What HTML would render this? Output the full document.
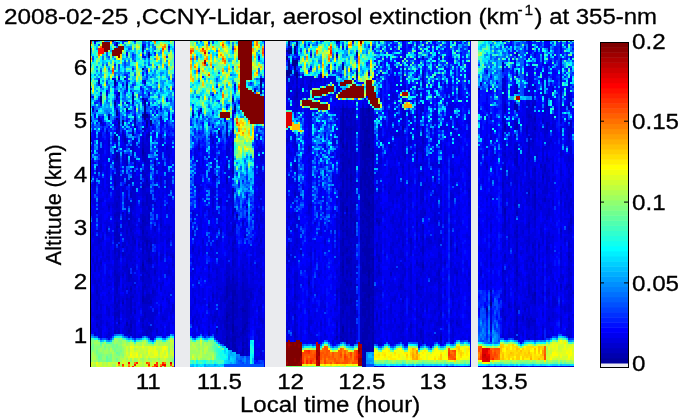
<!DOCTYPE html>
<html><head><meta charset="utf-8"><title>2008-02-25 CCNY-Lidar aerosol extinction</title>
<style>
html,body{margin:0;padding:0;background:#fff;}
body{width:700px;height:420px;overflow:hidden;position:relative;}
svg.page{position:absolute;left:0;top:0;}
svg.page text{font-family:"Liberation Sans",Arial,Helvetica,sans-serif;fill:#000;stroke:#000;stroke-width:0.3px;}
.plot{position:absolute;left:90px;top:40px;}
.cb{position:absolute;left:600px;top:42px;}
</style></head><body>
<svg class="plot" width="484" height="327" viewBox="0 0 484 327"><rect width="484" height="327" fill="#0000e0"/><g stroke-width="2" fill="none" shape-rendering="crispEdges"><path stroke="#00008f" d="M5 0v2M9 42v2M11 56v6M19 76v2M23 0v2M25 40v4M25 62v2M27 4v2M27 70v6M27 78v2M29 52v2M29 82v2M33 80v2M37 68v2M43 56v2M53 6v4M53 28v2M53 58v2M53 74v2M55 60v4M55 66v14M57 74v2M57 82v2M59 14v2M61 80v4M103 74v2M129 92v2M143 90v2M145 66v6M165 50v2M171 38v8M171 48v6M197 16v4M197 32v4M199 0v6M199 10v4M199 20v14M201 8v6M201 30v4M203 20v6M205 6v8M205 20v10M207 2v4M207 20v4M207 32v6M231 34v2M247 0v2M247 14v2M249 0v2M253 24v4M263 0v2M267 12v4M279 32v2M357 326v2M401 262v4"/><path stroke="#00009f" d="M9 40v2M25 44v2M25 64v2M25 96v4M27 2v2M27 116v2M33 82v2M37 44v2M43 58v2M45 78v2M45 86v2M53 110v4M53 224v2M55 64v2M57 76v2M57 80v2M57 84v2M59 16v2M61 84v2M111 70v2M129 90v2M137 94v2M137 276v2M143 92v2M143 102v2M143 262v2M143 284v8M147 174v2M197 10v2M197 30v2M199 8v2M199 34v2M253 104v4M253 182v2M253 226v2M253 286v6M257 168v4M267 32v4M275 102v4M275 132v2M275 308v2M277 90v2M279 68v4M279 104v4M279 162v4M279 230v8M279 240v6M279 254v4M283 114v4M283 218v2M389 48v2M397 268v2M415 86v2"/><path stroke="#0000af" d="M3 68v2M9 78v2M19 78v2M25 94v2M25 142v4M27 56v2M27 114v2M27 118v2M27 186v2M29 38v2M29 54v2M29 80v2M29 84v4M29 204v2M29 282v2M33 262v2M35 98v2M37 282v4M39 290v2M41 248v2M41 284v4M43 54v2M43 92v4M45 80v2M53 88v2M53 108v2M53 114v2M53 146v2M53 180v2M53 190v4M53 222v2M53 226v4M53 256v6M55 42v2M57 86v2M57 140v2M57 200v6M59 94v2M59 218v4M61 206v2M65 122v2M127 288v4M137 92v2M137 96v2M137 138v4M137 246v12M137 272v4M137 278v4M137 284v6M137 296v8M139 274v2M139 304v6M143 60v2M143 104v2M143 130v4M143 148v6M143 172v2M143 238v2M143 250v12M143 264v20M143 292v2M143 296v12M145 250v6M145 296v6M145 304v6M147 176v2M153 268v4M153 288v6M153 302v4M153 308v6M155 270v2M155 284v6M157 166v2M157 282v2M199 50v2M205 32v4M207 52v6M219 242v2M231 36v2M247 296v2M251 98v4M251 152v4M251 296v2M253 28v2M253 68v32M253 102v2M253 114v2M253 122v10M253 140v8M253 162v16M253 180v2M253 184v2M253 190v2M253 198v8M253 212v4M253 220v6M253 228v8M253 252v2M253 258v6M253 270v4M253 292v2M253 298v2M255 240v2M255 252v4M257 76v2M257 88v4M257 102v8M257 134v6M257 152v6M257 166v2M257 172v4M257 180v2M257 186v2M257 190v6M257 208v4M257 218v6M257 230v4M257 242v4M257 258v6M257 300v4M259 120v4M259 220v4M261 88v2M261 134v8M261 174v4M261 218v2M261 234v2M261 242v4M261 258v6M261 292v2M265 182v4M265 190v4M265 270v4M267 30v2M271 100v2M271 136v14M271 176v2M271 194v6M273 68v22M273 104v16M273 128v12M273 160v2M273 172v4M273 180v4M273 190v2M273 202v2M273 208v4M273 222v12M273 242v10M273 258v8M273 268v8M273 288v2M273 292v18M273 318v10M275 76v10M275 88v14M275 106v26M275 134v12M275 150v18M275 174v4M275 194v4M275 206v10M275 226v8M275 244v8M275 254v12M275 268v10M275 282v18M275 304v4M275 310v18M277 68v6M277 76v2M277 86v4M277 92v26M277 120v6M277 132v8M277 144v4M277 158v12M277 176v6M277 186v2M277 196v36M277 234v2M277 244v14M277 262v8M277 278v22M277 306v6M279 72v22M279 98v6M279 108v10M279 120v2M279 126v6M279 136v20M279 160v2M279 166v8M279 176v28M279 208v14M279 224v6M279 238v2M279 246v8M279 258v28M279 290v4M279 302v10M281 76v8M281 112v8M281 132v4M281 140v4M281 148v6M281 164v6M281 174v2M281 182v6M281 196v2M281 208v6M281 216v4M281 228v6M281 248v8M281 262v2M281 274v2M281 286v2M283 68v2M283 82v18M283 108v6M283 118v22M283 144v10M283 156v22M283 180v14M283 208v6M283 216v2M283 220v12M283 234v14M283 250v6M283 258v32M283 292v20M287 180v2M289 182v2M313 86v4M323 326v2M333 224v4M351 296v4M397 270v2M401 250v2M401 260v2M413 22v2M415 84v2M415 88v2M415 168v6M425 64v6M427 64v8M427 84v4M427 172v2M427 230v2M427 270v2M427 280v2M439 152v2M445 78v2M445 88v2M445 154v2M445 252v4M453 136v2M479 216v2"/><path stroke="#0000bf" d="M7 130v2M7 250v4M7 262v2M7 276v2M7 284v2M11 80v4M11 126v2M11 222v2M17 188v2M19 74v2M19 166v2M25 100v2M25 108v4M25 118v4M25 126v2M25 136v6M25 146v2M25 174v4M25 192v4M25 198v4M25 208v6M25 230v6M25 242v4M25 256v8M25 268v2M25 272v8M25 290v4M27 58v2M27 90v4M27 96v2M27 112v2M27 120v2M27 126v4M27 162v6M27 172v4M27 182v4M27 188v14M27 218v2M27 234v20M27 264v4M27 272v4M29 88v2M29 114v12M29 132v4M29 156v2M29 172v6M29 186v2M29 194v8M29 210v8M29 236v6M29 260v4M29 270v8M29 280v2M29 290v4M33 92v4M33 112v4M33 172v2M33 206v2M33 212v4M33 234v2M33 260v2M35 38v2M35 96v2M35 100v2M37 46v2M37 62v2M37 70v2M37 114v12M37 142v4M37 156v4M37 164v2M37 172v8M37 190v4M37 224v4M37 248v2M37 258v2M39 142v2M39 180v6M39 230v12M39 288v2M39 292v2M41 138v2M41 152v6M41 164v4M41 172v8M41 188v4M41 234v4M41 246v2M41 250v2M41 256v18M41 280v4M41 288v4M41 294v2M43 62v2M43 108v6M43 128v2M43 148v2M43 196v4M43 256v2M45 82v4M45 122v4M45 200v4M45 244v2M45 270v4M49 204v2M51 186v2M53 76v2M53 98v2M53 102v6M53 116v4M53 130v4M53 144v2M53 148v2M53 162v4M53 174v6M53 182v8M53 194v6M53 202v12M53 220v2M53 230v2M53 234v8M53 246v10M53 262v2M53 278v4M53 284v4M55 88v2M55 112v10M55 134v2M55 146v2M55 176v10M55 196v6M55 228v4M55 244v4M55 258v6M55 272v6M57 94v6M57 138v2M57 142v4M57 154v12M57 182v2M57 192v2M57 198v2M57 206v6M57 220v2M57 232v2M57 254v10M57 290v6M59 12v2M59 64v2M59 76v2M59 92v2M59 96v2M59 144v2M59 166v4M59 174v6M59 200v2M59 210v8M59 222v2M59 234v4M59 254v6M59 262v2M59 286v4M61 202v4M61 208v2M61 218v6M61 260v4M61 288v4M63 250v4M65 120v2M65 124v2M65 230v4M67 112v2M67 290v2M71 78v2M71 184v2M83 216v2M103 72v2M103 180v2M103 208v2M103 280v2M109 108v2M119 226v2M119 264v4M119 292v4M121 94v4M123 102v2M123 254v4M125 276v2M127 292v2M131 190v2M135 256v6M135 280v8M135 302v4M137 84v2M137 124v4M137 136v2M137 142v2M137 232v2M137 238v8M137 258v2M137 264v8M137 282v2M137 290v6M137 304v4M139 236v20M139 260v14M139 276v6M139 284v20M141 244v8M141 260v6M141 268v8M141 278v12M141 298v4M141 308v2M143 58v2M143 106v6M143 118v4M143 126v4M143 154v2M143 170v2M143 174v2M143 186v6M143 202v4M143 208v4M143 220v6M143 234v4M143 240v10M143 294v2M143 308v4M145 44v2M145 184v4M145 200v4M145 244v6M145 256v4M145 262v12M145 276v4M145 286v10M145 302v2M145 310v2M147 242v4M147 254v24M147 286v4M147 292v6M147 308v6M149 296v2M151 268v2M151 292v4M151 312v4M153 182v2M153 232v4M153 242v18M153 266v2M153 272v16M153 294v8M153 306v2M153 314v2M155 196v2M155 250v20M155 272v12M155 290v6M155 302v2M155 308v2M157 250v2M157 258v24M157 284v4M157 290v2M157 298v18M159 260v2M161 252v6M169 96v2M169 186v2M171 46v2M171 128v2M171 200v2M171 248v2M173 116v2M197 36v4M197 100v2M199 36v2M199 48v2M199 52v4M199 138v2M199 176v2M199 202v8M199 214v4M205 30v2M205 56v4M205 124v6M205 152v4M205 244v2M205 254v4M205 274v4M205 292v6M207 38v6M207 46v6M207 58v2M211 210v4M213 36v2M219 46v2M219 106v4M219 240v2M219 244v2M221 40v2M221 164v2M247 48v2M247 250v4M247 258v2M247 282v4M247 288v4M247 298v2M251 76v14M251 94v4M251 102v2M251 114v4M251 122v2M251 130v8M251 150v2M251 156v2M251 160v12M251 176v2M251 184v6M251 200v16M251 222v10M251 234v2M251 244v22M251 268v28M251 298v4M253 66v2M253 100v2M253 108v2M253 112v2M253 116v6M253 132v8M253 148v14M253 178v2M253 186v4M253 192v6M253 206v6M253 216v4M253 236v16M253 254v4M253 264v6M253 274v4M253 284v2M253 294v4M253 300v2M255 68v4M255 80v10M255 106v6M255 116v18M255 158v6M255 166v4M255 176v4M255 188v4M255 198v2M255 206v8M255 238v2M255 242v2M255 246v6M255 256v14M255 292v6M257 68v8M257 78v2M257 86v2M257 92v10M257 110v24M257 140v12M257 158v4M257 176v4M257 182v4M257 188v2M257 196v4M257 206v2M257 212v2M257 216v2M257 224v2M257 228v2M257 234v4M257 240v2M257 246v2M257 254v4M257 264v2M257 272v28M259 70v4M259 78v4M259 86v14M259 118v2M259 124v4M259 138v2M259 150v6M259 188v16M259 206v4M259 216v4M259 224v8M259 240v14M259 260v6M259 276v4M261 72v16M261 90v44M261 142v16M261 160v14M261 178v20M261 202v6M261 210v8M261 220v14M261 236v2M261 240v2M261 246v2M261 250v8M261 264v28M261 294v4M263 68v6M263 86v4M263 106v6M263 136v4M263 144v2M263 150v2M263 164v8M263 178v4M263 194v4M263 212v2M263 250v12M263 266v22M265 80v16M265 112v24M265 142v2M265 148v2M265 162v6M265 176v6M265 186v4M265 194v2M265 204v4M265 224v6M265 238v2M265 244v12M265 258v12M265 274v2M265 278v16M265 296v8M271 68v32M271 102v34M271 150v26M271 178v16M271 200v26M271 230v32M271 264v40M273 66v2M273 90v14M273 120v8M273 140v20M273 162v10M273 176v4M273 184v6M273 192v10M273 204v4M273 212v10M273 234v8M273 252v6M273 266v2M273 276v12M273 290v2M273 310v8M275 68v8M275 86v2M275 146v4M275 168v6M275 178v16M275 198v8M275 216v10M275 234v10M275 252v2M275 266v2M275 278v4M275 300v4M277 74v2M277 78v8M277 118v2M277 126v6M277 140v4M277 148v10M277 170v6M277 182v4M277 188v8M277 232v2M277 236v8M277 258v4M277 270v8M277 300v6M279 66v2M279 94v4M279 118v2M279 122v4M279 132v4M279 156v4M279 174v2M279 204v4M279 222v2M279 286v4M279 294v8M281 68v8M281 84v28M281 120v4M281 126v6M281 136v4M281 144v4M281 154v10M281 170v4M281 176v6M281 188v8M281 198v10M281 214v2M281 220v8M281 234v14M281 256v6M281 264v10M281 276v10M281 288v24M283 70v12M283 100v8M283 140v4M283 154v2M283 178v2M283 194v14M283 214v2M283 232v2M283 248v2M283 256v2M283 290v2M285 326v2M287 178v2M287 204v2M287 214v2M287 274v6M287 326v2M289 180v2M289 184v2M289 216v6M289 230v4M299 152v2M301 106v2M301 232v4M301 326v2M311 244v4M313 36v4M313 60v2M313 76v4M313 106v2M313 126v2M313 204v2M313 260v2M315 72v2M315 116v2M321 110v2M321 198v6M321 284v4M327 74v4M327 86v2M327 110v2M327 114v6M327 182v4M327 198v2M327 222v2M327 244v6M327 326v2M331 124v2M331 290v8M333 32v4M333 38v4M333 58v2M333 70v2M333 88v6M333 98v6M333 110v2M333 114v4M333 158v2M333 184v6M333 196v4M333 206v8M333 222v2M333 228v2M333 282v4M333 300v4M335 172v2M341 326v2M345 138v4M349 230v6M349 242v2M349 264v2M351 200v2M351 272v4M351 294v2M351 300v2M355 222v2M361 200v6M363 326v2M367 208v4M367 232v2M367 282v2M379 150v2M379 326v2M397 126v2M401 214v2M401 256v4M401 266v2M401 282v2M405 326v2M413 0v2M413 24v8M413 48v2M413 80v2M413 92v4M413 142v6M413 166v2M413 230v2M413 270v2M415 64v8M415 82v2M415 90v2M415 114v2M415 126v4M415 174v14M415 214v4M415 242v4M415 250v6M415 276v4M419 264v4M423 326v2M425 52v2M425 62v2M425 80v4M425 86v4M425 94v2M425 108v2M425 118v6M425 164v2M425 192v2M425 214v4M425 262v4M427 12v4M427 34v2M427 46v8M427 82v2M427 88v2M427 112v14M427 160v2M427 170v2M427 174v2M427 186v2M427 190v2M427 194v4M427 202v10M427 226v4M427 232v4M427 242v4M427 268v2M427 272v2M427 276v4M427 282v12M427 296v2M427 326v2M431 326v2M433 276v4M435 268v2M437 86v8M437 278v2M439 44v4M439 64v2M439 74v4M439 96v18M439 118v2M439 150v2M439 154v2M439 182v6M439 244v10M439 280v8M439 298v2M441 76v2M441 278v2M443 64v4M443 100v2M443 146v2M443 204v4M443 218v4M443 254v6M443 280v2M445 76v2M445 80v2M445 86v2M445 128v4M445 142v2M445 150v4M445 156v14M445 176v4M445 244v4M445 256v8M445 280v2M445 294v2M449 204v4M451 124v4M453 52v4M453 80v2M453 134v2M453 138v2M453 252v2M455 70v2M455 124v8M455 158v4M455 326v2M457 58v10M457 82v8M457 118v2M457 206v4M459 252v2M459 278v2M471 90v2M471 152v2M471 190v2M471 244v4M477 246v2M479 64v4M479 94v4M479 186v4M479 202v6M479 212v4M479 218v2M479 228v2M479 244v2M479 278v2M479 296v2M479 326v2M481 80v8M481 178v6"/><path stroke="#0000cf" d="M1 100v2M1 254v6M1 268v8M3 122v2M3 192v4M3 218v4M5 142v4M5 224v8M5 240v4M5 292v4M7 126v4M7 132v4M7 172v2M7 190v2M7 216v8M7 244v6M7 254v2M7 260v2M7 264v6M7 274v2M7 278v2M7 282v2M7 286v2M9 76v2M9 98v4M9 112v2M9 160v4M9 178v2M9 190v2M9 198v6M9 226v4M9 240v2M9 254v6M9 274v6M9 286v6M11 62v2M11 94v2M11 124v2M11 128v4M11 160v2M11 184v6M11 200v2M11 206v4M11 220v2M11 224v2M11 264v6M11 274v4M11 280v6M11 288v10M13 84v2M13 196v4M13 212v4M17 52v2M17 90v4M17 186v2M17 190v4M17 216v2M17 266v4M17 282v4M17 296v2M19 100v6M19 148v4M19 164v2M19 168v2M19 210v4M19 216v4M19 236v2M19 244v2M19 252v2M19 268v8M19 288v2M19 292v4M23 164v4M25 60v2M25 84v2M25 112v2M25 122v4M25 134v2M25 148v2M25 156v14M25 172v2M25 178v2M25 182v2M25 188v4M25 196v2M25 202v6M25 214v16M25 236v6M25 246v10M25 264v4M25 270v2M25 280v10M27 88v2M27 98v8M27 108v2M27 122v4M27 130v4M27 136v10M27 150v8M27 160v2M27 168v4M27 176v6M27 202v2M27 208v4M27 216v2M27 220v14M27 254v4M27 262v2M27 268v4M27 276v2M27 286v4M27 292v2M29 78v2M29 90v2M29 112v2M29 126v6M29 136v8M29 148v8M29 158v14M29 178v2M29 182v4M29 192v2M29 206v4M29 218v2M29 226v2M29 232v4M29 242v4M29 254v6M29 264v6M29 278v2M29 284v2M29 288v2M31 190v2M33 84v2M33 90v2M33 96v4M33 116v4M33 134v6M33 148v4M33 174v18M33 202v4M33 216v2M33 226v4M33 232v2M33 236v2M33 244v6M33 258v2M33 264v2M33 270v4M35 94v2M35 102v2M35 120v4M35 130v4M35 144v2M35 160v4M35 180v4M35 202v4M35 212v4M35 226v6M35 286v4M35 294v2M37 48v2M37 102v2M37 136v6M37 150v6M37 160v4M37 166v6M37 180v2M37 186v4M37 194v6M37 206v6M37 216v8M37 228v14M37 246v2M37 254v4M37 260v18M37 280v2M37 286v10M39 106v2M39 140v2M39 160v6M39 174v4M39 186v2M39 196v8M39 214v6M39 228v2M39 252v2M39 258v10M39 270v10M39 284v4M41 106v4M41 116v6M41 140v4M41 150v2M41 162v2M41 168v4M41 180v8M41 192v4M41 204v2M41 210v12M41 238v4M41 252v4M41 274v2M41 278v2M41 292v2M43 90v2M43 100v8M43 114v2M43 120v2M43 130v12M43 146v2M43 150v20M43 176v4M43 184v6M43 192v4M43 200v12M43 216v2M43 224v2M43 228v4M43 238v8M43 254v2M43 276v8M45 76v2M45 98v8M45 118v4M45 126v2M45 132v2M45 146v20M45 178v4M45 186v2M45 198v2M45 204v2M45 220v2M45 226v4M45 240v2M45 246v2M45 250v4M45 262v4M45 268v2M45 280v18M49 124v4M49 196v2M49 202v2M49 206v2M49 216v2M51 140v2M51 174v6M51 184v2M51 188v2M51 196v4M51 226v6M51 236v4M51 278v4M53 62v2M53 92v2M53 96v2M53 100v2M53 120v2M53 134v4M53 142v2M53 150v8M53 160v2M53 166v8M53 200v2M53 214v6M53 232v2M53 242v4M53 264v10M53 276v2M53 282v2M53 288v2M53 292v4M55 40v2M55 90v2M55 104v8M55 122v2M55 132v2M55 136v2M55 142v4M55 148v8M55 162v14M55 186v10M55 202v2M55 206v4M55 214v6M55 226v2M55 232v2M55 236v8M55 248v2M55 256v2M55 264v8M55 278v2M55 286v8M57 100v2M57 106v8M57 116v10M57 130v4M57 136v2M57 146v2M57 152v2M57 170v12M57 184v2M57 190v2M57 194v4M57 212v8M57 222v2M57 230v2M57 234v10M57 246v8M57 264v14M57 282v8M59 54v2M59 78v2M59 102v12M59 120v4M59 126v6M59 142v2M59 146v2M59 152v14M59 170v4M59 180v6M59 196v4M59 202v2M59 208v2M59 224v10M59 238v10M59 252v2M59 260v2M59 264v2M59 270v12M59 290v6M61 154v10M61 168v4M61 198v4M61 210v2M61 216v2M61 224v2M61 228v2M61 238v6M61 254v6M61 264v2M61 270v14M61 286v2M61 292v8M63 162v2M63 248v2M63 254v4M63 272v18M63 298v2M65 126v2M65 146v4M65 162v4M65 186v6M65 198v6M65 216v4M65 228v2M65 234v2M65 240v2M65 250v6M65 270v6M67 128v2M67 136v4M67 212v12M67 244v4M67 270v4M67 288v2M67 292v2M71 68v2M71 76v2M71 94v6M71 136v10M71 166v2M71 178v6M71 186v2M71 194v2M71 214v6M71 244v6M71 266v6M73 98v2M73 126v2M73 214v2M73 242v2M73 258v2M73 276v4M75 186v2M75 278v2M77 106v4M77 140v8M77 166v4M77 200v4M77 212v4M77 258v2M79 114v4M79 186v4M79 198v4M79 230v4M79 260v4M81 144v4M81 214v2M81 272v2M83 194v4M83 214v2M83 218v2M83 224v2M83 248v2M83 264v8M103 172v4M103 190v6M103 206v2M103 210v2M103 220v2M103 230v2M103 278v2M103 282v4M105 144v2M105 258v6M105 276v2M107 280v4M109 72v2M109 104v4M109 148v4M109 158v4M109 210v4M109 238v2M109 286v4M113 200v4M119 118v2M119 170v2M119 186v2M119 224v2M119 228v2M119 234v4M119 262v2M119 286v2M119 290v2M121 196v2M121 208v2M121 274v2M123 98v4M123 122v4M123 136v4M123 150v4M123 158v10M123 172v2M123 228v2M123 252v2M123 258v4M123 276v8M125 136v4M125 154v2M125 272v4M125 278v4M127 100v2M127 136v2M127 190v2M127 200v6M127 228v6M127 236v4M127 246v2M127 252v8M127 270v8M127 284v2M127 294v2M127 298v2M129 94v2M129 116v4M129 158v6M129 186v2M129 248v2M129 266v2M129 278v4M131 94v2M131 158v6M131 178v2M131 188v2M131 192v2M131 248v2M131 256v14M131 280v10M131 300v4M133 254v8M133 276v8M133 290v14M135 130v2M135 234v2M135 246v10M135 262v2M135 268v12M135 288v8M135 298v4M137 82v2M137 86v2M137 106v10M137 120v4M137 128v2M137 162v4M137 176v2M137 184v6M137 218v2M137 224v8M137 234v4M137 260v4M139 108v4M139 134v2M139 182v2M139 192v4M139 200v4M139 224v12M139 256v4M139 282v2M141 96v2M141 130v2M141 160v2M141 192v4M141 228v2M141 240v4M141 252v4M141 258v2M141 266v2M141 276v2M141 290v2M141 294v4M141 302v6M143 72v2M143 76v2M143 100v2M143 112v6M143 122v4M143 134v4M143 156v14M143 176v2M143 182v4M143 192v4M143 200v2M143 206v2M143 212v8M143 226v8M145 168v4M145 182v2M145 196v4M145 208v2M145 218v10M145 236v8M145 260v2M145 274v2M145 280v6M147 210v4M147 230v12M147 246v8M147 278v8M147 290v2M147 298v10M149 250v16M149 268v28M149 298v8M149 312v2M151 246v18M151 266v2M151 270v8M151 280v8M151 290v2M151 296v6M151 310v2M153 180v2M153 184v2M153 224v8M153 236v6M153 260v6M155 194v2M155 214v2M155 230v20M155 296v6M155 304v4M155 310v6M157 174v2M157 222v2M157 238v12M157 252v6M157 288v2M157 292v6M159 248v8M159 258v2M159 262v16M159 282v2M159 290v2M159 308v4M161 222v4M161 232v2M161 248v4M161 258v2M163 232v4M163 238v2M163 248v2M163 254v6M167 114v2M167 168v4M167 178v4M167 198v2M167 224v4M167 290v4M167 318v2M169 94v2M169 132v2M169 156v4M169 184v2M169 188v2M169 204v2M169 250v2M169 266v6M169 276v4M169 290v10M171 106v2M171 116v6M171 126v2M171 144v2M171 152v2M171 160v6M171 174v8M171 198v2M171 202v2M171 210v4M171 228v12M171 246v2M171 250v4M171 264v6M171 278v4M171 312v4M173 38v2M173 114v2M173 118v2M173 138v4M173 178v2M173 212v2M173 280v4M197 40v2M197 52v6M197 90v2M197 98v2M197 102v2M197 122v6M197 134v4M197 154v4M197 182v2M197 188v6M197 208v2M197 212v4M197 220v4M197 282v4M197 288v4M199 42v6M199 56v2M199 96v6M199 108v6M199 136v2M199 140v4M199 172v4M199 178v2M199 194v4M199 218v2M199 228v4M199 238v10M199 270v12M199 286v4M201 46v4M201 186v4M203 18v2M203 40v4M203 56v4M203 160v2M203 184v2M203 208v2M203 216v4M203 268v2M203 292v2M205 50v6M205 60v2M205 94v12M205 122v2M205 150v2M205 156v2M205 162v2M205 172v6M205 184v8M205 204v2M205 232v12M205 246v8M205 258v2M205 262v8M205 278v14M205 298v4M207 18v2M207 24v2M207 44v2M207 60v8M207 70v2M207 124v10M207 178v4M207 190v2M207 198v6M207 206v2M207 232v10M207 256v4M207 284v2M207 296v2M209 50v4M209 152v4M209 180v4M211 44v6M213 38v8M213 54v2M219 44v2M219 48v4M219 94v2M219 110v2M219 120v2M219 164v10M219 236v4M219 246v2M219 258v4M219 270v4M219 280v14M221 14v2M221 38v2M221 42v8M221 74v4M221 162v2M221 166v2M221 212v4M221 222v8M221 252v2M221 280v4M221 294v2M223 38v2M225 182v2M225 210v2M225 246v2M227 38v2M227 300v2M229 234v2M231 38v4M231 58v2M231 192v2M231 282v4M235 40v4M235 130v2M235 172v2M235 200v4M235 266v2M235 294v2M239 30v2M243 136v2M243 190v4M243 300v4M245 40v6M245 52v8M245 68v2M245 102v2M245 268v2M245 298v2M247 2v2M247 42v6M247 50v4M247 94v2M247 116v2M247 148v2M247 160v4M247 172v4M247 178v22M247 206v4M247 230v4M247 248v2M247 254v4M247 260v6M247 280v2M247 286v2M247 292v4M249 136v4M249 150v6M249 180v4M249 236v6M249 248v4M249 302v2M251 68v2M251 72v4M251 90v4M251 104v10M251 118v4M251 124v2M251 128v2M251 138v4M251 146v4M251 158v2M251 172v4M251 178v6M251 190v10M251 216v6M251 232v2M251 236v8M251 266v2M253 64v2M253 110v2M253 278v6M255 72v2M255 76v4M255 90v8M255 104v2M255 112v4M255 134v24M255 164v2M255 170v2M255 174v2M255 180v8M255 192v6M255 200v6M255 214v24M255 244v2M255 270v22M255 298v4M257 60v2M257 66v2M257 80v6M257 162v4M257 200v6M257 214v2M257 226v2M257 238v2M257 248v6M257 266v6M259 68v2M259 74v4M259 82v4M259 100v10M259 112v6M259 128v10M259 140v10M259 156v16M259 174v14M259 204v2M259 210v6M259 232v8M259 254v6M259 266v10M259 280v8M259 292v10M261 68v4M261 158v2M261 198v4M261 208v2M261 238v2M261 248v2M261 298v8M263 74v12M263 90v16M263 112v24M263 140v4M263 146v4M263 152v12M263 172v6M263 182v12M263 198v6M263 206v6M263 214v36M263 262v4M263 288v2M263 292v14M265 60v4M265 68v12M265 96v16M265 136v6M265 144v4M265 150v12M265 168v8M265 196v8M265 208v6M265 216v8M265 230v8M265 240v4M265 256v2M265 276v2M265 294v2M267 36v2M267 84v8M267 112v10M267 142v2M267 154v2M267 162v2M267 180v2M267 198v4M267 220v4M267 244v2M267 254v6M267 274v4M267 290v2M271 226v4M271 262v2M273 64v2M279 64v2M281 124v2M285 112v2M285 148v4M285 164v6M285 248v8M285 260v4M285 266v2M285 290v4M285 300v4M287 74v4M287 126v2M287 144v2M287 160v4M287 172v4M287 182v2M287 202v2M287 206v8M287 216v2M287 226v2M287 232v6M287 248v4M287 272v2M287 280v2M289 84v8M289 110v6M289 122v2M289 150v4M289 156v4M289 172v2M289 178v2M289 192v8M289 214v2M289 224v6M289 234v2M289 250v2M289 264v4M289 284v6M289 302v4M291 32v4M291 48v2M291 58v4M291 88v2M291 100v2M291 118v6M291 150v2M291 168v6M291 178v4M291 192v2M291 204v8M291 220v2M291 232v4M291 246v2M291 250v4M291 256v2M291 264v2M291 272v6M291 280v6M291 302v4M293 100v2M293 172v2M293 326v2M295 146v2M295 186v2M295 214v2M295 242v2M295 270v4M299 70v4M299 150v2M301 82v2M301 92v2M301 104v2M301 108v4M301 128v8M301 146v4M301 180v2M301 206v8M301 264v10M303 54v4M303 80v2M303 88v2M303 144v2M303 160v4M303 176v8M303 202v4M303 210v4M303 228v2M303 258v2M303 326v2M305 36v4M305 70v2M305 94v4M305 118v2M305 134v10M305 188v2M305 216v6M305 256v6M305 278v4M307 94v2M307 130v4M307 152v4M307 160v2M307 192v2M307 202v2M307 228v2M309 92v4M309 116v4M309 152v4M309 184v4M309 198v4M309 216v2M309 246v4M309 286v2M309 300v2M311 64v4M311 124v2M311 148v6M311 176v10M311 190v6M311 210v8M311 222v4M311 240v4M311 248v2M311 254v4M311 272v2M311 276v4M311 290v4M311 296v2M311 326v2M313 0v2M313 18v2M313 26v2M313 34v2M313 40v2M313 58v2M313 62v2M313 68v8M313 80v2M313 84v2M313 90v6M313 102v4M313 108v8M313 124v2M313 128v6M313 140v20M313 162v4M313 168v10M313 192v12M313 206v2M313 212v6M313 224v6M313 234v8M313 244v6M313 258v2M313 262v2M313 270v6M313 282v10M313 296v4M313 326v2M315 16v2M315 46v4M315 70v2M315 74v2M315 100v2M315 104v2M315 112v4M315 118v2M315 148v4M315 164v6M315 182v4M315 196v2M315 218v4M315 228v8M315 250v2M315 256v2M319 70v4M319 78v2M319 100v4M319 112v2M319 124v6M319 142v4M319 154v4M319 178v2M319 188v6M319 198v4M319 228v2M319 266v4M319 288v4M319 300v2M319 326v2M321 74v8M321 84v2M321 94v4M321 100v4M321 112v2M321 140v2M321 152v6M321 164v2M321 204v12M321 224v20M321 250v14M321 268v2M321 282v2M321 288v10M327 46v8M327 58v8M327 70v4M327 78v2M327 84v2M327 88v2M327 98v2M327 104v6M327 112v2M327 120v2M327 124v4M327 150v8M327 166v4M327 176v2M327 180v2M327 186v6M327 196v2M327 200v2M327 220v2M327 224v2M327 238v2M327 242v2M327 250v4M327 268v10M327 284v8M327 296v6M329 52v4M329 92v4M329 108v2M329 134v8M329 204v2M329 224v2M329 244v4M329 252v4M329 276v2M329 292v2M329 302v6M329 326v2M331 68v8M331 106v6M331 132v2M331 150v14M331 170v8M331 196v2M331 208v4M331 222v6M331 232v4M331 246v4M331 254v4M331 264v4M331 274v6M331 288v2M331 298v2M333 16v4M333 30v2M333 36v2M333 42v2M333 46v2M333 56v2M333 64v6M333 86v2M333 94v4M333 104v6M333 112v2M333 118v2M333 132v4M333 146v12M333 160v2M333 168v10M333 190v6M333 200v6M333 214v2M333 220v2M333 230v2M333 246v2M333 262v4M333 268v4M333 278v4M333 290v10M333 326v2M335 102v2M335 144v2M335 170v2M335 174v2M337 138v4M337 160v2M337 198v2M337 264v8M339 146v2M339 198v6M339 234v2M339 294v2M341 88v2M341 166v2M341 200v4M341 226v2M341 240v2M341 254v4M341 280v2M343 82v4M343 124v2M345 36v2M345 88v2M345 98v2M345 136v2M345 150v6M345 172v10M345 194v6M345 222v4M345 238v4M345 270v4M345 288v2M345 294v2M345 326v2M347 122v2M347 154v2M347 160v2M347 180v4M347 232v4M347 238v2M347 282v4M347 296v4M347 326v2M349 124v4M349 144v2M349 176v4M349 198v8M349 212v6M349 228v2M349 236v6M349 244v20M349 266v4M349 276v10M351 16v4M351 86v4M351 104v6M351 124v4M351 146v4M351 156v6M351 166v4M351 180v6M351 194v6M351 202v2M351 214v16M351 238v4M351 244v4M351 254v12M351 270v2M351 276v2M351 280v6M351 292v2M351 302v2M355 106v4M355 180v4M355 192v2M355 220v2M355 224v2M355 250v6M357 286v2M361 70v2M361 86v4M361 128v2M361 152v8M361 176v2M361 184v6M361 196v4M361 206v6M361 222v6M361 250v6M361 270v4M361 280v6M363 112v2M363 128v6M363 144v2M363 154v6M363 254v6M363 262v4M363 280v2M363 288v10M363 300v2M365 228v6M367 82v4M367 196v2M367 206v2M367 212v2M367 230v2M367 234v2M367 240v6M367 280v2M367 284v2M367 326v2M369 48v8M369 152v2M369 252v2M369 264v4M369 284v2M369 326v2M377 326v2M379 82v2M379 116v2M379 132v4M379 140v2M379 148v2M379 152v6M379 162v4M379 232v4M379 242v4M389 174v2M389 182v4M391 42v4M391 230v6M395 122v2M397 108v6M397 124v2M397 128v2M397 158v2M397 244v4M397 266v2M397 272v2M397 326v2M399 48v2M399 326v2M401 78v2M401 90v4M401 96v4M401 156v4M401 184v8M401 200v2M401 208v6M401 216v2M401 222v4M401 242v2M401 252v2M401 280v2M401 286v4M405 114v2M411 326v2M413 38v4M413 44v4M413 54v4M413 78v2M413 82v2M413 88v4M413 96v2M413 102v2M413 112v4M413 126v16M413 148v18M413 168v8M413 184v8M413 202v6M413 226v4M413 232v10M413 268v2M413 272v6M413 290v8M415 40v6M415 48v8M415 62v2M415 72v2M415 80v2M415 102v8M415 112v2M415 116v2M415 122v4M415 130v10M415 154v8M415 166v2M415 188v6M415 200v6M415 218v4M415 230v4M415 246v4M415 256v6M415 280v2M415 326v2M417 142v2M417 326v2M419 86v4M419 130v10M419 142v4M419 152v6M419 178v6M419 194v6M419 202v8M419 226v2M419 262v2M419 288v10M421 112v2M421 266v2M425 50v2M425 84v2M425 96v2M425 104v4M425 110v6M425 124v2M425 132v12M425 150v6M425 162v2M425 166v2M425 176v4M425 190v2M425 194v4M425 218v6M425 232v2M425 238v4M425 252v4M425 260v2M425 266v4M425 280v6M425 288v12M427 30v4M427 44v2M427 102v10M427 126v2M427 132v2M427 140v10M427 158v2M427 162v8M427 184v2M427 188v2M427 192v2M427 198v4M427 212v14M427 236v6M427 246v6M427 258v2M427 266v2M427 274v2M427 298v2M429 126v4M429 234v2M429 266v4M431 142v4M431 212v2M433 108v2M433 118v4M433 190v4M433 262v2M433 274v2M433 280v2M433 292v4M435 262v2M435 266v2M435 270v2M437 48v2M437 60v6M437 68v10M437 84v2M437 94v2M437 112v6M437 122v10M437 150v2M437 158v6M437 184v4M437 200v2M437 206v6M437 220v2M437 224v6M437 236v2M437 256v2M437 264v4M437 276v2M437 280v8M437 294v4M439 26v2M439 40v4M439 48v2M439 52v4M439 60v4M439 66v2M439 70v4M439 78v10M439 114v4M439 120v2M439 132v8M439 142v2M439 148v2M439 156v6M439 164v2M439 174v8M439 188v6M439 196v10M439 216v4M439 234v10M439 254v4M439 266v10M439 278v2M439 288v2M441 68v4M441 74v2M441 78v4M441 96v2M441 102v4M441 116v2M441 140v6M441 170v6M441 216v2M441 224v2M441 228v2M441 238v2M441 246v10M441 260v4M441 276v2M441 280v6M443 46v2M443 54v4M443 62v2M443 68v2M443 78v12M443 92v8M443 102v8M443 128v8M443 140v6M443 148v2M443 154v14M443 178v2M443 202v2M443 208v2M443 216v2M443 230v6M443 242v2M443 252v2M443 260v4M443 278v2M443 282v4M443 326v2M445 44v2M445 48v2M445 60v6M445 72v4M445 82v2M445 90v2M445 94v4M445 126v2M445 132v10M445 144v6M445 170v6M445 180v8M445 200v6M445 208v8M445 222v22M445 248v4M445 264v2M445 278v2M445 282v12M445 296v4M447 114v4M447 326v2M449 144v4M449 164v2M449 202v2M449 208v2M449 214v6M449 326v2M451 166v4M451 188v8M453 40v2M453 46v6M453 78v2M453 82v2M453 88v2M453 108v14M453 126v8M453 140v4M453 150v4M453 158v4M453 192v12M453 222v4M453 228v4M453 236v4M453 250v2M453 254v2M453 258v6M453 272v4M453 286v4M453 294v6M453 326v2M455 54v2M455 68v2M455 72v2M455 88v10M455 106v2M455 132v2M455 146v8M455 156v2M457 24v2M457 56v2M457 68v2M457 90v4M457 114v4M457 120v2M457 132v22M457 174v6M457 196v10M457 210v4M457 228v4M457 250v8M457 296v2M459 8v2M459 66v4M459 82v4M459 102v4M459 120v2M459 130v2M459 136v6M459 160v2M459 168v8M459 192v6M459 202v2M459 206v4M459 224v4M459 248v4M459 254v2M459 260v8M459 276v2M459 280v2M459 296v2M461 100v2M461 230v4M461 288v2M463 48v4M463 74v6M463 84v4M463 124v8M463 138v2M463 160v6M463 196v2M463 238v2M463 256v12M463 272v6M465 68v2M465 258v8M465 326v2M467 246v4M467 262v2M471 18v2M471 36v6M471 50v6M471 66v2M471 80v2M471 88v2M471 92v2M471 110v6M471 130v6M471 150v2M471 154v2M471 160v4M471 188v2M471 192v6M471 206v4M471 212v8M471 226v2M471 234v4M471 248v2M471 260v8M471 276v12M471 326v2M473 144v4M473 236v4M473 326v2M475 150v2M475 162v6M475 198v4M475 248v2M475 266v6M477 124v2M477 154v6M477 244v2M477 248v2M477 288v2M477 294v2M477 326v2M479 42v4M479 54v6M479 62v2M479 68v2M479 86v8M479 98v4M479 108v2M479 116v6M479 128v6M479 138v12M479 162v12M479 182v4M479 190v4M479 200v2M479 208v4M479 220v8M479 230v14M479 246v2M479 250v10M479 264v8M479 276v2M479 280v2M479 284v6M479 294v2M481 88v4M481 106v8M481 144v2M481 160v6M481 174v4M481 184v2M481 188v4M481 220v2M481 232v4M481 244v6M481 254v2M481 326v2M483 252v2M483 326v2"/><path stroke="#0000df" d="M1 80v2M1 98v2M1 134v6M1 156v4M1 168v2M1 172v4M1 182v4M1 194v6M1 206v14M1 226v6M1 252v2M1 260v2M1 264v4M1 276v4M1 284v8M3 70v2M3 120v2M3 130v2M3 144v8M3 158v6M3 170v12M3 188v4M3 196v2M3 204v8M3 216v2M3 222v2M3 234v10M3 254v6M3 272v4M3 288v2M5 94v4M5 140v2M5 146v8M5 160v6M5 178v4M5 190v2M5 196v10M5 212v2M5 222v2M5 238v2M5 244v36M7 70v2M7 136v2M7 170v2M7 196v10M7 210v6M7 224v2M7 240v4M7 256v4M7 270v4M7 280v2M9 80v2M9 94v4M9 102v10M9 120v6M9 138v2M9 158v2M9 164v8M9 176v2M9 180v2M9 188v2M9 192v6M9 204v6M9 214v2M9 222v4M9 230v2M9 238v2M9 242v2M9 246v8M9 260v6M9 270v4M9 280v6M9 292v6M11 92v2M11 96v2M11 100v2M11 108v16M11 132v2M11 138v2M11 146v2M11 152v2M11 158v2M11 162v8M11 174v10M11 190v2M11 198v2M11 202v4M11 210v2M11 218v2M11 226v4M11 232v14M11 250v2M11 260v4M11 270v4M11 278v2M11 286v2M13 82v2M13 102v4M13 108v6M13 120v2M13 126v4M13 138v12M13 158v4M13 168v2M13 192v4M13 200v2M13 210v2M13 216v4M13 246v4M13 256v4M13 264v2M13 280v4M15 150v2M15 182v2M15 218v4M17 116v4M17 126v12M17 140v4M17 146v2M17 154v4M17 162v4M17 180v6M17 194v2M17 202v14M17 218v2M17 224v2M17 230v18M17 254v2M17 264v2M17 270v6M17 280v2M17 286v2M17 294v2M19 98v2M19 106v12M19 122v6M19 138v10M19 152v2M19 162v2M19 170v2M19 176v4M19 182v4M19 192v4M19 202v8M19 214v2M19 220v2M19 224v6M19 234v2M19 238v2M19 242v2M19 250v2M19 254v8M19 266v2M19 276v2M19 282v6M19 290v2M19 296v4M21 120v2M21 162v4M21 184v4M21 194v12M21 224v4M21 238v2M21 242v4M21 248v2M21 254v6M21 264v2M21 286v10M23 38v2M23 114v2M23 118v2M23 132v6M23 162v2M23 168v8M23 210v10M23 226v4M23 232v6M23 264v4M23 272v4M25 66v2M25 82v2M25 114v4M25 150v6M25 170v2M25 180v2M25 184v4M27 68v2M27 80v2M27 84v2M27 106v2M27 134v2M27 146v4M27 158v2M27 212v4M27 258v4M27 278v4M27 284v2M27 290v2M29 92v2M29 144v4M29 180v2M29 188v4M29 220v6M29 228v4M29 246v2M29 250v4M29 286v2M31 140v2M31 146v2M31 160v2M31 168v2M31 188v2M31 206v2M31 212v2M31 230v6M31 256v6M31 268v4M31 282v2M33 100v2M33 106v4M33 120v6M33 140v2M33 146v2M33 192v6M33 218v8M33 230v2M33 238v6M33 250v2M33 256v2M33 266v4M33 274v8M33 288v6M35 104v2M35 108v2M35 118v2M35 124v6M35 134v2M35 146v6M35 158v2M35 164v4M35 176v4M35 184v18M35 206v2M35 210v2M35 216v2M35 222v4M35 232v2M35 240v4M35 248v12M35 264v14M35 284v2M35 290v4M37 42v2M37 98v4M37 134v2M37 182v4M37 200v2M37 212v4M37 242v4M37 278v2M39 188v8M39 204v10M39 220v8M39 242v10M39 254v4M39 268v2M39 280v4M39 294v4M41 144v6M41 196v8M41 206v4M41 222v6M41 242v4M41 276v2M43 60v2M43 116v4M43 170v2M43 174v2M43 180v4M43 190v2M43 212v4M43 218v6M43 226v2M43 232v6M43 246v8M43 258v2M43 262v4M43 268v4M43 274v2M43 284v14M45 106v6M45 134v2M45 138v8M45 166v12M45 182v4M45 188v4M45 194v4M45 206v14M45 222v4M45 230v2M45 234v6M45 248v2M45 254v8M45 266v2M45 274v2M45 278v2M47 106v2M47 122v2M47 136v6M47 144v4M47 154v6M47 178v2M47 194v4M47 212v2M47 236v8M47 254v8M49 104v2M49 122v2M49 128v2M49 136v12M49 154v2M49 182v6M49 198v4M49 208v2M49 214v2M49 246v6M49 266v4M49 294v4M51 102v16M51 124v2M51 148v8M51 162v6M51 180v4M51 190v6M51 200v2M51 204v4M51 212v14M51 232v2M51 240v2M51 250v18M51 276v2M51 282v6M51 294v4M53 4v2M53 10v2M53 94v2M53 158v2M53 274v2M53 290v2M55 86v2M55 98v6M55 124v8M55 138v4M55 156v6M55 204v2M55 210v4M55 220v6M55 234v2M55 250v2M55 254v2M55 280v6M55 294v2M57 30v2M57 58v2M57 88v2M57 92v2M57 102v4M57 114v2M57 126v4M57 134v2M57 148v4M57 166v4M57 186v4M57 224v6M57 244v2M57 278v4M59 74v2M59 80v2M59 88v4M59 98v4M59 118v2M59 124v2M59 132v2M59 136v6M59 148v4M59 186v10M59 204v4M59 248v4M59 266v4M59 284v2M61 164v4M61 194v4M61 212v4M61 226v2M61 230v8M61 244v6M61 268v2M63 160v2M63 184v12M63 198v6M63 212v2M63 220v4M63 228v8M63 246v2M63 258v10M63 290v2M63 296v2M65 92v2M65 128v4M65 138v6M65 150v8M65 166v4M65 174v4M65 192v2M65 196v2M65 214v2M65 220v2M65 226v2M65 236v4M65 242v2M65 248v2M65 256v6M65 268v2M65 276v4M65 284v6M67 126v2M67 134v2M67 140v2M67 146v4M67 160v2M67 166v2M67 180v8M67 192v12M67 210v2M67 224v8M67 234v10M67 248v2M67 252v4M67 268v2M67 274v2M67 280v4M67 294v2M69 106v2M69 150v4M69 156v4M69 242v2M69 294v2M71 80v2M71 100v8M71 112v10M71 130v2M71 146v2M71 158v8M71 168v10M71 188v6M71 196v6M71 210v4M71 220v2M71 230v8M71 242v2M71 250v2M71 264v2M71 272v8M71 284v4M71 292v4M73 82v2M73 100v4M73 106v6M73 120v6M73 128v4M73 146v4M73 152v6M73 162v2M73 180v12M73 196v6M73 206v8M73 216v4M73 240v2M73 244v2M73 256v2M73 274v2M73 280v2M73 286v6M75 126v4M75 138v2M75 188v2M75 196v2M75 230v4M75 250v4M75 270v8M75 280v2M77 96v2M77 104v2M77 110v6M77 120v2M77 130v10M77 148v6M77 164v2M77 170v4M77 184v16M77 204v4M77 210v2M77 216v2M77 222v2M77 230v6M77 238v2M77 256v2M77 260v2M77 268v12M77 286v4M77 292v4M79 6v2M79 98v2M79 104v10M79 118v8M79 132v4M79 138v8M79 150v4M79 156v10M79 170v2M79 184v2M79 190v8M79 202v6M79 210v6M79 224v6M79 234v2M79 252v4M79 258v2M79 264v8M79 282v12M81 110v4M81 134v10M81 148v2M81 156v6M81 166v4M81 174v6M81 186v2M81 198v2M81 208v6M81 216v2M81 230v6M81 242v6M81 252v2M81 256v2M81 270v2M81 274v6M83 76v2M83 122v2M83 148v4M83 168v6M83 192v2M83 198v12M83 212v2M83 220v4M83 226v2M83 236v6M83 244v4M83 272v2M83 282v2M101 182v4M101 232v4M101 266v10M103 170v2M103 176v4M103 196v2M103 204v2M103 212v2M103 218v2M103 222v4M103 232v8M103 248v10M103 264v6M103 276v2M103 286v2M103 292v2M105 110v12M105 136v4M105 142v2M105 172v4M105 188v2M105 202v6M105 212v4M105 224v10M105 250v2M105 256v2M105 264v2M105 274v2M105 278v2M105 290v8M107 114v2M107 122v2M107 144v4M107 196v2M107 214v10M107 240v6M107 270v6M107 278v2M107 284v2M109 74v2M109 102v2M109 110v2M109 118v10M109 132v4M109 144v4M109 152v2M109 156v2M109 162v6M109 172v4M109 184v6M109 206v4M109 214v2M109 222v4M109 236v2M109 244v12M109 260v4M109 274v6M109 284v2M109 290v2M111 128v2M111 138v6M111 146v4M111 178v12M111 232v2M111 262v4M111 280v4M113 118v8M113 132v2M113 170v8M113 198v2M113 204v12M113 226v4M113 248v10M113 260v4M113 274v4M113 290v6M115 168v4M115 206v8M115 260v4M119 120v2M119 132v2M119 146v2M119 168v2M119 172v8M119 188v4M119 202v4M119 212v4M119 230v4M119 238v4M119 256v6M119 268v2M119 276v10M119 288v2M121 98v2M121 128v6M121 146v12M121 176v2M121 186v4M121 198v2M121 206v2M121 210v2M121 214v4M121 234v10M121 250v2M121 262v12M121 276v4M123 96v2M123 110v4M123 126v10M123 140v2M123 148v2M123 154v4M123 168v4M123 174v2M123 188v6M123 208v10M123 222v6M123 230v2M123 238v2M123 246v6M123 262v8M123 274v2M123 284v2M125 104v4M125 114v4M125 120v2M125 126v2M125 134v2M125 140v2M125 148v6M125 158v2M125 172v6M125 190v4M125 202v2M125 216v2M125 224v6M125 238v4M125 254v4M125 262v2M125 270v2M125 292v6M127 170v8M127 184v2M127 188v2M127 206v6M127 214v4M127 226v2M127 234v2M127 240v6M127 248v4M127 260v4M127 278v2M127 282v2M127 296v2M129 108v2M129 120v4M129 144v6M129 164v2M129 174v12M129 196v12M129 212v2M129 220v4M129 226v22M129 250v8M129 260v6M129 268v2M129 276v2M129 282v20M131 132v2M131 136v2M131 164v8M131 176v2M131 180v2M131 186v2M131 194v8M131 218v10M131 232v16M131 250v2M131 254v2M131 270v10M131 290v10M133 144v4M133 180v2M133 220v8M133 242v12M133 262v14M133 284v6M135 78v2M135 126v4M135 206v2M135 230v4M135 236v10M135 264v4M135 296v2M137 88v4M137 98v2M137 104v2M137 130v2M137 134v2M137 144v12M137 158v2M137 166v6M137 174v2M137 178v6M137 190v6M137 204v6M137 216v2M137 220v4M139 98v10M139 112v8M139 130v4M139 144v10M139 158v18M139 180v2M139 184v8M139 196v4M139 204v2M139 210v10M139 222v2M141 94v2M141 104v2M141 128v2M141 132v4M141 150v10M141 162v4M141 176v6M141 190v2M141 196v2M141 206v6M141 226v2M141 230v10M141 256v2M141 292v2M143 78v2M143 88v2M143 94v4M143 178v4M143 196v4M145 64v2M145 180v2M145 188v8M145 204v4M145 210v8M145 228v8M147 178v4M147 208v2M147 214v16M149 228v4M149 238v2M149 242v8M149 266v2M149 306v6M151 220v26M151 264v2M151 278v2M151 288v2M151 302v8M153 186v4M153 212v12M155 188v2M155 212v2M155 216v10M155 228v2M157 154v4M157 172v2M157 182v4M157 210v2M157 218v4M157 224v14M159 230v4M159 244v4M159 256v2M159 278v4M159 284v6M159 292v2M159 298v4M159 306v2M159 312v4M161 198v2M161 206v2M161 212v2M161 216v6M161 226v6M161 234v14M161 260v18M163 208v16M163 226v6M163 236v2M163 240v8M163 250v4M163 268v8M165 120v4M165 152v4M165 162v2M165 182v8M165 200v2M165 218v2M165 236v4M165 244v8M165 266v4M165 278v8M165 296v24M167 110v4M167 116v2M167 134v2M167 142v2M167 156v2M167 166v2M167 172v6M167 182v2M167 196v2M167 200v2M167 206v12M167 222v2M167 228v4M167 234v6M167 244v4M167 256v8M167 288v2M167 294v2M167 308v2M167 316v2M169 98v2M169 106v6M169 128v4M169 134v2M169 140v16M169 160v2M169 170v4M169 180v4M169 190v8M169 202v2M169 206v12M169 222v12M169 238v4M169 248v2M169 252v8M169 272v4M169 280v6M169 288v2M169 300v2M169 308v4M169 316v4M171 104v2M171 108v8M171 122v4M171 130v8M171 140v4M171 150v2M171 154v4M171 166v8M171 182v2M171 190v8M171 204v2M171 208v2M171 214v12M171 240v2M171 244v2M171 254v10M171 270v8M171 282v2M171 288v4M171 294v18M171 316v4M173 40v2M173 108v2M173 120v4M173 132v6M173 142v2M173 172v2M173 176v2M173 180v4M173 188v4M173 194v4M173 208v4M173 214v2M173 230v2M173 238v2M173 246v2M173 252v4M173 260v4M173 278v2M173 284v4M173 290v8M173 302v8M173 316v4M197 12v2M197 42v2M197 50v2M197 58v2M197 66v4M197 92v2M197 104v2M197 110v4M197 118v4M197 128v6M197 138v2M197 144v10M197 158v4M197 172v6M197 180v2M197 184v4M197 194v2M197 206v2M197 210v2M197 216v4M197 230v10M197 244v4M197 256v6M197 264v6M197 272v2M197 280v2M197 286v2M197 292v2M197 296v6M199 62v8M199 88v8M199 102v2M199 106v2M199 114v6M199 124v8M199 144v6M199 156v4M199 164v8M199 180v6M199 190v4M199 210v4M199 222v6M199 232v6M199 248v8M199 264v6M199 282v4M199 294v6M201 6v2M201 36v10M201 52v2M201 56v4M201 112v4M201 140v4M201 156v8M201 174v6M201 194v4M201 202v2M201 212v2M201 218v8M201 230v4M201 244v6M201 262v10M201 276v8M201 296v2M203 0v2M203 36v4M203 44v2M203 48v4M203 54v2M203 70v2M203 102v6M203 124v6M203 138v6M203 150v4M203 158v2M203 172v6M203 182v2M203 186v2M203 206v2M203 210v6M203 220v2M203 236v2M203 258v2M203 266v2M203 270v4M203 286v6M203 294v2M205 38v2M205 48v2M205 62v12M205 106v10M205 130v2M205 142v4M205 148v2M205 164v4M205 178v6M205 192v12M205 206v10M205 218v8M205 230v2M205 260v2M205 270v4M207 30v2M207 68v2M207 104v8M207 116v8M207 134v22M207 172v2M207 176v2M207 182v2M207 188v2M207 192v6M207 204v2M207 208v2M207 230v2M207 242v14M207 260v2M207 266v4M207 276v4M207 282v2M207 286v10M207 298v2M209 34v2M209 48v2M209 54v12M209 156v2M209 198v6M209 210v2M209 242v8M209 254v6M211 40v4M211 50v2M211 56v4M211 70v2M211 156v2M211 192v2M211 204v4M211 214v2M211 268v4M211 280v2M211 286v14M213 34v2M213 46v2M213 52v2M213 56v2M213 144v6M213 244v2M215 36v2M215 70v4M215 128v2M217 36v8M217 52v6M217 76v2M217 112v2M217 172v2M217 228v4M217 268v2M217 288v2M217 302v2M219 36v8M219 52v6M219 68v26M219 96v2M219 104v2M219 112v2M219 118v2M219 122v2M219 126v18M219 148v8M219 160v4M219 174v2M219 180v6M219 192v4M219 200v2M219 212v4M219 226v10M219 248v6M219 256v2M219 262v4M219 268v2M219 274v6M219 294v6M221 36v2M221 72v2M221 78v10M221 104v6M221 116v4M221 122v30M221 156v6M221 168v14M221 186v6M221 198v4M221 206v6M221 216v6M221 230v10M221 246v6M221 254v2M221 276v4M221 284v2M221 292v2M221 296v6M223 36v2M223 40v2M223 264v4M223 280v4M223 294v6M223 302v2M225 40v6M225 58v2M225 70v2M225 184v2M225 200v4M225 208v2M225 212v12M225 238v2M225 244v2M225 248v4M225 264v4M225 272v6M225 288v4M225 296v8M227 40v2M227 58v2M227 74v2M227 144v2M227 168v2M227 252v4M227 282v6M227 298v2M229 38v4M229 172v4M229 192v4M229 216v4M229 226v2M229 232v2M229 236v2M231 42v4M231 142v2M231 150v2M231 182v10M231 194v2M231 230v4M231 256v4M231 262v8M231 280v2M231 286v6M231 296v4M233 56v4M233 182v2M233 210v2M233 260v8M235 36v4M235 44v2M235 104v4M235 132v2M235 156v10M235 170v2M235 174v2M235 186v4M235 198v2M235 204v2M235 216v2M235 226v4M235 236v2M235 254v6M235 264v2M235 268v4M235 278v10M235 292v2M235 296v4M237 42v2M237 296v2M239 36v2M239 182v2M239 190v2M241 36v6M241 54v2M241 270v2M243 36v4M243 56v4M243 98v8M243 112v2M243 134v2M243 138v6M243 146v2M243 170v4M243 194v4M243 202v12M243 238v2M243 278v2M243 304v2M245 36v4M245 60v2M245 66v2M245 70v4M245 78v2M245 98v4M245 104v2M245 178v2M245 218v6M245 266v2M245 270v2M245 278v4M245 290v4M245 296v2M247 16v2M247 68v4M247 74v4M247 80v6M247 90v4M247 112v4M247 118v2M247 134v14M247 158v2M247 164v2M247 176v2M247 200v6M247 210v14M247 228v2M247 234v6M247 242v6M247 266v6M247 276v4M247 300v4M249 46v6M249 66v8M249 88v6M249 96v10M249 110v8M249 124v6M249 134v2M249 140v4M249 148v2M249 156v6M249 166v4M249 174v6M249 184v6M249 198v4M249 216v4M249 226v10M249 242v6M249 252v6M249 274v8M249 294v4M249 300v2M251 48v2M251 70v2M251 126v2M251 142v4M253 6v2M253 60v4M255 74v2M255 98v6M257 62v4M259 110v2M259 172v2M259 288v4M259 302v2M263 66v2M263 204v2M263 290v2M265 64v2M265 214v2M267 80v4M267 122v4M267 144v4M267 156v6M267 174v6M267 196v2M267 202v2M267 224v2M267 228v4M267 234v4M267 270v4M267 284v6M267 292v8M269 74v2M269 80v6M269 88v32M269 126v4M269 132v8M269 142v6M273 62v2M275 58v4M277 64v4M279 34v2M285 76v2M285 94v2M285 108v4M285 114v6M285 134v4M285 146v2M285 152v4M285 160v4M285 170v2M285 178v2M285 182v4M285 190v8M285 204v4M285 216v4M285 230v12M285 246v2M285 256v4M285 264v2M285 268v4M285 278v4M285 286v4M285 294v6M287 110v4M287 124v2M287 132v8M287 152v4M287 158v2M287 164v8M287 176v2M287 184v2M287 218v2M287 222v4M287 228v4M287 238v2M287 246v2M287 252v4M287 260v6M287 270v2M287 282v16M287 302v2M289 92v2M289 96v4M289 108v2M289 116v6M289 124v26M289 154v2M289 160v12M289 174v4M289 186v6M289 200v14M289 222v2M289 236v14M289 252v12M289 268v2M289 282v2M289 290v8M289 300v2M291 22v2M291 50v2M291 54v4M291 90v10M291 106v6M291 116v2M291 124v6M291 134v4M291 142v8M291 152v2M291 158v4M291 166v2M291 174v4M291 182v4M291 190v2M291 194v10M291 212v8M291 222v2M291 228v4M291 236v4M291 242v4M291 248v2M291 254v2M291 258v2M291 262v2M291 266v6M291 278v2M291 290v4M291 298v4M291 326v2M293 82v2M293 98v2M293 174v2M293 248v2M295 60v2M295 66v4M295 80v8M295 96v4M295 118v4M295 126v2M295 144v2M295 148v2M295 168v10M295 188v2M295 198v10M295 212v2M295 238v4M295 244v2M295 274v8M295 284v6M297 90v8M297 114v2M297 136v2M297 168v2M297 250v2M297 288v2M297 296v4M299 74v4M299 80v12M299 104v4M299 124v6M299 134v4M299 142v8M299 154v8M299 166v10M299 190v6M299 228v2M299 240v4M299 246v4M299 252v4M299 268v12M299 284v6M299 302v2M301 42v12M301 56v6M301 72v2M301 78v4M301 84v2M301 90v2M301 94v2M301 100v4M301 112v2M301 116v4M301 136v10M301 150v12M301 166v2M301 176v4M301 182v2M301 196v2M301 202v4M301 218v14M301 236v2M301 242v10M301 256v8M301 274v18M301 302v4M303 46v2M303 52v2M303 58v4M303 64v10M303 78v2M303 90v6M303 102v6M303 112v8M303 126v18M303 146v14M303 164v4M303 174v2M303 184v4M303 192v10M303 206v4M303 214v4M303 222v6M303 230v2M303 240v12M303 256v2M303 260v2M303 274v4M303 284v4M303 292v8M305 30v2M305 40v2M305 52v8M305 78v2M305 84v4M305 92v2M305 102v2M305 106v4M305 116v2M305 120v4M305 126v8M305 144v14M305 170v10M305 182v6M305 190v18M305 214v2M305 222v14M305 244v6M305 254v2M305 262v2M305 270v2M305 282v2M305 290v14M307 42v2M307 54v6M307 70v2M307 74v4M307 86v4M307 92v2M307 96v2M307 110v8M307 128v2M307 150v2M307 156v4M307 162v2M307 168v4M307 178v10M307 190v2M307 200v2M307 204v4M307 214v2M307 224v2M307 230v2M307 246v2M307 252v6M307 284v8M307 298v6M309 44v4M309 76v2M309 86v2M309 96v2M309 100v16M309 120v2M309 136v8M309 150v2M309 156v2M309 172v6M309 182v2M309 188v10M309 202v2M309 206v10M309 218v2M309 224v4M309 230v4M309 238v8M309 250v2M309 260v4M309 272v6M309 284v2M309 288v12M311 46v6M311 68v2M311 84v2M311 90v26M311 118v6M311 126v2M311 142v6M311 158v10M311 172v4M311 186v4M311 196v4M311 208v2M311 218v2M311 226v14M311 250v4M311 262v10M311 274v2M311 280v10M311 294v2M311 298v4M313 2v2M313 6v2M313 28v6M313 42v4M313 48v2M313 82v2M313 96v6M313 116v8M313 134v6M313 160v2M313 166v2M313 178v2M313 186v6M313 208v4M313 218v6M313 230v4M313 242v2M313 250v8M313 264v6M313 276v6M313 292v4M313 300v4M315 12v4M315 44v2M315 60v2M315 76v12M315 94v2M315 98v2M315 102v2M315 106v2M315 110v2M315 120v2M315 132v4M315 140v2M315 146v2M315 152v2M315 160v4M315 170v4M315 180v2M315 186v2M315 194v2M315 198v8M315 216v2M315 226v2M315 236v2M315 248v2M315 252v4M315 258v2M315 268v4M315 276v4M315 282v6M315 296v4M315 304v2M315 326v2M317 250v2M317 302v2M319 48v4M319 74v4M319 92v8M319 104v8M319 114v6M319 122v2M319 130v12M319 146v8M319 158v6M319 166v12M319 180v8M319 194v4M319 202v2M319 214v4M319 220v2M319 226v2M319 230v12M319 246v12M319 264v2M319 270v8M319 286v2M319 292v8M321 4v4M321 60v2M321 86v4M321 98v2M321 104v2M321 114v4M321 136v4M321 142v6M321 158v6M321 166v6M321 178v2M321 184v6M321 196v2M321 222v2M321 244v6M321 264v4M321 270v8M321 280v2M321 298v4M321 326v2M323 82v2M323 112v2M323 126v2M323 140v4M323 182v2M323 202v8M323 254v6M323 270v2M323 284v4M323 294v8M325 94v6M325 122v4M325 166v2M325 214v2M325 226v2M327 6v2M327 18v2M327 36v2M327 56v2M327 66v4M327 80v4M327 90v8M327 100v4M327 122v2M327 140v10M327 158v2M327 162v4M327 170v6M327 178v2M327 192v4M327 202v4M327 208v4M327 214v2M327 218v2M327 232v6M327 240v2M327 254v2M327 258v10M327 278v6M327 292v4M329 46v2M329 50v2M329 56v2M329 64v2M329 84v8M329 96v4M329 102v6M329 110v2M329 124v6M329 132v2M329 142v4M329 174v8M329 188v4M329 202v2M329 206v2M329 212v4M329 222v2M329 226v2M329 230v4M329 236v8M329 248v4M329 256v6M329 272v4M329 278v6M329 288v4M329 294v8M331 64v4M331 76v2M331 96v6M331 104v2M331 112v2M331 122v2M331 134v2M331 146v4M331 164v2M331 178v18M331 198v4M331 206v2M331 216v6M331 228v4M331 236v2M331 250v4M331 262v2M331 268v6M331 280v2M331 300v2M331 326v2M333 44v2M333 54v2M333 120v12M333 136v2M333 142v4M333 162v6M333 216v4M333 232v14M333 248v8M333 258v4M333 266v2M333 272v2M333 286v4M335 44v2M335 96v6M335 104v2M335 112v4M335 122v4M335 142v2M335 146v4M335 168v2M335 206v6M335 226v6M335 234v4M335 256v8M335 278v6M335 326v2M337 120v4M337 136v2M337 142v12M337 158v2M337 162v2M337 196v2M337 200v8M337 222v6M337 232v2M337 246v18M337 272v2M337 292v6M337 302v4M337 326v2M339 142v4M339 148v2M339 164v2M339 182v4M339 196v2M339 204v6M339 214v2M339 220v2M339 230v4M339 236v2M339 242v4M339 252v12M339 280v10M339 292v2M339 296v6M341 48v6M341 90v2M341 114v2M341 122v4M341 130v4M341 140v6M341 148v2M341 156v10M341 168v4M341 178v6M341 192v2M341 196v4M341 204v6M341 218v2M341 222v4M341 228v12M341 242v4M341 248v6M341 258v4M341 270v4M341 278v2M341 282v2M341 292v6M341 304v4M343 72v2M343 80v2M343 122v2M343 126v2M343 132v2M343 154v2M343 158v4M343 170v4M343 176v8M343 202v4M343 218v2M343 224v6M343 236v10M343 252v12M343 270v12M343 288v2M343 296v4M343 326v2M345 54v2M345 70v12M345 90v2M345 94v4M345 100v2M345 108v4M345 118v10M345 142v2M345 148v2M345 162v10M345 182v12M345 200v4M345 218v4M345 226v6M345 236v2M345 242v2M345 254v4M345 262v4M345 268v2M345 274v2M345 280v8M345 290v2M345 296v6M347 70v4M347 76v2M347 80v4M347 102v2M347 124v4M347 144v4M347 152v2M347 156v4M347 162v18M347 184v2M347 188v20M347 218v6M347 230v2M347 236v2M347 240v2M347 252v10M347 266v6M347 286v10M347 300v2M349 146v10M349 168v4M349 174v2M349 186v12M349 206v6M349 218v6M349 226v2M349 270v2M349 274v2M349 286v2M349 290v10M349 326v2M351 40v6M351 100v4M351 120v4M351 128v2M351 132v4M351 142v4M351 150v6M351 162v4M351 170v4M351 176v4M351 186v4M351 208v6M351 230v2M351 236v2M351 242v2M351 248v6M351 266v4M351 278v2M351 286v2M351 290v2M351 304v2M353 204v4M353 222v2M353 244v2M355 42v6M355 62v4M355 84v6M355 104v2M355 110v14M355 134v6M355 144v2M355 154v4M355 160v8M355 172v8M355 184v8M355 194v16M355 218v2M355 226v2M355 236v2M355 242v4M355 248v2M355 260v4M355 270v4M355 280v10M355 296v2M355 302v2M355 326v2M357 52v4M357 78v4M357 86v6M357 98v4M357 114v2M357 122v6M357 148v2M357 172v12M357 188v6M357 234v4M357 258v2M357 272v6M357 284v2M357 288v2M357 298v4M359 62v6M359 76v4M361 44v2M361 52v4M361 64v6M361 72v4M361 80v6M361 120v8M361 130v2M361 138v4M361 150v2M361 160v16M361 178v2M361 182v2M361 190v6M361 212v10M361 228v14M361 248v2M361 256v2M361 268v2M361 274v2M361 278v2M361 286v2M361 294v6M361 326v2M363 56v4M363 62v2M363 66v6M363 88v4M363 96v2M363 110v2M363 118v2M363 124v4M363 134v2M363 138v6M363 150v4M363 160v8M363 176v2M363 184v4M363 196v8M363 208v4M363 216v4M363 222v4M363 228v18M363 252v2M363 260v2M363 266v4M363 278v2M363 282v2M363 286v2M363 298v2M363 302v2M365 64v2M365 90v4M365 110v4M365 138v6M365 148v4M365 226v2M365 246v4M365 256v2M365 262v2M365 292v4M367 78v4M367 86v2M367 94v6M367 114v2M367 138v4M367 146v8M367 160v2M367 170v6M367 180v6M367 190v6M367 198v2M367 202v4M367 214v2M367 222v2M367 228v2M367 236v4M367 246v2M367 250v8M367 268v8M367 278v2M367 286v2M369 46v2M369 56v2M369 84v4M369 96v6M369 106v8M369 126v6M369 136v4M369 146v6M369 154v2M369 160v2M369 164v6M369 176v8M369 188v4M369 198v4M369 214v2M369 222v8M369 244v8M369 254v2M369 260v4M369 268v2M369 276v8M369 286v2M369 290v4M371 88v2M371 102v2M371 120v8M371 134v2M371 182v4M371 204v4M371 212v6M371 228v8M371 280v8M371 298v2M373 120v2M373 124v2M373 144v2M373 148v4M373 296v2M375 112v4M375 126v2M375 222v4M375 234v4M375 298v2M375 326v2M377 80v2M377 94v4M377 128v4M377 140v10M377 194v4M377 220v8M377 238v4M377 260v2M377 270v4M377 290v2M379 34v6M379 74v8M379 84v2M379 88v10M379 110v6M379 118v14M379 136v4M379 142v6M379 158v4M379 166v8M379 178v12M379 196v4M379 204v2M379 228v4M379 236v2M379 240v2M379 246v6M379 256v10M379 272v8M379 296v6M389 114v6M389 144v2M389 170v4M389 176v2M389 180v2M389 186v4M389 206v4M389 326v2M391 190v6M391 208v4M391 228v2M391 326v2M393 138v6M393 240v4M395 98v6M395 112v4M395 120v2M395 124v2M395 148v2M395 208v4M395 222v4M395 234v2M397 30v2M397 58v2M397 68v2M397 76v2M397 82v2M397 94v2M397 104v2M397 114v2M397 122v2M397 156v2M397 160v2M397 166v2M397 174v14M397 198v4M397 214v14M397 236v2M397 240v4M397 248v2M397 274v2M399 154v2M399 178v2M401 50v2M401 74v4M401 88v2M401 94v2M401 106v2M401 120v2M401 138v6M401 148v4M401 154v2M401 162v6M401 174v6M401 182v2M401 192v2M401 198v2M401 202v2M401 206v2M401 218v4M401 226v2M401 230v4M401 240v2M401 244v2M401 248v2M401 254v2M401 270v10M401 284v2M401 326v2M403 102v2M403 110v4M403 116v4M403 156v2M403 168v4M403 176v2M403 204v4M403 224v4M405 96v2M405 130v4M405 200v6M407 140v4M407 168v2M407 214v4M411 212v2M411 254v4M411 270v6M413 42v2M413 50v2M413 58v20M413 84v4M413 98v4M413 104v8M413 116v6M413 124v2M413 176v2M413 182v2M413 192v2M413 196v6M413 208v4M413 216v10M413 242v4M413 250v12M413 266v2M413 278v12M415 36v4M415 46v2M415 56v6M415 78v2M415 100v2M415 110v2M415 118v4M415 140v14M415 162v4M415 194v6M415 206v4M415 212v2M415 222v2M415 234v8M415 262v2M415 268v8M415 282v6M415 296v2M417 88v4M417 116v6M417 140v2M417 152v6M417 166v4M417 182v8M417 218v4M417 228v6M417 274v4M417 294v4M419 74v2M419 90v2M419 96v4M419 102v6M419 110v8M419 126v4M419 140v2M419 146v2M419 158v10M419 174v4M419 184v10M419 200v2M419 210v2M419 214v4M419 224v2M419 228v2M419 234v10M419 246v16M419 268v8M419 284v4M421 60v4M421 82v4M421 94v12M421 110v2M421 114v2M421 118v2M421 130v8M421 148v22M421 194v4M421 216v2M421 222v2M421 228v2M421 244v2M421 262v4M421 268v4M421 278v8M421 292v6M421 326v2M423 114v6M423 134v14M423 174v2M423 184v4M423 196v8M423 208v4M423 220v6M423 248v2M423 288v2M423 294v2M425 20v8M425 40v2M425 46v4M425 102v2M425 116v2M425 130v2M425 144v2M425 148v2M425 156v6M425 168v8M425 180v10M425 198v12M425 212v2M425 224v8M425 234v4M425 242v6M425 256v4M425 270v10M425 286v2M425 326v2M427 16v2M427 80v2M427 128v4M427 134v6M427 150v8M427 180v4M427 252v6M427 260v6M429 86v8M429 130v6M429 162v2M429 168v8M429 184v2M429 194v4M429 200v2M429 224v4M429 232v2M429 236v2M429 244v2M429 250v4M429 264v2M429 276v4M429 288v4M429 294v6M431 60v2M431 102v4M431 114v4M431 122v2M431 132v2M431 136v6M431 146v6M431 156v8M431 172v8M431 182v14M431 202v4M431 210v2M431 214v2M431 232v8M431 254v2M431 276v6M431 284v10M431 302v2M433 64v4M433 76v20M433 106v2M433 110v8M433 122v16M433 146v2M433 152v4M433 164v10M433 176v4M433 182v8M433 194v4M433 202v6M433 210v4M433 238v16M433 260v2M433 264v6M433 272v2M433 282v4M433 290v2M433 296v2M433 300v2M435 36v2M435 52v4M435 88v4M435 98v6M435 142v16M435 186v4M435 196v8M435 220v10M435 248v10M435 260v2M435 264v2M435 272v4M435 280v6M437 50v6M437 78v6M437 96v2M437 102v4M437 108v4M437 118v4M437 132v14M437 148v2M437 154v4M437 164v2M437 170v14M437 188v2M437 196v4M437 202v4M437 212v2M437 216v4M437 222v2M437 230v2M437 234v2M437 238v4M437 244v6M437 258v6M437 272v4M437 288v6M437 298v2M437 326v2M439 2v16M439 28v2M439 32v8M439 68v2M439 88v2M439 92v2M439 122v10M439 140v2M439 144v4M439 162v2M439 166v8M439 194v2M439 206v10M439 220v2M439 228v6M439 258v8M439 276v2M439 290v8M441 38v6M441 60v2M441 66v2M441 72v2M441 82v14M441 100v2M441 106v2M441 114v2M441 118v2M441 122v4M441 138v2M441 146v2M441 158v8M441 176v8M441 194v10M441 214v2M441 218v6M441 226v2M441 230v8M441 240v6M441 256v4M441 264v2M441 274v2M441 286v8M441 296v2M441 326v2M443 26v2M443 48v2M443 52v2M443 58v4M443 70v8M443 90v2M443 110v2M443 116v12M443 136v4M443 150v4M443 168v10M443 180v8M443 192v10M443 210v6M443 222v2M443 228v2M443 236v6M443 244v4M443 250v2M443 264v14M443 286v4M443 294v4M445 14v2M445 46v2M445 84v2M445 92v2M445 98v18M445 188v8M445 198v2M445 206v2M445 216v6M445 266v12M447 84v8M447 106v8M447 118v2M447 122v2M447 158v6M447 170v8M447 198v2M447 224v2M447 234v2M447 272v6M447 286v4M447 292v4M447 298v2M449 50v2M449 78v2M449 92v8M449 106v6M449 120v2M449 132v8M449 142v2M449 152v8M449 162v2M449 166v10M449 200v2M449 210v4M449 220v4M449 228v4M449 240v10M449 256v10M451 86v6M451 122v2M451 128v2M451 142v8M451 154v6M451 164v2M451 184v4M451 196v2M451 204v2M451 236v10M451 250v4M451 258v6M451 326v2M453 14v12M453 38v2M453 42v4M453 72v6M453 90v4M453 100v8M453 122v4M453 144v6M453 154v4M453 162v16M453 182v10M453 204v2M453 212v6M453 220v2M453 226v2M453 232v4M453 240v10M453 256v2M453 264v2M453 268v4M453 276v2M453 284v2M453 290v4M455 30v2M455 34v4M455 56v2M455 66v2M455 74v14M455 98v4M455 108v2M455 122v2M455 134v4M455 144v2M455 154v2M455 162v2M455 168v8M455 180v4M457 26v22M457 54v2M457 70v2M457 76v6M457 94v20M457 122v10M457 154v2M457 158v16M457 182v4M457 192v4M457 214v14M457 232v6M457 244v6M457 258v2M457 264v4M457 270v26M457 326v2M459 6v2M459 10v2M459 70v12M459 86v6M459 98v4M459 106v4M459 118v2M459 122v2M459 128v2M459 132v4M459 148v4M459 158v2M459 162v6M459 176v4M459 190v2M459 198v4M459 204v2M459 210v14M459 228v8M459 242v6M459 256v4M459 268v8M459 282v8M459 294v2M461 54v4M461 86v4M461 98v2M461 102v2M461 118v2M461 142v8M461 152v2M461 158v2M461 168v8M461 184v4M461 196v8M461 210v4M461 222v8M461 234v8M461 266v16M461 286v2M461 290v2M463 38v2M463 46v2M463 58v8M463 80v4M463 88v6M463 96v2M463 102v8M463 116v8M463 132v2M463 136v2M463 140v10M463 152v8M463 166v2M463 170v12M463 186v4M463 194v2M463 198v18M463 226v2M463 234v4M463 240v10M463 252v4M463 268v4M463 278v4M463 286v10M463 326v2M465 66v2M465 70v2M465 80v16M465 136v4M465 148v2M465 182v2M465 188v2M465 240v4M465 256v2M465 266v2M465 272v8M467 96v4M467 244v2M467 250v6M467 260v2M467 264v2M467 274v4M467 326v2M469 238v4M471 6v4M471 20v8M471 32v4M471 42v2M471 46v4M471 56v10M471 68v8M471 78v2M471 82v2M471 86v2M471 94v2M471 98v6M471 116v2M471 124v6M471 136v6M471 148v2M471 156v4M471 164v18M471 186v2M471 198v2M471 210v2M471 220v6M471 228v6M471 238v6M471 250v2M471 256v4M471 268v8M471 288v2M473 112v4M473 134v2M473 142v2M473 148v4M473 226v2M473 234v2M473 240v2M473 266v4M475 66v2M475 104v4M475 116v6M475 148v2M475 152v4M475 158v4M475 168v8M475 178v2M475 190v4M475 196v2M475 202v4M475 246v2M475 250v8M475 264v2M475 272v2M475 326v2M477 52v2M477 64v2M477 74v2M477 78v18M477 100v6M477 114v10M477 126v2M477 138v10M477 152v2M477 160v10M477 178v2M477 186v8M477 196v4M477 212v4M477 226v6M477 234v4M477 242v2M477 254v6M477 262v10M477 290v4M479 40v2M479 46v8M479 60v2M479 80v2M479 102v6M479 110v2M479 114v2M479 122v2M479 126v2M479 134v4M479 150v12M479 178v4M479 194v6M479 248v2M479 260v4M479 272v4M479 282v2M479 290v4M481 56v6M481 92v2M481 114v14M481 134v4M481 142v2M481 146v4M481 158v2M481 166v2M481 170v4M481 186v2M481 192v8M481 204v4M481 212v8M481 222v10M481 236v8M481 250v4M481 256v16M481 280v18M483 118v4M483 160v2M483 164v6M483 176v8M483 250v2M483 274v2"/><path stroke="#0000ef" d="M1 96v2M1 106v4M1 112v6M1 120v14M1 144v2M1 154v2M1 160v2M1 166v2M1 170v2M1 186v8M1 200v6M1 224v2M1 232v4M1 240v12M1 262v2M1 280v4M1 292v2M3 90v4M3 98v10M3 110v4M3 118v2M3 126v4M3 132v4M3 142v2M3 152v6M3 164v2M3 168v2M3 182v6M3 198v2M3 202v2M3 212v4M3 224v10M3 244v2M3 252v2M3 260v12M3 276v2M3 282v6M3 290v2M5 2v2M5 74v2M5 92v2M5 98v2M5 122v2M5 134v6M5 158v2M5 166v12M5 182v8M5 192v4M5 206v6M5 214v8M5 232v6M5 280v12M7 206v4M7 226v14M7 288v8M9 92v2M9 126v6M9 144v14M9 172v4M9 182v6M9 210v4M9 216v2M9 220v2M9 232v2M9 236v2M9 244v2M9 266v4M11 52v2M11 78v2M11 84v2M11 90v2M11 98v2M11 134v4M11 140v6M11 148v4M11 154v4M11 170v4M11 192v2M11 212v4M11 230v2M11 246v4M11 252v2M11 256v4M13 88v2M13 98v4M13 106v2M13 114v6M13 122v4M13 130v2M13 150v2M13 156v2M13 166v2M13 170v14M13 202v8M13 220v2M13 226v12M13 242v4M13 250v2M13 254v2M13 260v4M13 266v14M13 284v6M15 100v4M15 116v6M15 130v4M15 148v2M15 152v6M15 166v8M15 180v2M15 184v8M15 206v12M15 236v8M15 246v6M15 256v10M15 274v12M15 292v6M17 54v2M17 94v22M17 120v6M17 138v2M17 144v2M17 148v6M17 158v4M17 166v6M17 178v2M17 196v2M17 200v2M17 220v4M17 226v4M17 248v6M17 256v8M17 276v4M17 288v6M19 94v4M19 128v10M19 154v4M19 160v2M19 174v2M19 180v2M19 196v2M19 200v2M19 222v2M19 230v4M19 240v2M19 246v4M19 262v4M19 278v4M21 122v2M21 148v2M21 158v4M21 166v2M21 174v2M21 182v2M21 188v6M21 206v18M21 228v2M21 236v2M21 240v2M21 246v2M21 250v4M21 260v4M21 266v20M21 296v2M23 98v4M23 116v2M23 138v2M23 150v12M23 176v14M23 192v4M23 224v2M23 230v2M23 238v4M23 252v4M23 262v2M23 268v4M23 280v2M23 284v4M23 290v4M25 80v2M27 54v2M27 86v2M29 60v2M29 72v2M29 94v2M29 248v2M31 96v4M31 106v2M31 128v2M31 136v4M31 148v12M31 162v6M31 170v4M31 180v2M31 196v2M31 202v4M31 208v4M31 214v2M31 224v6M31 236v2M31 248v4M31 254v2M31 262v2M31 266v2M31 272v2M31 280v2M31 284v6M33 102v4M33 254v2M33 282v6M35 106v2M35 114v4M35 136v2M35 152v2M35 170v6M35 208v2M35 218v4M35 234v6M35 244v4M35 260v4M35 278v6M37 12v2M37 202v4M41 82v2M43 172v2M43 260v2M43 266v2M43 272v2M45 68v2M45 136v2M45 192v2M45 276v2M47 88v2M47 100v2M47 108v8M47 120v2M47 124v2M47 130v2M47 142v2M47 152v2M47 160v14M47 176v2M47 180v4M47 186v4M47 192v2M47 198v2M47 214v2M47 218v6M47 230v6M47 244v2M47 248v6M47 262v20M47 286v12M49 92v2M49 108v10M49 130v6M49 148v2M49 152v2M49 156v4M49 166v12M49 188v2M49 194v2M49 210v4M49 218v2M49 222v8M49 240v6M49 252v10M49 264v2M49 270v8M49 284v6M49 292v2M51 96v6M51 118v6M51 126v2M51 132v2M51 156v2M51 160v2M51 172v2M51 202v2M51 210v2M51 242v8M51 288v2M51 292v2M53 16v2M53 40v2M53 60v2M53 82v2M55 16v2M55 58v2M55 80v2M55 96v2M55 252v2M57 78v2M59 62v2M59 82v2M59 86v2M59 134v2M59 282v2M59 296v2M61 190v4M61 250v4M63 84v2M63 88v2M63 96v6M63 196v2M63 214v6M63 236v10M63 292v4M65 94v2M65 132v6M65 170v4M65 178v4M65 194v2M65 212v2M65 222v4M65 244v4M65 262v6M65 280v4M65 290v8M67 70v2M67 150v10M67 162v4M67 168v6M67 188v4M67 204v6M67 232v2M67 250v2M67 256v6M67 264v4M67 276v4M67 284v4M69 104v2M69 108v4M69 114v8M69 124v18M69 148v2M69 154v2M69 160v14M69 178v4M69 194v10M69 226v10M69 244v2M69 254v6M69 276v18M71 82v2M71 88v2M71 108v4M71 122v8M71 132v4M71 148v10M71 202v8M71 222v8M71 238v4M71 256v8M71 280v4M71 288v4M73 84v2M73 92v2M73 132v14M73 150v2M73 158v4M73 164v16M73 192v4M73 202v4M73 220v14M73 236v4M73 246v10M73 260v2M73 266v2M73 272v2M73 282v4M73 292v6M75 104v2M75 110v8M75 130v2M75 136v2M75 148v6M75 170v8M75 184v2M75 190v2M75 194v2M75 198v2M75 222v8M75 246v4M75 254v4M75 268v2M75 282v2M75 296v2M77 84v2M77 94v2M77 98v2M77 102v2M77 116v4M77 122v2M77 128v2M77 154v4M77 178v6M77 208v2M77 218v4M77 224v2M77 228v2M77 236v2M77 240v2M77 246v10M77 262v6M77 280v6M77 290v2M79 74v4M79 90v2M79 96v2M79 100v4M79 136v2M79 146v4M79 166v4M79 172v12M79 208v2M79 220v4M79 236v2M79 244v8M79 256v2M79 272v4M79 280v2M79 294v2M81 100v10M81 114v4M81 132v2M81 162v4M81 170v4M81 180v6M81 188v4M81 194v4M81 206v2M81 222v8M81 236v6M81 248v4M81 262v4M81 268v2M81 280v4M83 98v2M83 116v6M83 132v2M83 146v2M83 152v4M83 160v8M83 174v18M83 210v2M83 228v2M83 232v4M83 242v2M83 250v6M83 262v2M83 274v2M83 278v4M83 284v2M101 110v4M101 170v2M101 186v4M101 192v4M101 206v8M101 218v2M101 226v2M101 236v2M101 242v24M101 276v2M101 280v4M103 214v4M103 226v2M103 240v4M103 258v6M103 270v6M103 288v4M103 294v4M105 108v2M105 134v2M105 140v2M105 170v2M105 176v2M105 184v4M105 196v6M105 208v4M105 216v8M105 234v2M105 240v4M105 248v2M105 252v4M105 266v8M105 280v10M107 106v8M107 116v2M107 124v20M107 148v12M107 170v4M107 176v2M107 182v2M107 190v6M107 198v4M107 206v8M107 224v2M107 234v4M107 246v8M107 258v6M107 268v2M107 276v2M107 294v2M109 92v2M109 100v2M109 116v2M109 128v4M109 136v8M109 154v2M109 168v4M109 176v8M109 190v10M109 204v2M109 216v2M109 220v2M109 226v2M109 232v4M109 256v4M109 264v4M109 272v2M109 280v4M109 292v4M111 68v2M111 126v2M111 130v4M111 136v2M111 150v2M111 154v8M111 176v2M111 190v16M111 208v4M111 216v10M111 228v4M111 234v2M111 248v14M111 266v4M111 278v2M111 284v8M113 108v10M113 126v6M113 146v4M113 154v4M113 166v4M113 178v6M113 188v2M113 216v10M113 230v10M113 258v2M113 264v2M113 272v2M113 282v2M113 288v2M115 110v6M115 128v6M115 166v2M115 182v8M115 194v4M115 204v2M115 220v6M115 232v4M115 244v14M115 264v10M115 282v4M117 114v4M117 144v2M117 160v4M117 166v4M117 176v2M117 196v6M117 224v2M117 232v6M117 242v4M117 274v4M117 280v12M119 84v2M119 134v4M119 144v2M119 206v2M119 210v2M119 222v2M119 242v4M119 248v8M119 270v2M119 274v2M121 92v2M121 100v20M121 134v4M121 158v18M121 178v8M121 190v2M121 194v2M121 200v2M121 212v2M121 222v6M121 232v2M121 244v2M121 248v2M121 252v4M121 260v2M121 280v4M121 288v8M123 54v2M123 86v2M123 104v2M123 108v2M123 114v2M123 120v2M123 142v6M123 176v2M123 184v4M123 194v6M123 202v6M123 218v4M123 232v6M123 240v6M123 270v4M123 286v8M125 96v4M125 108v6M125 122v4M125 142v2M125 146v2M125 160v12M125 178v6M125 188v2M125 194v4M125 200v2M125 204v12M125 218v6M125 230v8M125 242v12M125 258v4M125 264v6M125 282v2M125 290v2M127 98v2M127 186v2M127 224v2M127 280v2M129 96v2M129 104v4M129 124v2M129 150v4M129 156v2M129 208v4M129 214v6M129 224v2M129 258v2M129 270v6M131 92v2M131 96v2M131 104v2M131 108v12M131 126v6M131 134v2M131 138v16M131 156v2M131 172v4M131 182v4M131 202v16M131 228v4M131 252v2M133 112v6M133 120v6M133 142v2M133 152v6M133 172v2M133 176v4M133 186v4M133 214v6M133 228v14M135 124v2M135 134v6M135 142v6M135 154v2M135 162v4M135 182v2M135 198v8M135 208v2M135 216v14M137 132v2M137 156v2M137 172v2M137 196v8M137 210v6M139 142v2M139 176v4M139 206v4M141 102v2M141 112v4M141 122v6M141 136v8M141 148v2M141 166v2M141 174v2M141 184v6M141 198v8M141 212v6M141 220v6M143 74v2M143 98v2M147 172v2M147 202v6M149 62v2M149 182v2M149 212v4M149 226v2M149 232v6M149 240v2M151 188v4M151 206v4M151 214v6M153 192v4M153 200v2M153 206v6M155 178v4M155 186v2M155 190v4M155 204v4M155 210v2M155 226v2M157 158v2M157 164v2M157 200v2M157 208v2M157 212v2M157 216v2M159 204v6M159 224v6M159 234v10M159 294v4M159 302v4M161 174v2M161 208v4M161 278v10M163 170v2M163 192v2M163 202v6M163 224v2M163 260v4M163 266v2M163 276v4M163 284v2M165 48v2M165 98v2M165 110v10M165 124v12M165 138v8M165 148v4M165 156v6M165 164v2M165 170v2M165 174v8M165 198v2M165 202v2M165 206v6M165 216v2M165 224v8M165 234v2M165 240v4M165 252v6M165 262v4M165 270v8M165 286v10M167 100v6M167 118v6M167 136v2M167 140v2M167 144v2M167 152v4M167 158v8M167 184v2M167 188v8M167 202v4M167 218v4M167 232v2M167 240v4M167 248v8M167 264v4M167 274v2M167 278v4M167 284v4M167 296v12M167 310v6M169 116v2M169 120v8M169 136v4M169 162v2M169 168v2M169 174v6M169 198v4M169 218v4M169 234v4M169 242v6M169 260v6M169 286v2M169 302v2M169 306v2M169 312v4M171 102v2M171 138v2M171 146v4M171 184v2M171 188v2M171 206v2M171 226v2M171 242v2M171 284v4M171 292v2M173 144v22M173 174v2M173 184v4M173 192v2M173 198v10M173 216v6M173 226v4M173 232v2M173 236v2M173 240v6M173 248v4M173 256v4M173 272v6M173 288v2M173 298v4M173 312v4M197 44v2M197 60v6M197 94v4M197 106v4M197 114v4M197 140v4M197 162v10M197 178v2M197 196v10M197 224v6M197 240v4M197 248v8M197 262v2M197 270v2M197 274v6M197 294v2M199 6v2M199 104v2M199 120v4M199 160v4M199 256v8M201 54v2M201 66v4M201 92v2M201 102v2M201 110v2M201 116v2M201 120v2M201 132v8M201 144v2M201 148v8M201 172v2M201 180v2M201 184v2M201 204v8M201 216v2M201 226v4M201 234v10M201 250v12M201 272v4M201 284v4M201 298v4M203 46v2M203 52v2M203 60v10M203 92v2M203 96v6M203 112v12M203 130v6M203 144v6M203 154v4M203 170v2M203 178v4M203 188v4M203 196v10M203 222v6M203 234v2M203 238v2M203 244v4M203 256v2M203 260v6M203 274v2M203 284v2M203 296v4M205 36v2M205 40v8M205 74v4M205 146v2M205 226v4M207 0v2M207 12v2M207 174v2M207 210v20M207 262v4M207 270v6M207 280v2M209 18v2M209 38v8M209 66v4M209 142v2M209 160v4M209 172v2M209 184v4M209 192v6M209 204v6M209 212v2M209 230v12M209 250v4M209 260v2M209 270v6M209 294v6M211 38v2M211 52v4M211 158v2M211 184v2M211 200v4M211 216v6M211 226v4M211 236v2M211 240v4M211 248v14M211 264v4M211 272v2M211 278v2M211 282v4M211 300v2M213 114v8M213 176v2M213 184v4M213 224v6M213 238v6M213 274v16M213 292v4M213 300v2M215 38v2M215 44v6M215 52v6M215 68v2M215 74v2M215 80v8M215 96v4M215 106v4M215 114v4M215 124v4M215 130v2M215 154v6M215 172v2M215 226v4M215 250v10M215 300v2M217 44v6M217 68v8M217 78v6M217 98v14M217 114v2M217 120v4M217 136v6M217 150v16M217 170v2M217 174v2M217 178v2M217 190v8M217 204v10M217 216v2M217 220v8M217 232v2M217 240v4M217 258v10M217 270v2M217 280v2M217 286v2M217 290v2M217 294v8M219 30v2M219 98v6M219 114v4M219 124v2M219 144v4M219 156v4M219 176v4M219 186v6M219 196v4M219 202v10M219 216v2M219 222v4M219 254v2M219 266v2M219 300v2M221 28v2M221 88v6M221 98v6M221 110v2M221 114v2M221 120v2M221 152v4M221 182v4M221 192v6M221 202v4M221 240v2M221 244v2M221 256v14M221 272v4M221 290v2M221 302v2M223 42v2M223 70v2M223 164v2M223 186v8M223 200v8M223 226v2M223 232v2M223 252v4M223 268v12M223 284v10M223 300v2M225 38v2M225 46v2M225 186v4M225 194v2M225 204v4M225 224v2M225 240v4M225 252v2M225 258v6M225 268v4M225 278v4M225 284v4M225 292v4M227 42v6M227 134v10M227 166v2M227 180v4M227 202v8M227 230v4M227 240v12M227 256v2M227 264v4M227 272v10M227 288v6M227 296v2M229 42v6M229 58v2M229 86v4M229 110v4M229 130v6M229 152v8M229 164v6M229 190v2M229 202v8M229 212v4M229 220v6M229 228v4M229 244v4M229 250v4M229 268v14M229 286v4M229 300v2M231 60v2M231 124v4M231 136v2M231 144v6M231 152v4M231 158v2M231 180v2M231 202v2M231 222v8M231 234v10M231 246v10M231 260v2M231 270v4M231 278v2M231 292v4M231 300v2M233 40v6M233 60v2M233 148v2M233 166v2M233 170v2M233 180v2M233 184v2M233 192v4M233 200v4M233 208v2M233 212v10M233 234v2M233 240v4M233 254v6M233 268v2M233 272v6M233 284v2M233 290v10M235 56v6M235 92v6M235 108v2M235 122v4M235 134v2M235 150v6M235 166v4M235 192v6M235 206v6M235 218v2M235 222v4M235 230v6M235 238v2M235 246v8M235 260v4M235 274v4M235 288v4M237 38v4M237 56v4M237 190v8M237 204v8M237 218v4M237 234v2M237 282v4M237 294v2M237 298v2M239 38v6M239 184v2M239 188v2M239 192v4M239 204v2M239 232v2M239 246v2M239 262v2M239 288v4M241 66v6M241 114v2M241 118v2M241 128v2M241 162v2M241 172v6M241 184v4M241 196v8M241 212v2M241 230v2M241 250v4M241 258v2M241 266v4M241 272v4M241 282v2M241 294v4M243 40v4M243 54v2M243 66v6M243 114v2M243 132v2M243 148v12M243 168v2M243 186v4M243 198v4M243 214v4M243 222v4M243 232v6M243 240v16M243 264v4M243 276v2M243 280v2M243 288v2M243 296v4M245 30v2M245 88v4M245 110v2M245 118v4M245 134v14M245 170v4M245 180v10M245 208v8M245 224v8M245 240v6M245 250v4M245 264v2M245 272v6M245 282v2M245 288v2M245 294v2M245 300v2M247 58v2M247 62v6M247 72v2M247 108v4M247 224v4M247 240v2M247 272v4M249 60v6M249 74v6M249 84v4M249 94v2M249 106v4M249 118v2M249 130v4M249 144v4M249 162v4M249 170v4M249 190v2M249 196v2M249 202v6M249 212v4M249 220v2M249 224v2M249 258v8M249 270v4M249 282v6M249 292v2M249 298v2M251 60v8M253 22v2M255 62v6M259 62v6M261 60v8M263 64v2M265 40v2M267 16v2M269 42v2M269 62v12M269 76v4M269 86v2M269 120v6M269 130v2M269 140v2M269 148v6M271 42v2M273 60v2M275 62v6M277 60v4M281 66v2M283 6v2M285 38v2M285 74v2M285 78v2M285 96v4M285 102v6M285 120v8M285 138v4M285 144v2M285 156v4M285 172v6M285 180v2M285 186v4M285 198v6M285 208v2M285 220v10M285 272v6M285 282v4M287 108v2M287 156v2M287 186v16M287 220v2M287 240v2M287 244v2M287 256v4M287 266v4M287 298v4M289 34v4M289 94v2M289 270v12M289 298v2M289 326v2M291 24v2M291 52v2M291 112v4M291 130v4M291 154v4M291 164v2M291 186v4M291 224v4M291 240v2M291 260v2M291 286v4M291 294v4M293 80v2M293 84v2M293 102v2M293 120v4M293 126v14M293 164v2M293 170v2M293 184v8M293 198v6M293 224v2M293 230v6M293 246v2M293 250v2M293 262v6M293 270v2M293 274v4M293 284v4M293 298v6M295 40v6M295 58v2M295 62v4M295 70v2M295 88v4M295 94v2M295 100v8M295 114v4M295 122v2M295 128v4M295 136v8M295 150v6M295 162v6M295 178v2M295 182v4M295 190v8M295 208v4M295 216v10M295 230v8M295 246v4M295 252v18M295 282v2M295 290v8M295 302v2M295 326v2M297 60v4M297 88v2M297 98v2M297 102v2M297 112v2M297 116v2M297 134v2M297 138v4M297 144v8M297 162v6M297 170v2M297 176v8M297 188v6M297 198v14M297 222v4M297 230v20M297 252v2M297 256v6M297 270v10M297 284v4M297 290v6M297 300v2M297 326v2M299 30v4M299 38v4M299 52v2M299 60v4M299 78v2M299 92v6M299 108v16M299 130v4M299 138v4M299 162v4M299 176v14M299 196v6M299 206v12M299 224v4M299 230v10M299 244v2M299 250v2M299 256v6M299 264v4M299 280v4M299 290v2M299 300v2M301 0v2M301 22v6M301 34v8M301 54v2M301 62v10M301 74v4M301 86v4M301 96v4M301 114v2M301 120v8M301 162v4M301 168v8M301 184v12M301 198v4M301 214v4M301 238v4M301 252v4M301 292v10M303 24v14M303 42v4M303 48v4M303 74v4M303 108v4M303 120v6M303 168v2M303 188v4M303 218v4M303 232v8M303 252v4M303 262v2M303 266v8M303 278v2M303 282v2M303 288v4M303 300v6M305 26v4M305 42v10M305 80v4M305 88v4M305 98v4M305 110v2M305 114v2M305 124v2M305 158v6M305 168v2M305 180v2M305 208v6M305 242v2M305 250v4M305 264v6M305 272v6M305 284v6M305 326v2M307 30v2M307 40v2M307 46v2M307 60v6M307 68v2M307 78v2M307 84v2M307 98v12M307 118v2M307 126v2M307 134v2M307 144v6M307 164v4M307 172v6M307 188v2M307 194v2M307 198v2M307 208v6M307 216v8M307 232v14M307 248v4M307 258v2M307 262v12M307 276v8M307 292v6M309 20v2M309 36v4M309 42v2M309 48v2M309 88v4M309 98v2M309 126v2M309 132v4M309 144v6M309 158v6M309 168v4M309 178v4M309 204v2M309 220v4M309 228v2M309 234v4M309 252v2M309 258v2M309 264v8M309 278v6M311 18v6M311 70v8M311 80v4M311 116v2M311 128v2M311 136v2M311 154v4M311 168v4M311 200v8M311 260v2M313 4v2M313 8v8M313 46v2M313 180v6M315 4v8M315 36v4M315 58v2M315 96v2M315 108v2M315 122v2M315 126v6M315 136v4M315 142v4M315 154v6M315 174v6M315 188v6M315 206v10M315 222v4M315 238v10M315 260v8M315 272v4M315 280v2M315 288v8M315 300v4M317 104v2M317 114v4M317 120v12M317 146v2M317 152v10M317 166v2M317 206v4M317 220v6M317 228v4M317 240v10M317 252v4M317 276v8M317 294v8M317 304v2M319 24v2M319 44v4M319 60v2M319 86v6M319 120v2M319 164v2M319 204v10M319 218v2M319 222v4M319 242v4M319 258v6M319 278v4M319 284v2M321 44v4M321 54v2M321 90v2M321 118v12M321 132v4M321 148v4M321 172v6M321 180v4M321 190v6M321 216v6M321 278v2M323 84v4M323 90v4M323 100v4M323 108v4M323 122v4M323 128v12M323 144v6M323 152v8M323 170v4M323 178v4M323 184v2M323 192v4M323 198v4M323 234v20M323 260v6M323 268v2M323 272v2M323 280v4M323 288v6M325 74v2M325 92v2M325 100v4M325 118v4M325 126v2M325 146v8M325 168v10M325 186v4M325 210v4M325 216v4M325 224v2M325 228v6M325 236v6M325 244v6M325 254v6M325 264v2M325 272v4M325 284v4M325 296v6M327 0v6M327 8v2M327 16v2M327 30v2M327 34v2M327 44v2M327 128v12M327 160v2M327 206v2M327 212v2M327 216v2M327 226v6M327 256v2M329 18v2M329 40v2M329 44v2M329 66v4M329 74v10M329 100v2M329 112v6M329 122v2M329 130v2M329 146v4M329 152v16M329 170v4M329 182v2M329 186v2M329 192v2M329 200v2M329 208v4M329 216v6M329 228v2M329 234v2M329 262v10M329 284v4M331 50v2M331 62v2M331 78v2M331 86v2M331 102v2M331 114v8M331 136v6M331 166v4M331 202v4M331 212v4M331 238v8M331 258v4M331 282v6M331 302v4M333 0v2M333 50v4M333 138v4M333 256v2M333 274v4M335 6v2M335 42v2M335 46v2M335 62v2M335 72v2M335 80v4M335 94v2M335 106v2M335 116v2M335 120v2M335 126v2M335 132v6M335 150v2M335 162v6M335 176v2M335 186v4M335 200v6M335 212v10M335 224v2M335 232v2M335 238v10M335 252v4M335 264v4M335 276v2M335 284v6M335 294v8M337 60v8M337 70v2M337 78v6M337 98v6M337 118v2M337 124v12M337 154v4M337 164v12M337 188v4M337 194v2M337 208v6M337 218v4M337 228v4M337 234v2M337 238v8M337 274v18M337 298v4M339 62v4M339 128v4M339 136v6M339 162v2M339 166v2M339 172v6M339 186v4M339 194v2M339 210v4M339 216v4M339 222v8M339 246v6M339 264v4M339 272v2M339 278v2M339 290v2M339 302v4M339 326v2M341 64v2M341 92v6M341 102v4M341 116v6M341 134v6M341 146v2M341 150v2M341 172v6M341 184v8M341 210v2M341 216v2M341 220v2M341 246v2M341 262v8M341 274v4M341 284v8M341 298v6M343 46v2M343 64v4M343 74v6M343 98v8M343 112v2M343 120v2M343 128v4M343 134v2M343 146v4M343 156v2M343 162v2M343 168v2M343 174v2M343 184v4M343 190v4M343 196v6M343 206v8M343 216v2M343 220v4M343 230v6M343 246v6M343 264v6M343 282v2M343 286v2M343 290v6M343 300v6M345 18v2M345 46v2M345 82v2M345 92v2M345 102v6M345 112v6M345 128v2M345 134v2M345 156v6M345 204v2M345 208v10M345 232v4M345 244v2M345 248v6M345 258v4M345 266v2M345 276v4M347 12v6M347 24v2M347 46v4M347 58v4M347 64v6M347 74v2M347 78v2M347 84v2M347 92v10M347 108v4M347 120v2M347 128v10M347 142v2M347 148v4M347 186v2M347 208v10M347 224v6M347 242v6M347 250v2M347 262v4M347 272v10M349 156v2M349 224v2M349 272v2M349 288v2M349 300v4M351 130v2M351 136v6M351 174v2M351 206v2M351 232v4M351 326v2M353 84v6M353 102v2M353 110v4M353 124v8M353 146v4M353 166v4M353 182v2M353 188v2M353 194v2M353 202v2M353 208v2M353 214v2M353 220v2M353 224v2M353 242v2M353 260v4M353 280v6M353 292v4M355 26v2M355 48v4M355 58v4M355 78v6M355 90v2M355 100v4M355 124v2M355 132v2M355 140v4M355 146v8M355 158v2M355 168v4M355 210v8M355 228v8M355 238v4M355 246v2M355 256v4M355 264v6M355 278v2M355 290v6M355 298v4M357 36v2M357 56v2M357 66v12M357 92v2M357 96v2M357 106v8M357 116v6M357 128v2M357 134v14M357 150v2M357 158v14M357 184v4M357 194v8M357 204v2M357 216v6M357 230v4M357 238v6M357 256v2M357 260v2M357 266v6M357 278v2M357 290v8M359 18v2M359 44v10M359 58v4M359 68v4M359 74v2M359 80v2M359 92v4M359 108v6M359 326v2M361 42v2M361 46v6M361 56v8M361 90v2M361 96v24M361 132v2M361 136v2M361 142v4M361 180v2M361 242v6M361 258v2M361 276v2M361 288v6M361 300v4M363 64v2M363 72v6M363 92v4M363 104v6M363 120v4M363 136v2M363 148v2M363 168v2M363 174v2M363 178v6M363 192v4M363 204v4M363 212v4M363 220v2M363 226v2M363 246v2M363 270v8M363 284v2M365 32v4M365 38v4M365 66v2M365 76v6M365 86v2M365 94v12M365 108v2M365 114v2M365 122v2M365 126v6M365 136v2M365 144v4M365 152v6M365 168v2M365 174v4M365 184v12M365 214v2M365 218v4M365 224v2M365 234v2M365 250v6M365 258v4M365 264v8M365 276v16M365 296v2M365 326v2M367 62v2M367 66v2M367 92v2M367 100v14M367 116v2M367 124v14M367 154v2M367 158v2M367 162v8M367 176v4M367 186v4M367 200v2M367 216v6M367 224v4M367 248v2M367 258v2M367 262v6M367 276v2M367 288v12M369 58v2M369 62v6M369 76v4M369 82v2M369 88v6M369 102v4M369 114v2M369 124v2M369 132v4M369 140v2M369 156v4M369 162v2M369 170v6M369 184v4M369 192v6M369 202v12M369 216v6M369 230v14M369 256v4M369 270v6M369 288v2M369 294v6M371 44v4M371 54v6M371 70v6M371 86v2M371 90v6M371 98v4M371 104v2M371 114v6M371 132v2M371 136v8M371 152v2M371 162v20M371 186v4M371 200v4M371 208v4M371 218v10M371 236v6M371 244v4M371 254v20M371 278v2M371 288v10M371 326v2M373 90v4M373 118v2M373 122v2M373 126v2M373 142v2M373 146v2M373 156v4M373 164v4M373 176v2M373 186v4M373 194v4M373 234v22M373 264v2M373 286v6M373 294v2M373 298v2M375 60v2M375 80v6M375 88v4M375 104v8M375 116v4M375 124v2M375 128v2M375 156v10M375 172v2M375 186v4M375 194v4M375 204v4M375 216v6M375 226v8M375 238v2M375 244v8M375 270v4M375 278v8M375 288v10M377 32v2M377 44v4M377 54v2M377 64v4M377 72v8M377 82v2M377 90v4M377 98v2M377 106v4M377 116v8M377 126v2M377 132v8M377 150v2M377 154v6M377 166v10M377 192v2M377 198v12M377 228v2M377 236v2M377 242v18M377 262v8M377 274v10M377 288v2M377 292v2M377 298v2M379 6v4M379 32v2M379 44v8M379 56v12M379 86v2M379 98v2M379 102v8M379 174v4M379 190v6M379 200v4M379 206v14M379 226v2M379 238v2M379 252v4M379 266v6M379 280v4M379 288v8M389 50v8M389 68v4M389 106v2M389 112v2M389 122v14M389 142v2M389 146v10M389 178v2M389 190v2M389 204v2M389 210v2M389 222v10M389 234v6M389 242v6M389 268v4M391 84v12M391 110v12M391 126v4M391 138v6M391 152v4M391 160v2M391 164v4M391 174v4M391 184v6M391 196v12M391 214v4M391 226v2M391 236v2M391 242v2M393 74v6M393 104v2M393 124v14M393 144v4M393 152v12M393 166v2M393 174v4M393 188v10M393 204v10M393 218v6M393 230v2M393 238v2M393 244v6M395 64v4M395 96v2M395 104v4M395 110v2M395 116v4M395 126v10M395 146v2M395 150v8M395 172v4M395 180v8M395 192v2M395 204v4M395 212v6M395 220v2M395 226v8M395 236v4M395 264v2M397 32v2M397 56v2M397 60v8M397 70v2M397 78v4M397 84v10M397 96v8M397 120v2M397 130v18M397 154v2M397 162v4M397 168v6M397 188v10M397 202v12M397 232v4M397 238v2M397 258v4M397 276v2M399 46v2M399 70v4M399 152v2M399 156v2M399 166v6M399 176v2M399 180v2M399 210v10M399 240v10M401 52v2M401 84v4M401 108v2M401 112v8M401 122v4M401 136v2M401 144v4M401 152v2M401 160v2M401 168v6M401 180v2M401 194v4M401 204v2M401 228v2M401 234v6M401 246v2M401 268v2M401 290v2M401 298v4M403 86v2M403 90v2M403 94v8M403 106v4M403 114v2M403 120v8M403 138v2M403 146v10M403 166v2M403 172v4M403 178v2M403 184v4M403 196v2M403 202v2M403 208v2M403 212v2M403 222v2M403 228v2M403 244v2M403 326v2M405 82v2M405 94v2M405 98v4M405 116v6M405 128v2M405 134v12M405 152v8M405 164v4M405 172v14M405 192v2M405 198v2M405 206v2M405 212v14M405 230v16M405 248v2M407 90v2M407 112v6M407 138v2M407 144v2M407 150v4M407 166v2M407 170v2M407 180v18M407 208v6M407 218v2M407 222v6M407 234v8M407 326v2M409 130v2M409 222v4M409 238v2M409 326v2M411 98v4M411 106v2M411 132v2M411 142v4M411 184v2M411 188v6M411 198v4M411 210v2M411 214v2M411 220v4M411 232v4M411 242v4M411 296v2M413 178v4M413 194v2M413 212v4M413 246v4M413 262v4M413 326v2M415 210v2M415 264v4M415 288v8M415 298v2M417 56v2M417 64v6M417 76v2M417 84v4M417 92v2M417 110v6M417 122v2M417 138v2M417 144v8M417 170v6M417 180v2M417 190v6M417 200v2M417 206v12M417 222v2M417 226v2M417 234v2M417 244v10M417 256v18M417 278v4M417 286v8M417 298v2M419 100v2M419 108v2M419 118v2M419 124v2M419 148v4M419 168v6M419 212v2M419 218v6M419 230v4M419 244v2M419 276v8M421 46v6M421 54v2M421 64v8M421 90v4M421 106v4M421 116v2M421 120v10M421 138v4M421 146v2M421 170v14M421 188v6M421 198v10M421 214v2M421 218v4M421 224v4M421 230v4M421 238v2M421 242v2M421 258v4M421 272v2M421 276v2M421 286v6M423 64v6M423 80v8M423 98v16M423 120v2M423 128v6M423 148v2M423 156v10M423 170v4M423 176v8M423 188v8M423 204v4M423 212v8M423 226v2M423 230v2M423 238v10M423 250v2M423 264v4M423 272v10M423 286v2M423 290v4M423 296v2M425 14v2M425 42v4M425 98v4M425 126v4M425 146v2M425 210v2M425 248v4M427 78v2M429 70v8M429 84v2M429 94v2M429 102v2M429 106v2M429 110v4M429 124v2M429 136v8M429 152v10M429 176v8M429 186v8M429 198v2M429 202v12M429 218v6M429 228v4M429 238v6M429 246v4M429 254v2M429 260v4M429 280v2M429 284v4M429 292v2M429 300v2M431 62v2M431 72v12M431 96v6M431 118v4M431 124v8M431 134v2M431 152v4M431 164v8M431 180v2M431 196v6M431 222v4M431 230v2M431 240v2M431 246v8M431 256v20M431 282v2M431 294v2M431 300v2M433 62v2M433 68v8M433 96v10M433 138v2M433 144v2M433 148v4M433 156v8M433 174v2M433 180v2M433 198v4M433 208v2M433 214v6M433 222v2M433 234v4M433 254v6M433 270v2M433 286v4M433 298v2M433 326v2M435 24v12M435 38v2M435 48v4M435 64v24M435 92v6M435 104v14M435 124v6M435 136v6M435 158v2M435 162v4M435 170v8M435 184v2M435 190v6M435 204v16M435 230v2M435 236v6M435 246v2M435 258v2M435 276v4M435 286v4M435 326v2M437 14v2M437 18v2M437 26v6M437 40v2M437 106v2M437 146v2M437 166v4M437 190v6M437 214v2M437 232v2M437 242v2M437 250v6M437 268v4M439 0v2M439 30v2M439 90v2M439 222v6M441 4v6M441 22v16M441 44v12M441 62v4M441 108v6M441 120v2M441 126v4M441 148v10M441 166v4M441 184v10M441 204v10M441 266v8M441 294v2M441 298v2M443 28v16M443 50v2M443 112v4M443 188v4M443 224v4M443 248v2M443 290v4M443 298v2M445 12v2M445 16v2M445 122v4M445 196v2M445 326v2M447 30v2M447 54v2M447 70v14M447 92v6M447 102v4M447 120v2M447 124v8M447 134v18M447 154v4M447 164v6M447 178v8M447 188v10M447 200v4M447 208v6M447 222v2M447 226v2M447 232v2M447 240v10M447 252v20M447 284v2M447 290v2M447 296v2M449 32v4M449 52v2M449 58v2M449 66v4M449 72v2M449 76v2M449 80v4M449 86v6M449 100v6M449 112v8M449 122v2M449 128v4M449 140v2M449 148v4M449 160v2M449 176v14M449 194v6M449 224v4M449 232v8M449 250v6M449 266v2M449 270v12M449 286v8M449 298v2M451 64v6M451 72v8M451 84v2M451 96v4M451 108v4M451 116v2M451 120v2M451 130v6M451 138v4M451 150v4M451 160v4M451 170v2M451 182v2M451 198v6M451 206v4M451 212v6M451 222v4M451 228v8M451 246v4M451 254v4M451 264v6M451 280v8M451 296v4M453 12v2M453 32v6M453 94v6M453 178v4M453 206v6M453 218v2M453 266v2M453 278v6M455 6v2M455 28v2M455 32v2M455 58v8M455 110v2M455 116v6M455 138v6M455 164v4M455 176v4M455 194v6M455 206v10M455 282v6M457 0v2M457 6v2M457 72v4M457 156v2M457 180v2M457 186v2M457 190v2M457 238v6M457 260v4M457 268v2M459 4v2M459 24v2M459 34v2M459 46v12M459 92v6M459 110v2M459 116v2M459 124v4M459 142v6M459 152v2M459 156v2M459 180v10M459 240v2M459 290v4M461 20v2M461 42v6M461 52v2M461 58v2M461 74v8M461 84v2M461 96v2M461 104v14M461 120v22M461 150v2M461 154v4M461 160v8M461 176v2M461 182v2M461 188v8M461 208v2M461 214v8M461 242v14M461 260v6M461 282v4M461 292v6M463 30v4M463 36v2M463 94v2M463 98v4M463 110v6M463 134v2M463 150v2M463 168v2M463 182v4M463 190v4M463 216v10M463 228v6M463 250v2M463 282v4M465 32v2M465 72v4M465 96v6M465 104v12M465 122v2M465 134v2M465 140v2M465 144v4M465 150v8M465 164v2M465 174v8M465 184v4M465 190v12M465 212v2M465 216v2M465 226v6M465 244v2M465 250v6M465 268v4M465 280v6M465 294v2M467 68v4M467 74v6M467 90v6M467 100v14M467 116v10M467 146v2M467 158v16M467 178v2M467 188v14M467 210v4M467 226v12M467 256v4M467 266v2M467 272v2M467 278v2M467 290v6M469 106v4M469 128v2M469 140v6M469 174v4M469 250v2M469 274v4M469 326v2M471 4v2M471 10v4M471 28v4M471 44v2M471 76v2M471 96v2M471 104v6M471 118v6M471 142v6M471 182v4M471 200v6M471 252v4M471 290v4M473 66v2M473 86v2M473 110v2M473 116v2M473 130v4M473 136v6M473 152v10M473 166v6M473 176v8M473 190v4M473 196v8M473 210v16M473 228v2M473 242v6M473 250v4M473 264v2M473 270v14M473 292v2M475 64v2M475 68v4M475 82v6M475 90v4M475 102v2M475 108v2M475 112v4M475 122v2M475 136v12M475 156v2M475 176v2M475 180v6M475 194v2M475 206v8M475 216v6M475 226v12M475 244v2M475 258v6M475 274v2M475 278v8M475 292v4M477 0v2M477 48v4M477 54v10M477 76v2M477 96v4M477 128v10M477 148v4M477 170v8M477 180v6M477 194v2M477 200v2M477 216v10M477 232v2M477 238v4M477 250v4M477 260v2M477 272v2M477 278v10M479 112v2M479 124v2M479 174v4M481 16v2M481 52v4M481 66v2M481 94v2M481 100v6M481 128v2M481 132v2M481 138v4M481 150v4M481 168v2M481 200v4M481 208v4M481 272v8M483 90v2M483 114v4M483 122v14M483 150v10M483 162v2M483 170v6M483 184v2M483 190v4M483 200v14M483 216v8M483 226v10M483 254v4M483 262v2M483 276v2M483 282v6"/><path stroke="#0000ff" d="M1 146v2M1 150v4M1 162v4M1 220v4M1 236v4M3 66v2M3 94v4M3 108v2M3 166v2M3 200v2M3 246v6M3 278v4M3 292v2M5 76v2M5 90v2M9 218v2M9 234v2M11 64v2M11 194v4M11 216v2M11 254v2M13 76v2M13 90v2M13 152v4M13 162v4M13 184v8M13 222v4M13 238v4M13 252v2M13 290v8M15 82v4M15 104v6M15 114v2M15 122v2M15 126v4M15 134v14M15 158v2M15 162v4M15 174v6M15 192v2M15 200v6M15 222v2M15 234v2M15 244v2M15 252v4M15 266v8M15 286v6M17 50v2M17 88v2M17 172v6M17 198v2M19 86v2M19 92v2M19 158v2M19 172v2M19 198v2M21 150v2M21 168v6M21 180v2M21 230v6M23 82v2M23 102v4M23 130v2M23 140v4M23 196v4M23 204v6M23 220v4M23 242v6M23 250v2M23 256v6M23 276v4M23 282v2M23 288v2M23 294v2M25 4v2M25 38v2M25 46v2M25 52v2M25 90v2M27 42v2M27 52v2M27 82v2M29 36v2M29 58v2M29 74v4M31 94v2M31 100v6M31 182v2M31 198v4M31 216v2M31 222v2M31 238v10M31 252v2M31 264v2M31 274v4M31 290v4M33 44v2M33 252v2M35 92v2M35 154v4M37 14v2M37 80v2M43 52v2M43 88v2M45 0v2M45 74v2M47 86v2M47 90v2M47 98v2M47 126v2M47 132v4M47 174v2M47 190v2M47 200v12M47 216v2M47 246v2M47 282v4M49 150v2M49 190v4M49 220v2M49 230v10M49 262v2M49 278v2M49 282v2M49 290v2M51 158v2M51 168v4M51 268v2M51 274v2M51 290v2M53 14v2M55 84v2M55 92v4M57 60v2M57 90v2M59 52v2M59 84v2M63 86v2M63 94v2M67 72v2M69 94v2M69 100v4M69 112v2M69 142v2M69 174v4M69 182v2M69 192v2M69 204v8M69 216v10M69 236v2M69 240v2M69 246v8M69 260v4M69 266v6M69 274v2M71 84v4M71 90v4M71 252v4M73 80v2M73 234v2M73 262v4M73 268v4M75 106v4M75 154v2M75 158v2M75 166v4M75 178v6M75 192v2M75 200v14M75 238v8M75 258v10M75 284v2M75 288v8M77 58v2M77 86v2M77 100v2M77 124v4M77 158v4M77 226v2M77 242v4M79 72v2M79 78v2M79 216v4M79 238v6M79 276v4M81 98v2M81 118v2M81 124v2M81 192v2M81 218v4M81 258v4M81 266v2M81 284v10M83 48v2M83 90v2M83 108v8M83 134v2M83 144v2M83 230v2M83 256v6M83 276v2M83 286v8M101 114v4M101 190v2M101 196v10M101 220v2M101 228v4M101 238v4M101 278v2M101 288v8M103 76v2M105 168v2M105 236v4M105 244v4M107 118v2M107 160v10M107 178v4M107 202v4M107 226v8M107 238v2M107 254v4M107 264v4M107 286v2M107 292v2M109 112v4M109 200v4M109 218v2M109 228v4M109 268v4M111 108v4M111 116v10M111 152v2M111 162v14M111 206v2M111 212v4M111 226v2M111 236v2M111 242v2M111 246v2M111 270v8M111 292v2M113 82v2M113 100v2M113 106v2M113 142v4M113 150v4M113 162v4M113 184v4M113 190v8M113 240v8M113 266v6M113 278v4M113 284v4M115 108v2M115 120v8M115 134v10M115 152v8M115 172v2M115 178v4M115 190v4M115 198v6M115 214v6M115 226v2M115 230v2M115 236v4M115 274v8M115 286v8M117 146v2M117 180v10M117 206v6M117 226v6M117 238v4M117 246v18M117 266v4M117 278v2M117 292v2M119 166v2M119 208v2M119 246v2M119 272v2M121 120v2M121 138v4M121 144v2M121 192v2M121 218v4M121 228v4M121 246v2M121 256v4M121 284v4M123 84v2M123 116v4M123 178v6M125 94v2M125 100v4M125 144v2M125 184v4M125 198v2M125 284v6M129 154v2M131 102v2M131 106v2M131 120v2M131 124v2M131 154v2M133 104v2M133 110v2M133 118v2M133 126v4M133 134v8M133 148v4M133 158v8M133 170v2M133 174v2M133 182v4M133 190v2M133 202v12M135 80v2M135 110v14M135 140v2M135 148v2M135 152v2M135 156v6M135 170v12M135 184v10M135 196v2M135 210v2M137 66v2M137 102v2M141 98v4M141 106v2M141 110v2M141 116v2M141 120v2M141 144v4M141 168v6M141 218v2M143 70v2M145 46v4M145 150v2M145 172v2M147 182v2M147 196v2M147 200v2M149 184v2M149 208v4M149 216v10M151 180v2M151 192v6M151 204v2M151 210v4M153 164v2M153 178v2M153 190v2M153 196v4M153 202v4M155 162v2M155 208v2M157 168v2M157 186v2M157 202v6M157 214v2M159 210v4M159 216v8M161 288v8M163 178v2M163 190v2M163 200v2M163 264v2M163 280v4M163 286v4M165 108v2M165 136v2M165 146v2M165 166v4M165 172v2M165 190v2M165 194v4M165 204v2M165 212v4M165 232v2M165 258v4M167 108v2M167 138v2M167 146v2M167 150v2M167 186v2M167 268v2M167 272v2M167 276v2M167 282v2M167 320v2M169 16v2M169 104v2M169 118v2M169 164v2M169 304v2M171 100v2M171 186v2M173 106v2M173 222v4M173 234v2M173 264v2M173 268v4M197 14v2M197 20v2M197 46v4M201 26v4M201 90v2M201 94v2M201 104v6M201 118v2M201 146v2M201 168v4M201 182v2M201 288v2M203 94v2M203 108v4M203 164v6M203 192v4M203 228v6M203 240v4M203 248v8M203 280v4M203 300v2M207 14v2M209 16v2M209 46v2M209 70v2M209 188v4M209 214v6M209 228v2M209 262v2M209 268v2M209 276v18M211 68v2M211 174v10M211 198v2M211 222v4M211 238v2M211 262v2M211 274v4M213 122v2M213 168v8M213 178v6M213 196v4M213 206v6M213 218v6M213 230v2M213 236v2M213 246v2M213 252v8M213 264v10M213 290v2M213 296v4M213 302v2M215 40v4M215 50v2M215 76v4M215 88v8M215 100v2M215 104v2M215 110v4M215 118v6M215 132v2M215 138v2M215 146v8M215 160v12M215 174v2M215 178v6M215 202v24M215 238v12M215 260v8M215 274v16M215 294v6M215 302v2M217 84v4M217 90v8M217 116v4M217 124v12M217 142v8M217 166v4M217 176v2M217 180v2M217 184v6M217 198v6M217 214v2M217 218v2M217 234v2M217 238v2M217 244v6M217 256v2M217 272v8M217 282v4M217 292v2M219 4v2M219 218v4M219 302v2M221 70v2M221 94v4M221 112v2M221 242v2M221 270v2M221 286v4M223 44v4M223 114v6M223 136v4M223 166v14M223 184v2M223 194v4M223 208v4M223 220v6M223 228v4M223 234v2M223 248v4M223 256v2M223 262v2M225 190v4M225 226v2M225 282v2M227 70v2M227 82v4M227 116v10M227 164v2M227 178v2M227 184v2M227 196v6M227 210v8M227 220v2M227 234v6M227 258v2M227 262v2M229 36v2M229 146v6M229 176v2M229 196v6M229 210v2M229 238v6M229 248v2M229 254v6M229 266v2M229 282v4M229 290v2M229 296v4M229 302v2M231 114v4M231 156v2M231 198v4M231 204v18M231 244v2M231 274v4M231 302v2M233 38v2M233 112v2M233 150v6M233 162v4M233 168v2M233 178v2M233 186v6M233 196v4M233 204v4M233 222v12M233 236v4M233 244v10M233 270v2M233 278v6M233 286v4M233 300v2M235 220v2M235 240v6M237 60v2M237 154v2M237 198v2M237 202v2M237 216v2M237 222v2M237 228v6M237 236v12M237 256v6M237 268v2M237 274v8M237 286v8M239 32v2M239 54v6M239 70v2M239 186v2M239 196v2M239 206v4M239 212v6M239 230v2M239 234v2M239 240v6M239 248v4M239 254v8M239 264v14M239 286v2M239 292v10M241 62v4M241 82v2M241 152v6M241 164v2M241 170v2M241 178v2M241 188v2M241 194v2M241 204v8M241 214v6M241 224v6M241 232v2M241 238v6M241 254v4M241 260v6M241 276v6M241 284v10M241 298v6M243 60v6M243 72v2M243 92v4M243 118v6M243 160v8M243 174v2M243 178v8M243 218v4M243 226v6M243 256v8M243 268v8M243 282v2M243 286v2M243 290v2M243 294v2M245 62v4M245 92v2M245 122v12M245 156v8M245 232v4M245 238v2M245 246v4M245 256v2M245 260v4M245 284v4M245 302v4M247 60v2M249 80v4M249 120v4M249 192v4M249 208v4M249 222v2M249 266v4M249 288v4M251 34v2M255 60v2M259 60v2M263 38v2M263 62v2M265 66v2M269 60v2M269 160v6M269 170v6M269 180v6M271 60v8M273 42v2M277 56v2M283 8v2M283 38v2M285 36v2M285 100v2M285 142v2M285 210v6M287 106v2M287 242v2M291 162v2M293 78v2M293 86v2M293 96v2M293 118v2M293 124v2M293 140v4M293 146v2M293 152v12M293 166v4M293 176v2M293 182v2M293 192v6M293 204v6M293 214v10M293 226v4M293 236v4M293 244v2M293 258v4M293 268v2M293 272v2M293 278v6M293 288v10M293 304v2M295 16v12M295 46v8M295 56v2M295 72v4M295 92v2M295 132v4M295 156v6M295 180v2M295 226v4M295 250v2M295 298v4M297 58v2M297 64v2M297 70v2M297 86v2M297 100v2M297 104v2M297 110v2M297 118v2M297 126v8M297 142v2M297 152v10M297 172v4M297 184v4M297 194v4M297 212v2M297 220v2M297 226v4M297 254v2M297 262v4M297 268v2M297 280v4M299 18v6M299 36v2M299 42v2M299 50v2M299 98v2M299 202v4M299 218v6M299 262v2M299 292v8M301 10v4M303 6v4M303 22v2M303 38v4M303 170v4M303 264v2M303 280v2M305 4v2M305 112v2M305 164v4M305 236v2M305 240v2M307 18v4M307 28v2M307 32v8M307 48v2M307 80v4M307 120v6M307 136v8M307 196v2M307 260v2M307 274v2M307 326v2M309 16v4M309 26v6M309 40v2M309 50v4M309 128v4M309 164v4M309 254v4M309 326v2M311 8v2M311 130v6M315 0v4M315 40v4M315 124v2M317 70v2M317 94v2M317 102v2M317 118v2M317 132v8M317 144v2M317 148v4M317 162v4M317 168v2M317 174v14M317 192v6M317 200v2M317 204v2M317 210v2M317 216v4M317 226v2M317 232v8M317 256v2M317 274v2M317 284v4M317 290v4M317 326v2M319 6v2M319 282v2M321 42v2M321 52v2M321 130v2M323 62v2M323 80v2M323 104v4M323 150v2M323 160v2M323 168v2M323 174v4M323 188v4M323 196v2M323 210v4M323 216v18M323 266v2M323 274v6M325 86v6M325 108v4M325 114v4M325 128v2M325 134v4M325 144v2M325 154v12M325 178v8M325 190v2M325 200v6M325 208v2M325 220v4M325 234v2M325 242v2M325 250v4M325 260v4M325 266v2M325 270v2M325 276v2M325 280v4M325 288v8M327 10v6M327 32v2M329 10v2M329 20v4M329 28v6M329 42v2M329 58v2M329 70v4M329 118v4M329 150v2M329 168v2M329 184v2M329 194v6M335 4v2M335 22v10M335 48v14M335 64v2M335 70v2M335 74v2M335 78v2M335 84v10M335 110v2M335 118v2M335 128v4M335 138v4M335 152v4M335 160v2M335 178v8M335 190v4M335 198v2M335 222v2M335 248v4M335 268v2M335 272v4M335 290v4M335 302v2M337 68v2M337 116v2M337 176v12M337 192v2M337 214v4M337 236v2M339 132v4M339 150v12M339 168v4M339 192v2M339 268v4M339 274v4M341 10v2M341 212v4M343 2v2M343 22v2M343 30v2M343 48v8M343 60v4M343 96v2M343 114v6M343 142v4M343 164v4M343 188v2M343 194v2M343 214v2M343 284v2M345 0v6M345 10v2M345 42v4M345 130v4M345 144v4M345 206v2M345 246v2M347 18v6M347 40v6M347 56v2M347 86v6M347 112v8M347 138v4M347 248v2M353 72v2M353 82v2M353 104v6M353 114v10M353 132v2M353 140v6M353 150v16M353 170v12M353 190v4M353 196v2M353 200v2M353 210v4M353 216v4M353 226v2M353 232v6M353 240v2M353 246v8M353 258v2M353 264v8M353 278v2M353 286v2M353 290v2M353 296v4M353 304v2M353 326v2M355 8v4M355 28v2M355 52v2M355 76v2M355 92v4M355 98v2M355 126v6M355 274v4M357 28v4M357 34v2M357 48v4M357 58v4M357 94v2M357 102v4M357 130v4M357 152v6M357 202v2M357 206v10M357 222v2M357 228v2M357 244v12M357 262v4M357 282v2M359 16v2M359 20v2M359 28v6M359 36v4M359 42v2M359 72v2M359 82v10M359 96v6M359 106v2M359 114v2M359 168v4M359 228v2M359 278v4M361 10v12M361 38v4M361 134v2M361 146v4M361 260v8M363 18v6M363 170v4M363 248v4M365 30v2M365 36v2M365 42v2M365 50v8M365 62v2M365 74v2M365 82v4M365 106v2M365 116v6M365 124v2M365 132v4M365 166v2M365 170v4M365 178v2M365 182v2M365 196v6M365 208v6M365 216v2M365 222v2M365 236v10M365 272v4M365 298v4M367 4v2M367 64v2M367 118v6M367 156v2M367 260v2M369 28v4M369 44v2M369 80v2M369 116v8M369 142v4M371 12v2M371 18v8M371 48v6M371 62v8M371 76v10M371 106v8M371 128v4M371 144v4M371 150v2M371 154v8M371 190v10M371 242v2M371 248v6M371 274v4M373 56v2M373 64v2M373 82v2M373 86v4M373 94v12M373 112v6M373 128v4M373 138v4M373 152v4M373 160v4M373 168v8M373 178v2M373 184v2M373 190v4M373 198v4M373 204v16M373 224v4M373 232v2M373 256v8M373 266v8M373 278v8M373 292v2M373 326v2M375 58v2M375 62v2M375 66v4M375 86v2M375 92v6M375 102v2M375 120v4M375 130v12M375 146v4M375 154v2M375 166v6M375 174v12M375 190v4M375 198v2M375 202v2M375 208v2M375 214v2M375 240v4M375 252v4M375 260v2M375 266v4M375 274v4M375 286v2M377 22v2M377 30v2M377 34v4M377 40v4M377 62v2M377 68v4M377 100v2M377 110v6M377 124v2M377 152v2M377 160v6M377 176v10M377 188v4M377 210v10M377 230v6M377 284v4M377 294v4M379 22v10M379 100v2M379 220v6M379 284v4M389 58v6M389 66v2M389 110v2M389 120v2M389 136v2M389 140v2M389 156v10M389 168v2M389 192v12M389 212v10M389 232v2M389 240v2M389 248v2M389 256v2M389 272v4M391 70v4M391 80v4M391 96v2M391 130v8M391 150v2M391 156v4M391 162v2M391 168v2M391 172v2M391 178v6M391 212v2M391 218v4M391 238v4M391 244v6M393 62v4M393 72v2M393 90v8M393 100v4M393 106v2M393 112v2M393 122v2M393 148v4M393 164v2M393 168v6M393 178v2M393 182v6M393 198v6M393 214v4M393 224v6M393 232v2M393 326v2M395 62v2M395 68v2M395 74v2M395 84v12M395 108v2M395 136v10M395 158v14M395 176v4M395 188v4M395 194v4M395 202v2M395 218v2M395 240v10M395 262v2M395 266v2M395 326v2M397 52v4M397 116v4M397 148v6M397 228v4M397 250v4M397 256v2M399 50v4M399 64v6M399 84v10M399 98v8M399 108v2M399 116v14M399 134v2M399 142v6M399 158v8M399 172v4M399 182v12M399 198v4M399 208v2M399 220v10M399 232v8M401 36v2M401 110v2M403 92v2M403 128v4M403 134v4M403 160v6M403 180v4M403 188v8M403 198v4M403 210v2M403 214v8M403 234v10M403 246v2M403 258v4M405 66v10M405 78v4M405 84v6M405 122v6M405 146v6M405 160v4M405 168v4M405 186v6M405 194v4M405 208v4M405 226v4M405 246v2M405 250v2M407 42v2M407 50v2M407 68v4M407 78v4M407 86v4M407 92v6M407 102v10M407 118v4M407 124v2M407 136v2M407 146v4M407 154v4M407 160v6M407 172v4M407 178v2M407 198v10M407 220v2M407 228v6M407 242v8M407 276v2M409 110v2M409 126v4M409 132v4M409 142v4M409 150v2M409 174v4M409 182v10M409 202v2M409 210v12M409 226v4M409 236v2M409 240v10M409 258v4M411 82v2M411 90v8M411 102v4M411 110v4M411 116v10M411 130v2M411 134v8M411 146v4M411 154v4M411 162v4M411 174v10M411 186v2M411 202v8M411 216v4M411 224v8M411 236v6M411 246v2M411 258v2M411 268v2M411 276v2M411 282v2M411 294v2M417 40v2M417 54v2M417 58v2M417 70v6M417 106v4M417 124v6M417 136v2M417 158v4M417 176v4M417 202v4M417 224v2M417 236v2M417 242v2M417 254v2M417 282v4M419 120v4M419 326v2M421 0v6M421 18v4M421 52v2M421 72v10M421 184v4M421 234v4M421 240v2M421 246v2M421 250v2M421 256v2M421 274v2M423 28v12M423 46v10M423 60v4M423 70v6M423 88v6M423 96v2M423 122v2M423 126v2M423 150v6M423 166v4M423 228v2M423 232v6M423 252v12M423 268v4M423 282v4M429 96v6M429 114v10M429 144v8M429 214v4M429 256v4M429 274v2M429 282v2M429 326v2M431 64v8M431 94v2M431 206v4M431 216v6M431 226v4M431 242v4M431 296v4M433 60v2M433 140v4M433 220v2M433 224v10M435 6v2M435 20v4M435 62v2M435 118v6M435 130v2M435 160v2M435 166v4M435 178v6M435 232v4M435 242v4M435 290v10M437 16v2M441 0v4M441 10v4M441 130v8M447 8v6M447 20v4M447 28v2M447 32v4M447 52v2M447 56v2M447 62v8M447 98v4M447 132v2M447 152v2M447 186v2M447 204v4M447 214v8M447 228v4M447 236v4M447 250v2M447 278v6M449 30v2M449 54v4M449 60v6M449 74v2M449 84v2M449 124v4M449 190v4M449 268v2M449 282v4M449 294v4M451 26v6M451 38v4M451 58v6M451 70v2M451 80v2M451 92v4M451 100v8M451 112v4M451 118v2M451 136v2M451 172v10M451 210v2M451 218v4M451 226v2M451 270v10M451 288v8M455 0v6M455 24v4M455 112v4M455 184v4M455 190v4M455 200v6M455 216v8M455 228v8M455 244v2M455 252v4M455 262v20M457 2v4M457 188v2M459 0v4M459 16v2M459 22v2M459 112v4M459 154v2M459 236v4M459 326v2M461 22v6M461 48v4M461 82v2M461 178v4M461 204v4M461 256v4M461 326v2M463 28v2M463 34v2M465 16v2M465 30v2M465 34v6M465 44v2M465 58v8M465 116v6M465 124v10M465 158v6M465 170v4M465 202v4M465 208v2M465 214v2M465 218v2M465 232v8M465 246v4M465 286v8M467 32v2M467 40v2M467 46v4M467 54v2M467 66v2M467 72v2M467 80v2M467 88v2M467 114v2M467 126v4M467 134v12M467 148v2M467 152v6M467 174v4M467 180v2M467 186v2M467 202v8M467 214v2M467 218v8M467 238v2M467 242v2M467 268v4M467 280v2M467 286v4M469 92v6M469 104v2M469 110v2M469 114v4M469 122v6M469 130v10M469 146v14M469 166v8M469 178v2M469 182v6M469 194v18M469 214v4M469 226v12M469 242v8M469 252v4M469 266v8M469 278v2M469 288v4M471 2v2M473 48v2M473 68v4M473 78v4M473 118v12M473 162v4M473 172v4M473 184v6M473 194v2M473 204v6M473 230v4M473 248v2M473 254v6M473 262v2M473 284v8M473 294v2M475 62v2M475 94v8M475 110v2M475 124v12M475 214v2M475 222v4M475 238v6M475 276v2M475 286v2M475 290v2M477 2v2M477 206v6M477 274v4M481 36v6M481 68v4M481 96v4M481 130v2M481 154v4M483 56v2M483 62v2M483 68v2M483 72v10M483 88v2M483 92v2M483 136v14M483 186v4M483 194v2M483 198v2M483 214v2M483 224v2M483 236v14M483 258v4M483 264v10M483 278v4M483 288v10"/><path stroke="#0010ff" d="M1 92v4M1 148v2M3 56v2M3 124v2M5 62v2M7 82v2M7 98v2M7 110v2M7 114v2M7 142v2M7 154v2M7 162v2M7 166v2M7 176v2M9 44v2M9 116v2M9 136v2M13 78v4M13 86v2M13 96v2M15 94v2M15 98v2M15 110v4M15 124v2M15 160v2M15 194v6M15 224v10M19 186v2M21 90v2M21 116v4M21 144v2M21 156v2M23 96v2M23 144v2M23 200v2M23 248v2M25 86v2M25 102v2M27 44v2M27 60v2M27 282v2M29 62v2M31 124v2M31 132v2M31 192v2M31 218v4M31 278v2M33 142v4M33 170v2M33 208v2M35 90v2M37 38v2M37 78v2M37 88v2M37 106v2M37 146v4M37 252v2M39 62v2M39 70v2M39 130v2M39 148v2M39 158v2M41 86v2M41 122v2M41 132v2M41 158v2M43 44v2M43 64v2M43 124v2M45 94v2M47 92v2M47 184v2M47 224v2M47 228v2M49 90v2M49 164v2M49 280v2M51 48v2M51 144v2M51 208v2M51 234v2M51 270v4M53 32v2M53 50v2M53 78v2M53 84v2M53 122v2M55 4v2M55 82v2M57 32v2M57 72v2M61 90v2M61 118v2M61 130v2M61 142v2M61 188v2M61 266v2M63 72v2M63 106v2M63 122v2M63 136v2M63 146v2M63 152v2M63 172v2M63 180v2M63 224v2M65 12v2M65 66v4M65 74v2M65 86v4M65 96v4M65 118v2M65 160v2M65 204v2M65 208v2M67 100v2M67 106v2M67 120v2M69 96v4M69 144v2M69 184v4M69 190v2M69 212v4M69 238v2M69 264v2M69 272v2M71 66v2M73 86v2M75 144v2M75 156v2M75 214v4M75 286v2M77 60v2M77 80v4M77 88v2M77 92v2M79 86v4M79 92v2M81 88v2M81 96v2M81 120v4M81 128v4M81 200v2M83 74v2M83 78v2M83 96v2M83 104v2M83 126v2M101 84v2M101 138v2M101 150v2M101 154v2M101 160v2M101 166v4M101 174v4M101 214v2M101 224v2M103 70v2M103 96v4M103 108v2M103 112v2M103 120v4M103 150v2M103 154v2M103 158v2M103 166v2M103 246v2M105 92v2M105 106v2M105 158v2M105 180v2M107 104v2M107 184v2M107 288v4M109 30v2M111 102v2M111 112v4M111 134v2M111 144v2M111 238v4M111 244v2M113 36v2M113 84v2M113 98v2M113 102v2M113 160v2M115 102v6M115 144v4M115 150v2M115 162v4M115 176v2M115 228v2M115 242v2M115 258v2M115 294v4M117 112v2M117 122v2M117 126v4M117 138v6M117 148v2M117 152v2M117 170v6M117 178v2M117 190v2M117 216v2M117 294v2M119 82v2M119 142v2M119 148v2M119 156v2M119 194v2M119 216v4M121 142v2M123 72v2M123 106v2M125 92v2M127 46v2M127 88v2M127 108v4M127 148v2M127 160v2M127 192v2M127 198v2M127 266v2M129 114v2M129 134v2M129 188v2M131 90v2M131 122v2M133 100v4M133 106v4M133 130v4M133 166v4M133 198v4M135 150v2M135 166v4M135 194v2M135 212v4M137 100v2M137 118v2M139 96v2M139 138v4M141 92v2M141 108v2M141 118v2M141 182v2M143 80v6M143 140v2M145 72v2M145 174v2M145 178v2M147 156v4M147 194v2M147 198v2M149 60v2M149 142v4M149 160v2M149 164v2M149 180v2M149 196v4M149 204v4M151 178v2M151 186v2M151 198v2M153 140v2M153 166v2M155 160v2M155 164v2M155 182v4M157 152v2M157 176v2M157 180v2M157 192v2M157 196v2M159 214v2M161 162v2M161 172v2M161 182v4M161 214v2M161 296v4M163 172v2M163 196v4M163 290v6M165 100v2M165 106v2M165 192v2M165 220v2M165 322v2M167 106v2M167 124v2M167 130v2M167 148v2M167 270v2M169 18v2M169 100v4M171 88v2M171 94v2M173 48v2M173 104v2M173 110v2M173 124v2M173 170v2M173 266v2M197 8v2M199 14v2M199 18v2M199 152v2M199 186v2M199 200v2M201 24v2M201 128v2M201 192v2M201 290v2M205 14v2M205 18v2M205 158v2M207 6v2M207 158v2M207 164v2M209 32v2M209 74v2M209 92v2M209 146v2M209 150v2M209 164v2M209 170v2M209 174v2M209 224v4M209 264v4M211 66v2M211 78v2M211 104v2M211 120v2M211 144v2M211 160v2M211 170v4M213 68v4M213 76v2M213 132v2M213 142v2M213 160v2M213 194v2M213 200v2M213 204v2M213 212v2M213 216v2M213 232v4M213 248v4M213 260v4M215 102v2M215 134v4M215 140v6M215 176v2M215 184v4M215 192v4M215 232v6M215 268v2M215 290v4M217 88v2M217 182v2M217 236v2M217 250v6M221 26v2M223 82v2M223 96v2M223 104v2M223 124v2M223 140v2M223 162v2M223 180v2M223 212v8M223 236v12M223 258v4M225 114v2M225 138v2M225 160v2M225 164v2M225 176v2M225 180v2M225 196v2M225 228v4M227 92v4M227 126v4M227 154v2M227 158v4M227 170v2M227 186v2M227 218v2M227 260v2M227 268v2M229 84v2M229 104v2M229 118v2M229 126v2M229 138v2M229 170v2M229 178v4M229 186v2M229 260v6M229 292v4M231 96v2M231 104v2M231 122v2M231 138v2M231 196v2M233 82v2M233 104v4M233 118v2M233 126v2M233 158v2M233 174v2M235 76v2M235 86v2M235 98v2M235 112v2M235 138v2M237 74v2M237 82v2M237 108v2M237 114v2M237 148v2M237 152v2M237 156v6M237 166v2M237 170v4M237 182v2M237 188v2M237 200v2M237 212v4M237 224v4M237 248v8M237 262v6M237 270v4M239 60v4M239 96v4M239 106v2M239 116v2M239 134v2M239 162v2M239 170v4M239 178v2M239 202v2M239 218v4M239 224v2M239 228v2M239 236v4M239 252v2M239 278v8M241 72v2M241 112v2M241 120v2M241 126v2M241 146v2M241 166v4M241 180v4M241 220v4M241 234v4M241 244v6M243 32v2M243 96v2M243 176v2M243 284v2M243 292v2M245 24v2M245 76v2M245 82v2M245 112v6M245 154v2M245 164v2M245 176v2M245 194v2M245 198v2M245 202v2M245 236v2M245 258v2M247 12v2M247 98v2M247 104v2M247 154v2M249 2v2M253 8v2M255 172v2M263 60v2M267 42v2M267 70v4M267 106v2M267 134v4M267 170v4M267 210v2M267 218v2M267 240v4M267 262v2M267 266v4M267 302v2M269 166v4M269 176v4M269 186v16M269 216v8M269 238v18M269 274v2M285 20v2M285 30v2M285 34v2M285 130v2M287 28v2M287 100v2M287 146v2M289 18v2M289 54v2M289 72v2M289 102v2M291 8v2M291 72v2M291 138v2M293 28v2M293 42v6M293 50v8M293 62v4M293 70v2M293 88v6M293 110v2M293 116v2M293 144v2M293 148v4M293 178v4M293 210v4M293 240v4M293 252v2M293 256v2M295 12v2M295 28v2M295 54v2M297 6v4M297 34v6M297 50v8M297 66v4M297 72v4M297 82v4M297 106v4M297 120v6M297 214v2M297 218v2M297 266v2M299 10v4M299 16v2M299 44v6M299 56v2M299 100v2M301 4v2M303 0v6M303 10v2M303 20v2M303 62v2M305 8v2M305 64v2M305 72v2M305 104v2M305 238v2M307 10v2M307 14v2M307 52v2M309 0v2M309 58v2M309 62v2M309 74v2M309 78v2M309 124v2M309 302v2M311 14v2M311 42v2M311 56v2M311 86v4M311 220v2M311 258v2M313 24v2M317 48v2M317 76v10M317 92v2M317 96v2M317 100v2M317 170v4M317 188v4M317 198v2M317 202v2M317 212v4M317 258v16M317 288v2M319 0v2M319 4v2M319 8v2M319 22v2M319 82v2M321 8v2M321 18v2M321 50v2M321 108v2M323 44v2M323 48v2M323 60v2M323 74v6M323 162v6M323 214v2M325 36v2M325 70v4M325 82v4M325 130v4M325 138v2M325 192v2M325 196v4M325 206v2M325 268v2M325 278v2M325 326v2M327 20v4M329 0v4M331 38v2M331 88v2M331 130v2M333 2v2M333 74v2M333 182v2M335 10v2M335 20v2M335 32v4M335 40v2M335 66v4M335 76v2M335 108v2M335 156v4M335 194v4M335 270v2M337 18v2M337 48v2M337 104v2M339 8v2M339 14v2M339 30v4M339 44v2M339 84v6M339 114v4M339 180v2M339 190v2M341 4v6M341 34v2M341 42v2M341 76v2M341 110v2M343 0v2M343 24v6M343 32v2M343 56v4M343 94v2M345 6v4M345 28v2M345 40v2M345 58v6M345 66v2M345 86v2M347 4v2M347 10v2M347 30v2M347 34v2M347 62v2M349 8v2M349 14v2M349 34v2M349 50v2M349 58v4M349 76v2M349 82v2M349 88v2M349 92v2M349 104v2M349 108v2M349 136v2M349 158v2M349 180v2M351 34v4M351 52v2M351 92v2M351 96v2M353 44v2M353 50v8M353 62v2M353 74v4M353 100v2M353 134v6M353 198v2M353 228v4M353 238v2M353 254v4M353 272v2M353 276v2M353 288v2M353 300v4M355 18v2M357 0v2M357 6v4M357 16v6M357 32v2M357 224v4M357 280v2M359 2v14M359 22v6M359 34v2M359 40v2M359 102v4M359 116v2M359 126v2M359 140v4M359 160v2M359 172v2M359 184v4M359 210v2M359 220v8M359 230v4M359 242v16M359 264v4M359 274v4M359 282v2M359 294v4M361 22v2M363 30v2M365 24v6M365 44v6M365 58v4M365 164v2M365 180v2M365 202v2M365 206v2M367 0v4M367 24v2M367 90v2M369 2v2M369 26v2M369 32v8M369 42v2M369 68v2M371 0v4M371 14v4M371 32v2M371 36v8M371 148v2M373 36v4M373 48v8M373 58v6M373 66v2M373 72v4M373 80v2M373 84v2M373 106v2M373 110v2M373 132v6M373 180v4M373 202v2M373 220v4M373 228v4M373 274v4M375 16v8M375 50v2M375 56v2M375 64v2M375 70v4M375 98v4M375 142v4M375 150v4M375 200v2M375 210v4M375 256v4M375 262v4M377 24v6M377 38v2M377 58v2M377 102v2M377 186v2M389 64v2M389 72v2M389 102v2M389 108v2M389 138v2M389 166v2M389 254v2M389 258v2M389 276v2M391 50v4M391 56v10M391 74v2M391 104v4M391 170v2M391 222v4M391 264v2M393 50v12M393 66v6M393 80v6M393 98v2M393 108v4M393 120v2M393 180v2M393 234v4M395 50v12M395 70v4M395 82v2M395 198v4M397 254v2M397 262v4M397 278v2M399 44v2M399 54v10M399 74v2M399 78v6M399 94v4M399 106v2M399 110v6M399 130v4M399 136v2M399 140v2M399 148v4M399 194v4M399 202v6M399 230v2M401 46v2M401 54v2M401 66v2M401 82v2M401 132v4M401 296v2M403 50v8M403 68v12M403 84v2M403 132v2M403 230v4M403 248v2M403 254v4M403 270v4M405 60v2M405 76v2M405 104v2M405 252v4M407 48v2M407 52v4M407 72v2M407 82v4M407 122v2M407 126v10M407 176v2M407 250v4M407 274v2M407 278v2M409 68v2M409 80v2M409 86v6M409 98v4M409 112v2M409 124v2M409 136v6M409 146v4M409 152v4M409 168v6M409 178v4M409 192v2M409 198v4M409 204v6M409 230v6M409 262v2M409 280v4M411 54v6M411 64v6M411 80v2M411 84v2M411 88v2M411 114v2M411 126v2M411 150v4M411 158v4M411 166v8M411 194v4M411 248v2M411 252v2M411 280v2M411 284v10M415 4v2M415 24v2M415 34v2M415 94v2M415 224v2M417 18v2M417 26v4M417 36v4M417 42v12M417 60v4M417 80v2M417 100v2M417 198v2M417 238v4M419 4v4M419 66v2M421 12v2M421 30v4M421 88v2M421 248v2M421 252v4M423 8v6M423 26v2M423 40v2M423 44v2M423 94v2M423 124v2M425 10v2M425 78v2M427 100v2M429 26v2M429 36v2M431 92v2M431 106v4M435 8v2M435 60v2M435 132v4M437 0v2M437 36v2M437 44v4M439 22v2M439 94v2M439 326v2M443 6v2M443 10v2M445 26v2M445 36v2M445 40v2M445 54v2M447 14v6M447 40v12M447 58v4M449 2v6M449 14v16M451 8v6M451 24v2M451 50v2M451 54v4M451 82v2M453 68v2M455 188v2M455 224v4M455 236v8M455 246v6M455 256v6M455 288v2M455 298v2M459 14v2M459 18v4M461 36v2M463 14v2M465 6v8M465 18v6M465 28v2M465 40v4M465 48v2M465 102v2M465 206v2M465 220v6M467 8v2M467 16v4M467 26v2M467 30v2M467 34v2M467 38v2M467 42v4M467 56v10M467 82v6M467 130v4M467 150v2M467 182v4M467 216v2M467 240v2M467 282v4M469 48v6M469 86v6M469 98v2M469 112v2M469 118v4M469 160v2M469 164v2M469 180v2M469 188v6M469 212v2M469 218v2M469 224v2M469 256v2M469 264v2M469 280v2M469 286v2M469 292v2M471 84v2M473 14v2M473 46v2M473 50v2M473 74v2M473 82v4M473 96v2M473 100v4M473 260v2M475 32v2M475 40v2M475 56v2M475 60v2M475 74v4M475 88v2M475 288v2M477 4v4M477 12v2M477 16v4M477 28v2M477 46v2M477 112v2M477 202v4M479 38v2M481 18v2M481 28v2M481 44v2M483 8v2M483 46v2M483 52v4M483 70v2M483 82v4M483 102v12M483 196v2"/><path stroke="#0020ff" d="M1 48v2M1 142v2M1 176v2M3 84v2M3 88v2M5 130v2M7 62v2M7 120v4M7 144v2M7 182v2M7 192v2M9 38v2M9 58v4M11 46v2M11 76v2M11 88v2M13 92v4M13 132v2M15 92v2M15 96v2M19 88v2M19 190v2M21 88v2M21 114v2M21 128v6M21 140v2M21 176v2M23 90v2M25 24v2M25 68v2M25 78v2M25 128v4M27 50v2M27 62v2M27 76v2M27 206v2M29 56v2M29 202v2M31 92v2M31 122v2M31 126v2M31 174v2M33 0v2M33 62v2M33 76v2M33 110v2M33 128v2M35 0v2M35 34v2M35 52v2M35 142v2M37 34v4M37 40v2M37 50v2M37 72v2M37 250v2M39 72v2M39 78v2M39 84v2M39 92v2M39 98v2M39 104v2M39 112v4M39 146v2M39 150v4M39 156v2M39 172v2M39 178v2M41 70v2M41 92v2M41 98v2M41 102v2M41 124v2M41 128v2M41 230v2M43 14v2M43 28v2M43 80v2M45 66v2M45 70v4M45 128v2M45 232v2M47 226v2M49 82v2M49 120v2M49 178v4M51 46v2M51 90v2M53 34v2M53 42v2M53 52v4M53 138v4M55 6v2M57 36v2M61 68v2M61 88v2M61 112v2M61 122v2M61 140v2M61 176v2M61 180v2M61 184v4M63 92v2M63 104v2M63 112v2M63 118v4M63 148v2M63 166v2M63 182v2M63 206v2M63 226v2M63 268v4M65 210v2M67 116v2M67 122v4M67 262v2M69 188v2M71 70v2M73 90v2M75 82v2M75 88v2M75 100v2M75 162v2M77 90v2M79 8v2M79 94v2M81 86v2M81 90v2M81 94v2M83 88v2M101 80v4M101 134v2M101 146v2M101 158v2M101 180v2M101 216v2M103 100v2M103 110v2M103 114v2M103 146v4M103 164v2M103 168v2M103 184v2M103 200v4M105 88v4M105 100v6M105 126v2M105 130v2M107 80v2M109 70v2M109 90v2M109 98v2M109 240v2M111 92v4M111 100v2M111 106v2M113 76v2M113 86v2M113 90v4M113 104v2M113 134v2M115 96v4M115 148v2M115 174v2M117 120v2M117 202v2M117 214v2M117 218v2M117 264v2M117 270v2M119 2v2M119 96v2M119 160v2M119 164v2M119 184v2M119 198v2M119 220v2M121 90v2M123 94v2M125 88v2M125 130v2M125 156v2M127 114v2M127 118v2M127 152v2M127 156v2M127 222v2M129 60v2M129 132v2M129 138v2M129 168v2M131 88v2M133 86v2M133 192v4M135 104v6M139 154v2M143 8v2M143 56v2M143 62v2M143 86v2M143 142v2M143 146v2M145 148v2M145 176v2M147 132v2M147 160v2M147 188v2M149 158v2M149 162v2M149 166v2M149 174v2M149 186v2M149 190v6M151 182v2M151 200v4M153 176v2M157 136v4M157 178v2M159 188v2M159 196v4M161 42v2M161 158v2M161 166v2M161 180v2M161 192v4M161 200v4M163 146v2M163 162v2M163 168v2M163 296v4M165 92v2M165 102v4M165 320v2M167 86v8M167 128v2M167 322v2M169 166v2M169 322v2M171 36v2M171 158v2M173 130v2M197 24v2M199 60v2M199 132v2M199 188v2M199 220v2M201 100v2M201 164v2M201 198v2M201 214v2M203 16v2M203 26v2M203 34v2M203 276v4M205 136v2M205 170v2M207 8v4M207 16v2M207 26v2M207 102v2M207 162v2M207 168v2M209 28v2M209 96v2M209 100v2M209 130v4M209 158v2M209 222v2M211 106v2M211 124v2M211 130v2M211 190v2M211 234v2M211 246v2M213 74v2M213 86v2M213 96v4M213 134v2M213 188v2M213 202v2M215 4v2M215 188v4M215 198v2M215 270v4M221 12v2M223 76v2M223 144v2M223 148v2M223 152v2M223 156v4M223 182v2M225 74v2M225 94v2M225 104v2M225 112v2M225 124v2M225 132v2M225 140v2M225 150v2M225 256v2M227 132v2M227 146v2M227 162v2M227 190v2M227 194v2M227 222v2M227 270v2M229 34v2M229 142v2M229 160v2M231 82v4M231 110v2M231 140v2M231 170v4M231 176v2M233 78v2M233 124v2M233 140v2M235 72v4M235 78v2M235 88v2M235 102v2M235 120v2M235 144v2M235 176v2M235 180v2M235 184v2M235 214v2M237 76v2M237 80v2M237 84v2M237 90v2M237 110v2M237 124v2M237 136v6M237 146v2M237 184v4M239 24v2M239 82v2M239 124v2M239 128v2M239 142v2M239 154v2M239 158v4M239 164v2M241 84v2M241 124v2M241 142v2M241 150v2M243 76v2M243 82v2M245 80v2M245 86v2M245 106v2M245 174v2M245 196v2M245 204v4M245 254v2M247 86v2M247 120v2M247 150v4M247 168v4M249 4v2M251 36v2M257 8v2M261 30v2M267 38v2M267 60v2M267 78v2M267 102v2M267 132v2M267 208v2M267 216v2M267 300v2M269 202v2M269 206v10M269 224v2M269 228v10M269 256v18M269 276v24M279 6v2M285 10v2M285 26v2M285 72v2M287 32v2M287 36v2M287 40v2M287 130v2M289 12v2M289 26v2M289 38v2M289 48v2M289 52v2M289 56v2M289 78v2M289 104v2M291 6v2M291 16v4M291 86v2M293 10v2M293 22v2M293 34v2M293 40v2M293 48v2M293 58v4M293 94v2M293 114v2M293 254v2M295 30v2M295 108v2M297 0v2M297 4v2M297 20v2M297 40v10M297 76v6M297 216v2M299 0v2M299 8v2M299 68v2M299 326v2M301 32v2M305 14v2M305 22v2M305 66v2M305 304v2M307 4v2M309 10v2M309 14v2M309 66v4M309 122v2M311 26v2M313 16v2M315 88v2M317 0v2M317 8v4M317 18v2M317 22v2M317 28v6M317 42v6M317 86v2M317 90v2M317 98v2M319 10v2M319 20v2M319 30v2M323 2v4M323 18v2M323 34v2M323 54v2M323 116v2M323 186v2M325 12v2M325 20v4M325 40v2M325 44v2M325 50v6M325 58v2M325 106v2M325 140v4M325 194v2M327 40v2M329 60v2M331 18v2M331 58v2M333 26v4M335 0v2M335 18v2M335 36v4M337 26v2M337 38v2M337 52v2M337 72v2M337 92v2M339 2v2M339 48v2M339 60v2M339 102v2M339 106v2M339 120v2M339 124v4M341 66v2M341 82v2M341 106v2M341 152v2M343 18v2M343 68v2M343 90v2M343 108v2M343 152v2M345 16v2M345 22v2M345 26v2M345 52v2M349 98v2M349 128v2M349 140v2M349 166v2M349 172v2M351 2v2M351 10v2M351 30v2M351 54v2M351 58v2M351 72v2M351 90v2M353 12v2M353 24v2M353 40v2M353 46v2M353 70v2M353 184v2M353 274v2M355 4v2M355 16v2M355 34v2M357 2v4M357 10v6M357 44v2M359 0v2M359 118v2M359 122v4M359 128v2M359 134v6M359 144v2M359 148v4M359 158v2M359 162v6M359 174v4M359 182v2M359 188v2M359 192v18M359 212v2M359 218v2M359 234v2M359 240v2M359 258v6M359 268v2M359 272v2M359 284v6M359 292v2M359 298v4M363 2v2M363 44v2M363 78v2M365 204v2M367 6v2M367 12v2M367 44v2M367 60v2M369 72v2M371 8v2M371 96v2M371 300v2M373 18v2M373 30v6M373 46v2M373 68v4M373 76v4M373 108v2M375 2v2M375 10v6M375 32v2M375 52v4M377 0v2M379 52v2M379 68v2M389 88v6M389 252v2M389 260v2M389 266v2M391 54v2M391 102v2M391 124v2M391 144v2M391 254v10M391 266v2M393 40v2M393 86v4M393 250v6M393 260v6M395 30v2M395 80v2M395 250v2M397 42v2M397 72v2M397 280v6M397 288v4M397 294v4M399 76v2M399 138v2M401 34v2M401 62v2M401 70v2M401 80v2M401 104v2M401 292v2M403 58v4M403 66v2M403 82v2M403 262v2M403 268v2M403 274v2M405 266v2M405 286v2M407 60v4M407 254v2M407 272v2M409 50v8M409 66v2M409 70v4M409 78v2M409 92v2M409 96v2M409 102v2M409 114v4M409 156v12M409 194v4M409 250v4M409 268v2M411 50v4M411 60v4M411 70v10M411 86v2M411 108v2M411 250v2M411 264v4M411 278v2M413 32v2M415 28v4M415 74v2M415 96v2M417 4v2M417 20v2M417 30v6M417 164v2M419 10v4M419 28v2M419 60v2M419 80v2M421 42v2M421 144v2M421 208v2M423 4v4M423 14v4M423 20v2M423 42v2M425 34v2M425 74v2M427 4v2M427 72v2M429 48v2M429 52v2M429 66v2M435 10v2M437 2v2M437 10v2M437 38v2M443 2v2M443 14v2M445 2v2M445 22v2M445 42v2M445 52v2M445 68v2M449 12v2M449 38v2M449 44v4M451 0v6M451 22v2M453 62v2M455 104v2M455 290v8M457 22v2M457 50v2M459 30v2M461 4v2M461 66v2M463 24v2M463 44v2M465 78v2M467 0v8M467 10v6M467 28v2M467 36v2M467 50v2M469 6v2M469 22v8M469 34v2M469 38v2M469 62v24M469 100v4M469 162v2M469 220v4M469 258v2M469 262v2M469 282v4M473 8v6M473 18v2M473 40v2M475 18v2M475 36v2M475 46v2M477 30v2M479 26v2M479 84v2M479 298v2M481 4v2M481 72v2M483 4v2M483 14v2M483 32v2M483 64v2M483 86v2M483 100v2"/><path stroke="#0030ff" d="M1 56v2M1 76v4M1 104v2M1 118v2M3 86v2M3 136v2M5 114v2M7 0v2M7 60v2M7 174v2M7 186v4M9 114v2M9 118v2M11 86v2M11 298v2M17 42v2M17 298v2M19 90v2M21 104v2M21 112v2M21 154v2M23 80v2M23 92v4M23 120v2M23 202v2M25 2v2M25 50v2M25 88v2M27 64v2M29 70v2M29 110v2M31 86v4M31 118v2M31 130v2M33 2v2M33 42v2M33 88v2M33 200v2M33 210v2M35 22v2M35 50v2M35 66v2M35 86v2M37 76v2M37 112v2M39 124v2M39 132v2M39 154v2M39 166v2M41 50v2M41 84v2M41 228v2M41 232v2M43 74v2M43 86v2M45 242v2M45 298v2M47 84v2M47 94v4M47 116v2M49 84v2M49 88v2M53 48v2M53 56v2M53 64v2M53 72v2M53 80v2M53 128v2M55 44v2M57 66v2M59 72v2M61 48v2M61 86v2M61 148v2M63 70v2M63 108v2M63 126v2M63 134v2M63 140v2M63 208v2M65 50v2M65 80v2M65 84v2M65 90v2M65 108v2M65 158v2M65 182v2M65 206v2M67 98v2M67 104v2M67 142v2M69 78v2M73 88v2M73 94v2M75 120v2M75 218v2M77 16v2M77 162v2M79 84v2M81 60v2M81 92v2M81 202v2M83 38v2M83 82v2M83 92v2M83 128v2M101 118v2M101 128v2M101 222v2M101 284v2M103 64v2M103 128v2M103 152v2M103 160v4M103 182v2M103 188v2M105 94v2M105 98v2M105 122v2M105 148v2M105 192v2M107 102v2M107 186v2M109 94v2M111 72v2M111 82v2M111 104v2M113 88v2M113 136v2M115 100v2M117 220v2M117 272v2M119 78v2M119 100v2M119 114v2M121 124v2M121 204v2M125 132v2M127 104v2M127 116v2M127 138v4M127 164v2M127 180v2M127 194v2M129 170v2M129 194v2M131 98v4M133 98v2M137 68v2M139 156v2M139 220v2M145 50v2M145 164v2M147 134v2M147 162v2M147 184v4M147 190v4M149 146v2M149 168v2M149 172v2M149 188v2M149 200v2M151 170v2M151 184v2M153 162v2M153 168v8M155 158v2M155 168v2M155 198v2M157 160v2M157 170v2M159 152v2M159 194v2M159 200v4M161 170v2M161 186v2M161 190v2M163 104v2M163 164v2M163 176v2M165 96v2M167 132v2M169 92v2M169 320v2M171 322v2M173 88v2M173 96v2M173 102v2M173 166v2M173 310v2M173 320v2M197 22v2M199 154v2M201 126v2M201 200v2M205 116v2M205 160v2M207 28v2M207 74v2M207 80v2M209 94v2M209 112v2M209 122v2M209 166v2M211 10v2M211 34v2M211 80v2M211 102v2M211 110v2M211 122v2M211 132v2M211 138v4M211 146v2M211 168v2M213 130v2M213 140v2M215 196v2M215 230v2M217 58v2M223 80v2M223 102v2M223 142v2M223 198v2M225 78v2M225 84v4M225 144v2M225 152v2M225 170v4M225 232v2M227 2v2M227 86v4M227 294v2M229 92v2M229 124v2M229 182v4M231 0v2M231 72v2M231 100v2M231 164v2M233 102v2M233 110v2M237 78v2M237 86v2M237 132v2M237 150v2M237 180v2M239 76v2M239 94v2M239 120v2M239 126v2M239 132v2M239 198v2M239 222v2M241 86v4M241 138v2M241 148v2M241 192v2M245 32v2M247 126v2M247 132v2M247 166v2M249 6v2M249 34v2M253 4v2M261 28v2M263 2v2M267 20v2M267 28v2M267 98v4M267 226v2M267 238v2M267 250v4M267 280v2M269 204v2M269 226v2M269 300v2M277 22v4M279 22v2M279 30v2M285 6v2M285 90v2M287 12v2M287 18v8M287 120v2M289 40v2M291 74v2M291 80v2M295 34v4M297 2v2M297 10v2M297 18v2M299 64v2M301 30v2M303 18v2M303 100v2M305 18v2M307 6v2M309 82v4M311 0v2M315 92v2M317 4v4M317 12v2M317 34v4M317 40v2M317 58v4M317 88v2M319 18v2M321 22v2M321 72v2M323 0v2M323 58v2M325 0v2M325 42v2M325 66v2M325 78v2M327 24v2M333 304v2M337 54v2M337 74v4M337 86v2M339 4v2M339 22v2M339 72v2M339 82v2M339 90v2M339 94v2M339 118v2M339 122v2M339 238v2M341 14v2M341 32v2M341 40v2M343 140v2M345 302v2M347 36v2M349 48v2M349 114v2M349 142v2M349 164v2M351 12v2M351 22v2M351 38v2M351 114v2M351 190v2M351 288v2M353 10v2M353 22v2M353 48v2M353 80v2M355 12v2M355 22v2M357 82v2M359 120v2M359 130v4M359 146v2M359 152v6M359 178v4M359 190v2M359 214v4M359 236v4M359 270v2M359 290v2M361 26v2M363 0v2M363 24v2M363 188v2M365 6v4M365 68v2M367 8v2M367 18v2M367 36v2M367 54v2M367 142v2M373 6v10M373 42v4M373 300v2M375 6v2M375 42v2M377 10v2M377 48v2M377 84v2M377 104v2M389 24v2M389 80v2M389 250v2M389 262v4M391 108v2M393 46v4M393 118v2M393 256v4M393 280v2M395 28v2M395 48v2M395 252v6M395 260v2M395 268v2M397 286v2M397 292v2M397 298v2M399 38v4M399 250v2M399 262v2M401 38v2M401 58v4M401 68v2M401 294v2M403 104v2M403 252v2M403 264v4M403 276v6M405 256v2M405 268v2M405 276v2M405 284v2M405 288v2M407 40v2M407 66v2M407 256v4M407 270v2M407 290v2M409 58v8M409 82v2M409 94v2M409 254v4M409 264v4M409 270v2M409 278v2M409 284v4M411 260v4M413 34v2M413 122v2M415 6v2M415 32v2M415 228v2M417 2v2M417 102v2M417 162v2M419 70v2M421 16v2M421 142v2M421 212v2M423 2v2M423 24v2M425 60v2M427 36v2M427 176v2M429 2v4M429 12v2M429 68v2M441 18v2M441 98v2M443 16v2M443 22v2M445 0v2M445 30v2M447 2v4M447 36v2M451 42v2M453 26v2M455 38v2M457 52v2M459 28v2M459 298v2M461 18v2M461 34v2M461 94v2M463 56v2M465 166v4M467 296v2M469 4v2M469 8v6M469 20v2M469 36v2M469 40v2M469 44v2M469 54v2M469 60v2M469 260v2M473 26v2M473 76v2M475 4v2M475 28v2M477 14v2M477 70v2M477 296v2M481 0v2M481 34v2M481 48v2M481 78v2M483 16v2M483 20v2"/><path stroke="#0040ff" d="M3 18v2M3 82v2M3 140v2M5 86v2M5 102v2M5 120v2M5 156v2M7 78v2M7 146v2M7 152v2M7 156v2M9 4v2M11 54v2M13 136v2M15 86v2M17 84v4M19 16v2M19 46v6M19 82v2M21 96v2M21 100v2M21 134v2M21 152v2M21 298v2M23 86v2M23 124v4M23 146v2M23 190v2M27 66v2M27 204v2M29 24v4M29 40v2M31 90v2M31 110v2M31 120v2M31 142v2M31 176v2M33 78v2M33 156v6M35 24v2M35 80v2M37 74v2M37 96v2M37 108v2M39 8v2M39 32v2M39 40v2M39 144v2M41 296v2M43 16v4M43 122v2M47 80v2M49 54v2M49 86v2M49 162v2M51 58v2M51 82v4M51 92v2M53 2v2M53 126v2M55 26v2M57 34v2M57 50v2M57 68v2M59 4v2M59 46v2M59 56v2M61 76v2M61 284v2M63 110v2M63 164v2M63 170v2M63 174v4M63 204v2M63 210v2M65 14v2M67 42v2M67 178v2M69 56v2M69 86v2M69 92v2M73 96v2M73 118v2M75 98v2M75 118v2M75 142v2M75 160v2M75 220v2M75 234v4M77 26v2M79 38v2M79 70v2M79 80v4M81 58v2M83 40v2M83 100v2M83 138v2M83 158v2M101 124v2M101 144v2M101 164v2M103 126v2M103 132v2M103 140v4M103 244v2M105 156v2M107 78v2M107 94v2M111 0v2M111 90v2M111 96v4M113 74v2M113 96v2M113 158v2M117 76v2M117 106v2M117 156v2M117 204v2M117 222v2M119 200v2M119 296v2M121 202v2M123 0v4M123 88v2M123 294v2M125 80v2M125 298v2M127 38v2M127 128v2M127 150v2M127 162v2M127 182v2M127 220v2M129 78v2M129 86v2M129 102v2M129 110v2M129 128v4M129 190v2M131 80v2M133 88v2M133 304v2M135 94v2M135 102v2M137 64v2M139 64v2M139 128v2M141 90v2M143 6v2M145 162v2M147 154v2M147 170v2M149 140v2M149 202v2M151 320v2M153 142v2M153 160v2M153 322v2M155 152v4M155 166v2M155 176v2M155 200v2M157 128v2M157 134v2M157 142v2M157 198v2M157 316v2M159 142v2M159 148v2M159 186v2M161 156v2M161 160v2M161 188v2M161 196v2M163 156v2M163 160v2M163 184v2M163 188v2M163 194v2M165 94v2M165 222v2M167 48v2M169 86v2M171 86v2M171 320v2M173 168v2M173 322v2M199 198v2M199 292v2M201 294v2M203 28v2M205 0v2M205 140v2M205 168v2M207 76v2M207 112v2M207 186v2M209 30v2M209 36v2M209 116v2M211 26v2M211 72v2M211 118v2M211 126v2M211 150v2M211 162v2M211 166v2M211 186v2M211 208v2M211 230v2M211 244v2M213 84v2M213 88v2M213 110v2M213 162v2M213 166v2M215 200v2M217 10v2M223 108v2M223 304v2M225 72v2M225 80v4M225 92v2M225 110v2M225 120v2M225 130v2M225 174v2M225 178v2M225 234v2M227 152v2M227 224v6M229 78v2M229 82v2M229 114v2M229 128v2M231 32v2M231 78v2M231 108v2M231 160v4M233 74v4M233 92v2M233 122v2M233 176v2M235 90v2M235 118v2M235 126v4M235 140v2M235 190v2M235 272v2M237 88v2M237 112v2M237 142v4M237 164v2M237 174v2M237 178v2M239 26v2M239 92v2M239 122v2M239 168v2M239 226v2M241 56v2M241 80v2M241 92v2M241 96v2M241 100v2M241 110v2M241 132v2M241 136v2M241 304v2M243 30v2M243 78v2M243 130v2M245 148v4M247 106v2M247 304v2M249 32v2M257 6v2M267 58v2M267 66v2M267 166v2M267 188v2M267 192v2M267 206v2M267 212v2M267 248v2M267 278v2M267 282v2M285 32v2M285 70v2M285 84v2M287 92v2M287 304v2M289 2v2M289 28v2M289 44v2M289 70v2M291 38v2M291 306v2M293 24v4M293 30v2M293 108v2M293 112v2M295 38v2M295 124v2M297 28v2M299 6v2M301 28v2M303 82v2M305 10v2M305 60v2M307 2v2M307 226v2M309 34v2M309 70v2M311 140v2M315 20v2M315 50v2M315 306v2M317 2v2M317 26v2M317 106v2M319 68v2M321 10v2M321 40v2M323 30v2M323 42v2M325 32v4M327 26v2M329 4v2M329 34v2M331 82v2M331 90v2M333 72v2M333 82v2M335 2v2M337 28v4M337 42v2M339 12v2M339 16v2M339 34v2M339 98v2M339 108v2M339 178v2M341 126v2M341 194v2M343 70v2M343 88v2M343 138v2M345 48v2M345 64v2M347 0v2M347 28v2M349 26v2M349 90v2M349 132v2M349 182v4M351 6v2M351 26v2M351 50v2M351 76v2M351 94v2M351 192v2M353 4v2M353 30v2M353 186v2M355 40v2M355 54v4M355 304v2M357 46v2M357 64v2M361 36v2M363 34v2M363 50v2M363 80v2M365 10v2M365 88v2M365 162v2M367 56v2M367 74v2M369 20v2M375 28v2M375 44v2M377 6v2M377 18v2M377 50v2M377 86v2M379 18v2M389 46v2M389 278v2M389 286v6M391 66v2M391 78v2M391 250v4M391 268v2M393 38v2M393 114v2M393 266v2M393 272v2M393 278v2M393 282v2M393 300v2M395 32v2M395 258v2M395 270v4M395 278v2M397 28v2M399 42v2M399 260v2M399 272v2M401 4v2M401 26v2M401 126v2M403 48v2M403 250v2M403 282v2M405 102v2M405 274v2M405 278v2M405 282v2M407 16v2M407 280v2M407 288v2M409 48v2M409 272v6M409 288v6M409 300v2M411 6v2M411 46v2M413 20v2M415 0v2M415 20v2M415 226v2M417 96v2M417 196v2M419 30v2M419 40v2M419 298v2M423 0v2M423 298v2M425 76v2M427 76v2M429 10v2M429 16v2M429 20v2M429 104v2M429 270v4M431 30v4M431 44v4M431 90v2M433 46v8M435 2v2M435 12v2M435 16v2M437 66v2M437 98v2M437 152v2M443 12v2M445 300v2M447 38v2M449 48v2M453 6v2M453 84v2M457 298v2M459 36v2M461 30v2M461 92v2M463 2v2M463 8v2M463 42v2M465 210v2M469 2v2M469 14v6M469 42v2M469 56v4M473 34v2M473 52v2M475 12v2M475 188v2M477 34v2M479 12v2M479 16v2M481 298v2M483 2v2M483 6v2M483 298v2"/><path stroke="#0050ff" d="M1 86v2M1 178v2M3 16v2M3 72v2M3 294v2M5 72v2M5 78v2M5 154v2M7 84v2M7 150v2M7 194v2M9 56v2M9 66v2M9 86v2M9 134v2M11 30v2M13 74v2M15 90v2M17 12v4M17 24v2M17 60v2M21 74v2M21 84v2M21 106v2M23 128v2M25 48v2M25 58v2M29 28v2M29 106v2M31 116v2M31 144v2M31 184v4M33 58v2M33 164v2M33 294v2M35 26v2M35 32v2M35 54v2M35 112v2M37 0v2M37 296v2M39 64v4M41 46v2M41 100v2M41 114v2M41 134v2M45 20v2M45 42v4M47 78v2M47 82v2M49 56v2M49 70v2M49 94v2M49 102v2M49 106v2M51 54v2M53 0v2M55 2v2M55 54v2M57 12v4M57 28v2M57 38v2M57 56v2M57 296v2M59 2v2M59 24v2M59 60v2M59 66v2M61 14v2M61 46v2M61 94v2M61 152v2M61 174v2M63 66v2M63 114v2M63 138v2M63 142v2M63 150v2M63 156v2M63 178v2M63 300v2M65 8v2M65 60v2M65 82v2M65 104v2M65 110v2M65 116v2M65 184v2M67 26v2M67 48v2M67 66v2M67 82v2M67 108v2M67 130v4M69 68v2M69 146v2M71 48v2M71 64v2M73 112v2M75 86v2M75 140v2M77 68v4M77 174v2M81 84v2M81 150v2M81 204v2M81 254v2M83 86v2M83 94v2M101 78v2M101 172v2M101 178v2M103 66v2M103 84v2M103 90v2M103 136v4M103 228v2M105 162v2M105 190v2M107 82v2M107 92v2M107 96v2M107 100v2M107 174v2M107 296v2M109 56v2M109 76v2M109 96v2M109 242v2M113 80v2M113 94v2M113 296v2M115 94v2M115 118v2M115 240v2M119 12v2M119 80v2M119 104v2M119 124v2M119 140v2M119 192v2M119 196v2M123 200v2M125 128v2M127 94v2M127 112v2M127 268v2M127 286v2M129 32v2M129 136v2M129 172v2M131 86v2M133 96v2M135 96v2M135 324v4M137 160v2M137 324v4M139 122v2M139 324v4M141 324v4M143 324v4M145 62v2M145 146v2M145 324v4M147 164v2M147 324v4M149 156v2M149 170v2M149 320v2M149 324v4M151 154v4M151 168v2M151 322v6M153 316v2M153 324v4M155 120v2M155 174v2M155 324v4M157 140v2M157 146v2M157 162v2M157 318v10M159 156v2M159 184v2M159 190v2M159 316v4M159 324v4M161 44v2M161 116v2M161 168v2M161 176v4M161 324v4M163 148v2M163 154v2M163 158v2M163 166v2M163 324v4M165 52v2M165 90v2M165 324v4M167 38v2M167 46v2M167 324v4M169 112v2M169 324v4M171 324v4M173 0v2M173 90v2M173 94v2M173 98v4M173 324v4M201 0v2M201 130v2M203 136v2M207 72v2M207 96v2M207 100v2M207 184v2M209 102v2M209 110v2M209 128v2M209 148v2M209 176v2M211 82v2M211 108v2M211 148v2M211 152v2M211 232v2M213 32v2M213 82v2M213 106v2M213 126v2M213 158v2M213 214v2M215 6v2M217 50v2M221 16v2M223 110v2M223 128v2M225 96v2M225 116v2M225 134v2M225 142v2M225 162v2M225 168v2M225 236v2M225 254v2M227 90v2M227 148v4M227 156v2M229 116v2M229 120v2M229 162v2M229 188v2M231 76v2M231 80v2M231 134v2M233 128v2M233 146v2M233 172v2M235 146v4M237 92v2M237 100v2M237 168v2M237 300v2M239 72v2M239 88v4M239 114v2M239 150v4M239 166v2M241 134v2M241 158v4M241 190v2M243 16v2M245 190v4M245 200v2M247 32v2M247 130v2M249 28v2M251 30v2M253 2v2M257 304v2M263 32v2M267 18v2M267 40v2M267 94v2M267 130v2M267 138v2M267 168v2M267 184v2M267 194v2M267 232v2M267 260v2M267 264v2M277 324v4M279 4v2M279 20v2M279 324v4M281 324v4M283 4v2M283 324v4M285 4v2M285 12v2M285 242v2M287 30v2M287 140v4M287 150v2M289 0v2M289 100v2M289 306v2M291 42v2M293 20v2M293 74v2M295 0v2M295 78v2M299 2v2M301 6v2M303 306v2M305 2v2M305 76v2M307 8v2M311 34v2M315 26v2M315 30v2M317 306v2M321 70v2M323 24v2M323 302v2M325 112v2M325 302v2M327 302v2M331 6v2M331 10v2M333 6v2M333 48v2M337 4v2M339 46v2M339 70v2M339 92v2M339 240v2M339 306v2M341 80v2M341 154v2M343 92v2M343 150v2M345 30v2M345 292v2M349 2v2M349 20v2M349 40v2M349 56v2M349 80v2M349 110v2M351 64v2M351 78v2M351 98v2M351 204v2M353 6v2M353 60v2M353 92v2M353 98v2M357 302v2M359 54v2M361 8v2M361 28v2M363 82v4M363 146v2M363 190v2M367 40v2M371 10v2M373 4v2M373 40v2M375 38v2M375 300v2M377 2v2M377 8v2M377 12v2M377 88v2M379 54v2M389 36v2M389 280v6M389 292v2M391 46v2M391 270v8M391 288v4M391 298v4M393 42v2M393 270v2M393 274v4M393 284v2M395 40v2M395 274v4M395 280v2M395 298v2M397 300v2M399 252v2M399 264v2M399 270v2M399 274v2M399 302v2M401 16v2M401 302v2M403 62v2M403 144v2M405 18v2M405 46v2M405 52v2M405 110v2M405 262v4M405 270v2M407 8v2M407 18v2M407 32v2M407 76v2M407 98v2M407 260v10M409 42v2M409 46v2M409 122v2M409 294v2M409 298v2M411 8v2M411 30v2M411 40v2M411 44v2M411 48v2M413 12v2M413 36v2M417 8v2M417 82v2M417 132v2M419 2v2M421 210v2M425 18v2M425 32v2M425 72v2M425 92v2M427 2v2M427 8v2M427 90v4M427 96v2M427 294v2M429 166v2M431 14v2M431 24v6M431 34v2M431 40v4M431 48v8M431 86v2M433 0v4M433 10v2M433 14v6M433 24v2M433 34v4M433 44v2M433 54v2M435 4v2M437 100v2M451 6v2M451 44v2M461 38v2M463 18v2M463 70v4M463 296v2M465 296v2M467 20v2M471 0v2M471 16v2M473 58v2M475 8v2M475 16v2M475 186v2M477 106v2M479 2v2M479 70v2M479 78v2M481 10v2M481 26v2M481 30v4M483 10v2M483 34v2M483 44v2M483 48v2M483 58v2"/><path stroke="#0060ff" d="M1 8v4M1 54v2M1 84v2M1 294v2M5 66v6M5 100v2M7 86v4M7 138v2M7 148v2M7 164v2M7 178v4M9 62v2M9 74v2M9 84v2M11 44v2M11 74v2M13 24v2M13 298v2M15 88v2M15 298v2M17 40v2M17 56v2M17 82v2M19 28v2M19 72v2M19 84v2M19 188v2M21 124v2M21 178v2M23 88v2M23 108v2M23 296v2M25 26v2M25 32v4M25 54v2M25 70v2M25 76v2M25 132v2M25 294v2M27 6v2M29 34v2M29 66v4M31 40v2M31 178v2M31 194v2M33 64v2M33 70v2M33 132v2M33 154v2M33 166v2M33 198v2M35 20v2M35 56v4M35 140v2M37 82v2M37 104v2M37 128v2M39 36v2M39 80v2M39 88v2M39 102v2M39 110v2M39 122v2M39 128v2M43 46v2M43 66v2M43 70v4M43 82v2M45 14v2M45 34v2M45 92v2M45 96v2M45 130v2M47 104v2M47 128v2M49 72v2M51 50v2M51 76v2M51 88v2M51 136v2M51 142v2M53 12v2M53 90v2M53 296v2M55 18v2M55 28v2M55 38v2M55 56v2M57 10v2M57 46v2M57 64v2M57 70v2M59 18v2M59 22v2M59 68v4M61 0v2M61 36v2M61 50v2M61 74v2M61 110v2M61 124v2M61 132v2M61 144v2M61 172v2M61 178v2M63 34v2M63 60v4M63 116v2M63 130v4M63 144v2M63 154v2M63 158v2M65 6v2M65 100v2M65 298v2M67 88v4M67 174v4M67 296v2M69 54v2M69 76v2M69 88v2M71 50v2M71 74v2M71 296v2M73 70v2M73 114v2M75 84v2M75 90v2M75 96v2M75 164v2M77 28v2M77 296v2M79 48v2M79 154v2M81 154v2M83 46v2M83 84v2M101 94v4M101 108v2M101 142v2M101 162v2M101 286v2M103 106v2M103 124v2M103 156v2M105 152v2M105 182v2M105 194v2M107 16v2M107 56v2M109 28v2M109 40v2M109 88v2M111 80v2M111 294v2M113 78v2M113 138v2M115 78v2M117 102v4M117 164v2M117 192v2M117 212v2M117 296v2M119 66v2M119 110v2M119 130v2M121 52v2M121 78v2M121 82v4M121 88v2M123 26v2M123 70v2M123 92v2M127 40v2M127 44v2M127 60v2M127 122v2M127 154v2M127 178v2M127 212v2M127 218v2M127 264v2M127 300v2M129 302v2M131 82v2M133 94v2M133 196v2M135 92v2M135 98v4M141 34v2M141 78v2M143 26v2M145 152v2M145 160v2M147 60v2M147 318v2M149 70v2M149 176v4M149 322v2M151 126v4M151 134v2M151 158v2M151 172v6M151 316v4M153 134v2M153 158v2M155 136v2M155 144v2M155 170v4M155 202v2M157 126v2M157 130v2M157 188v4M159 182v2M159 320v4M161 138v2M161 204v2M163 128v2M163 144v2M163 182v2M163 186v2M169 30v2M171 92v2M173 42v2M197 6v2M199 290v2M201 34v2M201 292v2M205 118v2M205 134v2M205 216v2M207 114v2M207 160v2M209 26v2M209 78v2M209 126v2M209 134v2M209 144v2M209 220v2M211 8v2M211 32v2M211 94v2M211 136v2M211 188v2M211 194v2M213 94v2M213 112v2M213 124v2M213 128v2M213 190v4M213 304v2M215 2v2M217 304v2M219 2v2M221 10v2M221 30v2M223 4v2M223 122v2M225 98v2M225 102v2M225 106v2M225 156v2M225 166v2M225 198v2M225 304v2M227 4v2M227 98v2M227 106v2M227 110v4M227 130v2M227 172v2M227 188v2M229 72v2M229 140v2M229 144v2M231 86v2M231 94v2M231 128v2M231 168v2M231 178v2M231 304v2M233 0v2M235 178v2M235 212v2M237 102v6M237 130v2M239 146v2M239 156v2M239 174v2M239 200v2M239 210v2M239 302v2M241 98v2M241 104v2M241 116v2M243 14v2M243 80v2M243 110v2M243 306v2M245 216v2M247 4v2M247 34v2M247 78v2M247 124v2M251 32v2M251 302v2M253 34v2M255 302v2M257 14v2M257 36v2M265 16v2M267 10v2M267 110v2M267 186v2M267 190v2M267 204v2M267 214v2M267 246v2M269 154v2M285 16v2M285 92v2M285 244v2M287 38v2M287 42v2M287 116v2M289 50v2M289 74v2M291 28v2M293 66v4M295 4v2M297 302v2M301 306v2M303 86v2M303 96v2M309 54v2M309 64v2M309 72v2M311 30v2M311 302v2M313 304v2M317 140v2M319 16v2M321 30v2M321 106v2M321 302v2M325 8v2M325 16v2M325 60v2M329 8v2M331 36v2M331 56v2M331 84v2M333 20v2M337 22v2M337 94v2M337 112v2M339 78v2M339 96v2M339 100v2M341 58v4M341 100v2M343 4v2M343 44v2M345 38v2M345 84v2M347 106v2M347 302v2M349 36v4M349 52v2M349 112v2M349 120v2M349 130v2M349 134v2M349 138v2M351 0v2M351 14v2M351 66v2M351 110v2M353 42v2M355 0v2M355 72v2M357 24v2M359 302v2M361 78v2M363 46v4M363 100v2M363 114v2M365 158v4M365 302v2M367 30v6M367 46v2M367 58v2M367 88v2M369 12v2M375 46v2M377 300v2M379 16v2M389 294v2M391 122v2M391 146v2M391 278v2M391 286v2M393 34v2M393 44v2M393 268v2M393 286v2M393 294v2M395 34v2M395 282v2M395 286v6M395 296v2M395 300v2M397 26v2M397 34v2M399 22v2M399 254v6M399 276v2M399 296v2M401 14v2M401 18v2M401 22v4M401 32v2M403 36v6M403 284v2M405 12v2M405 32v2M405 92v2M405 106v2M405 112v2M405 258v4M405 272v2M405 280v2M405 290v2M407 0v2M407 30v2M407 158v2M407 282v2M407 292v2M409 44v2M409 74v2M409 296v2M411 32v8M411 42v2M411 298v2M413 298v2M415 12v6M417 134v2M419 16v2M419 38v2M419 42v2M419 64v2M419 94v2M421 28v2M421 298v2M427 26v2M429 18v2M431 10v4M431 18v6M431 36v4M431 88v2M433 8v2M433 12v2M433 20v4M433 38v2M433 302v2M435 44v2M435 300v2M437 22v2M439 24v2M441 14v2M445 58v2M445 120v2M453 2v2M457 20v2M459 42v2M459 58v2M461 0v2M463 6v2M465 54v2M465 142v2M469 294v2M471 294v2M473 24v2M473 54v2M473 98v2M473 104v2M475 80v2M477 66v2M481 46v2M483 60v2"/><path stroke="#0070ff" d="M3 58v2M5 106v4M5 296v2M7 26v2M7 30v2M7 44v2M7 68v2M7 104v2M7 118v2M7 160v2M7 168v2M7 296v2M9 64v2M9 142v2M11 66v2M11 102v2M11 106v2M13 16v4M17 44v2M17 58v2M17 70v4M19 38v2M19 52v2M21 98v2M23 2v2M23 46v2M23 148v2M25 28v2M27 46v2M29 2v2M29 30v2M29 100v2M31 48v2M31 74v2M31 82v2M31 134v2M33 46v2M33 52v2M35 60v2M35 78v2M35 168v2M35 296v2M37 16v2M37 24v2M37 32v2M37 60v2M37 110v2M37 126v2M37 132v2M39 20v4M39 134v6M39 168v2M41 8v2M41 112v2M41 160v2M43 12v2M43 26v2M43 68v2M43 144v2M43 298v2M45 16v2M45 116v2M47 76v2M49 68v2M49 96v2M49 160v2M51 52v2M51 86v2M51 130v2M51 138v2M51 146v2M55 0v2M55 8v2M55 30v2M57 52v2M59 0v2M59 6v2M59 10v2M59 48v4M61 114v2M61 150v2M61 182v2M63 4v4M63 68v2M63 78v2M63 124v2M65 30v2M65 70v2M67 78v2M67 84v2M69 64v2M69 90v2M69 296v2M73 72v2M73 78v2M73 116v2M75 68v2M75 122v4M77 46v2M77 176v2M79 10v2M79 60v2M79 130v2M81 62v2M81 82v2M83 66v4M83 142v2M83 294v2M101 122v2M101 140v2M101 152v2M101 156v2M103 18v2M103 68v2M103 104v2M103 186v2M103 198v2M105 128v2M105 154v2M105 160v2M105 178v2M105 298v2M107 98v2M107 188v2M109 84v4M111 84v2M115 116v2M117 24v2M117 80v2M117 100v2M117 194v2M119 0v2M119 58v2M119 94v2M119 122v2M119 126v2M119 150v2M119 180v4M121 54v2M123 52v2M123 74v2M123 82v2M127 10v2M127 14v2M127 52v2M127 78v2M127 86v2M127 102v2M127 106v2M127 132v2M127 142v6M127 168v2M127 196v2M129 84v2M129 140v2M129 192v2M131 48v4M131 84v2M137 80v2M143 64v2M143 68v2M145 42v2M145 52v2M145 132v2M145 142v2M145 166v2M147 122v2M147 146v2M147 152v2M147 316v2M147 320v4M149 318v2M151 164v2M153 150v2M153 318v4M155 322v2M157 116v2M157 132v2M157 150v2M157 194v2M159 44v2M159 144v2M159 180v2M159 192v2M161 152v2M161 164v2M163 0v2M163 102v2M163 174v2M163 180v2M165 88v2M167 96v2M173 92v2M173 126v4M199 134v2M201 14v2M201 166v2M201 190v2M203 162v2M205 16v2M207 156v2M207 166v2M209 80v2M209 118v2M209 168v2M209 178v2M211 116v2M211 142v2M211 164v2M211 196v2M213 80v2M213 104v2M213 164v2M219 28v2M223 78v2M223 126v2M223 150v2M225 14v2M225 76v2M225 118v2M225 122v2M225 128v2M225 146v2M227 174v4M227 192v2M229 20v2M231 22v2M231 92v2M231 130v2M233 94v2M233 116v2M233 120v2M233 160v2M233 302v2M235 136v2M235 142v2M235 182v2M235 300v2M237 26v4M237 44v2M237 94v4M237 118v2M237 162v2M237 176v2M239 78v4M239 108v2M239 136v2M239 140v2M239 180v2M241 140v2M243 106v2M245 166v2M247 18v2M257 30v2M259 304v2M267 22v2M267 96v2M267 150v4M267 182v2M269 158v2M275 4v2M277 12v2M279 24v2M285 0v4M285 44v2M285 86v2M285 304v2M287 56v2M287 70v2M287 90v2M287 98v2M289 8v2M291 82v2M293 12v2M293 76v2M297 26v2M299 34v2M299 304v2M303 12v2M305 34v2M311 12v2M311 38v2M319 302v2M321 20v2M323 6v2M323 50v2M323 68v2M325 104v2M329 308v2M331 16v2M331 40v2M331 48v2M331 142v2M333 8v2M333 22v2M333 178v2M335 12v2M335 16v2M335 304v2M337 40v2M337 88v2M337 106v4M339 36v2M339 110v2M341 20v2M341 84v2M341 128v2M343 38v2M343 42v2M345 24v2M347 2v2M349 10v2M349 16v2M349 66v2M349 74v2M349 96v2M349 106v2M349 162v2M349 304v2M351 56v2M355 38v2M355 74v2M357 26v2M363 16v2M363 54v2M367 28v2M369 0v2M373 24v2M377 4v2M389 296v2M389 300v2M391 68v2M391 292v2M391 296v2M393 36v2M393 296v2M395 24v2M395 44v4M395 284v2M395 292v2M397 40v2M397 46v2M397 302v2M399 28v2M399 278v2M399 294v2M401 30v2M401 56v2M401 72v2M403 42v2M403 140v2M403 286v2M403 294v2M405 6v6M405 20v2M405 302v2M407 22v6M407 44v2M407 64v2M407 74v2M407 286v2M407 302v2M409 16v2M409 30v2M409 36v2M409 104v2M413 16v2M415 92v2M417 98v2M419 14v2M419 92v2M421 34v2M425 70v2M427 62v2M429 34v2M429 64v2M431 2v6M433 42v2M439 300v2M443 20v2M445 38v2M445 66v2M447 300v2M451 300v2M453 4v2M453 66v2M455 300v2M457 8v2M457 12v2M459 26v2M459 44v2M463 12v2M463 20v2M467 22v4M467 52v2M473 38v2M473 60v2M475 2v2M477 36v2M479 76v2M483 50v2M483 96v2"/><path stroke="#0080ff" d="M1 12v2M1 90v2M1 180v2M3 116v2M5 34v2M5 60v2M5 64v2M5 128v2M7 38v2M7 42v2M7 90v2M7 94v2M7 112v2M7 124v2M7 184v2M9 82v2M9 90v2M9 132v2M11 28v2M11 32v2M11 104v2M13 48v2M15 70v2M15 80v2M17 0v2M17 62v2M19 44v2M19 62v2M19 300v2M21 70v2M21 76v4M21 94v2M21 108v4M21 136v2M23 60v2M23 78v2M23 110v2M25 18v2M25 36v2M25 56v2M25 72v2M27 32v2M27 48v2M27 294v2M29 32v2M31 32v2M31 42v2M31 72v2M31 76v6M33 34v2M33 54v2M33 152v2M33 162v2M33 168v2M35 30v2M35 48v2M35 76v2M35 138v2M37 94v2M39 24v2M39 126v2M39 170v2M41 64v2M41 104v2M43 42v2M45 2v2M45 50v2M45 56v2M45 60v2M47 62v2M47 74v2M49 52v2M49 64v4M49 298v2M51 60v2M51 80v2M51 134v2M53 38v2M55 22v2M57 16v2M59 298v2M61 24v2M61 30v2M61 54v2M61 116v2M61 128v2M63 54v2M63 58v2M63 76v2M63 82v2M63 168v2M65 78v2M65 144v2M67 28v2M67 46v2M67 68v2M67 80v2M69 70v2M69 80v2M69 84v2M71 12v2M71 32v4M71 72v2M73 32v2M73 42v2M75 134v2M75 298v2M77 20v2M77 56v2M79 4v2M79 36v2M81 52v2M81 64v2M83 50v2M83 62v4M83 72v2M83 136v2M83 140v2M101 88v2M101 98v2M101 136v2M101 148v2M103 80v2M103 88v2M103 116v2M105 74v2M105 96v2M105 124v2M107 18v2M107 70v2M107 90v2M109 68v2M109 82v2M113 140v2M115 92v2M117 118v2M117 136v2M119 64v2M119 90v2M119 98v2M119 102v2M119 112v2M119 128v2M119 152v4M119 162v2M121 80v2M123 56v2M123 90v2M125 78v2M125 84v2M125 118v2M127 80v2M127 166v2M129 68v2M129 112v2M129 166v2M131 68v2M133 84v2M133 90v4M135 90v2M135 132v2M139 2v2M139 82v2M139 88v2M139 92v4M143 2v2M143 54v2M143 66v2M143 144v2M145 118v2M145 128v4M145 144v2M145 158v2M147 58v2M147 62v2M147 144v2M147 314v2M149 64v2M149 314v4M151 76v2M151 132v2M151 136v2M151 152v2M151 160v4M151 166v2M153 138v2M153 144v2M155 122v2M155 138v2M155 142v2M155 146v2M155 316v2M157 144v2M159 146v2M159 154v2M159 174v4M161 118v2M163 42v4M169 14v2M169 20v2M169 28v2M169 38v2M169 50v2M173 52v2M197 28v2M199 40v2M199 150v2M201 2v2M203 14v2M207 170v2M209 20v2M209 120v2M211 76v2M213 58v2M213 138v2M213 152v2M213 156v2M215 0v2M215 304v2M219 32v2M219 304v2M223 100v2M223 130v2M225 4v2M225 148v2M225 154v2M225 158v2M227 0v2M227 76v2M227 104v2M229 74v2M229 98v4M229 106v2M229 122v2M231 20v2M231 56v2M231 102v2M231 106v2M231 174v2M233 90v2M235 114v2M237 54v2M239 28v2M239 84v2M239 176v2M241 0v2M241 20v2M241 122v2M241 144v2M243 84v2M243 128v2M245 94v2M245 168v2M247 100v2M249 26v2M249 30v2M249 304v2M251 26v4M253 14v2M253 38v2M255 48v2M265 18v2M265 304v2M267 74v2M267 164v2M271 44v2M273 32v2M275 6v2M277 10v2M277 320v2M279 26v2M285 82v2M285 88v2M285 132v2M287 8v2M287 88v2M287 96v2M287 104v2M287 122v2M289 46v2M289 76v2M291 70v2M291 140v2M293 6v2M293 106v2M295 110v2M299 58v2M299 66v2M307 16v2M307 304v2M309 24v2M309 56v2M313 22v2M315 90v2M319 26v2M323 36v2M325 6v2M325 68v2M325 80v2M329 62v2M331 20v2M331 24v2M331 46v2M331 52v2M331 144v2M331 306v2M333 180v2M337 32v2M337 110v2M339 28v2M339 74v2M339 104v2M341 30v2M341 38v2M341 72v2M341 308v2M343 106v2M343 110v2M349 122v2M351 8v2M351 48v2M351 74v2M351 80v2M351 116v2M353 36v2M353 64v2M361 24v2M363 6v2M363 42v2M363 116v2M363 304v2M367 22v2M367 300v2M371 28v2M373 22v2M379 70v2M379 302v2M389 22v2M389 98v2M389 298v2M391 48v2M391 148v2M391 280v2M391 284v2M393 116v2M393 288v2M393 292v2M393 298v2M395 38v2M395 294v2M395 302v2M397 14v2M397 24v2M397 36v2M397 44v2M397 74v2M399 20v2M399 30v2M399 266v4M399 280v10M399 298v4M401 8v2M401 102v2M403 2v2M403 16v2M403 24v2M403 30v2M403 34v2M403 158v2M403 288v2M403 296v2M405 34v2M405 292v2M407 20v2M407 28v2M407 284v2M407 294v8M409 34v2M409 38v4M409 106v2M411 18v4M411 128v2M417 10v2M419 32v2M419 62v2M423 76v2M425 16v2M427 178v2M427 300v2M429 8v2M429 62v2M429 164v2M429 302v2M431 0v2M435 40v2M437 4v2M437 8v2M437 300v2M443 300v2M451 18v4M453 64v2M453 300v2M457 16v2M461 298v2M465 26v2M473 2v2M473 6v2M473 20v2M475 30v2M477 20v2M477 68v2M479 82v2M481 6v4M481 74v2M483 24v2"/><path stroke="#008fff" d="M1 58v2M1 66v2M1 110v2M3 20v2M3 74v2M3 78v4M5 84v2M5 104v2M7 8v2M7 66v2M7 96v2M7 108v2M7 116v2M7 158v2M9 0v2M9 34v2M11 34v4M13 40v2M17 16v2M17 22v2M17 68v2M17 74v2M19 18v2M19 68v4M21 102v2M21 146v2M23 16v2M23 76v2M25 0v2M25 74v2M25 104v2M27 40v2M29 108v2M29 294v2M31 294v2M33 22v4M33 56v2M33 60v2M33 66v2M33 74v2M37 66v2M37 84v2M37 92v2M37 130v2M39 6v2M39 94v2M39 108v2M39 120v2M41 6v2M41 72v2M41 78v2M41 88v4M41 130v2M43 30v2M43 50v2M43 78v2M45 18v2M45 32v2M45 40v2M45 90v2M47 298v2M49 80v2M49 98v2M51 70v4M51 78v2M53 30v2M53 46v2M53 66v2M53 124v2M55 36v2M57 54v2M59 20v2M59 34v2M59 114v2M61 66v2M61 106v2M61 134v2M61 138v2M61 146v2M63 48v6M65 18v2M65 32v2M65 52v2M67 76v2M67 86v2M69 72v4M69 122v2M71 10v2M71 40v2M71 62v2M73 44v2M73 50v2M73 74v2M75 40v2M75 66v2M75 92v2M75 102v2M77 34v4M77 76v2M79 54v2M79 68v2M81 54v4M81 152v2M83 34v2M83 42v2M83 156v2M101 100v4M103 56v2M103 78v2M103 82v2M103 86v2M103 118v2M103 134v2M103 144v2M105 52v2M105 164v4M107 2v2M107 84v2M109 80v2M111 88v2M115 90v2M117 98v2M117 150v2M117 158v2M119 4v2M119 88v2M119 158v2M121 76v2M121 86v2M121 296v2M123 60v2M123 296v2M125 56v2M125 82v2M127 124v2M127 134v2M127 158v2M131 64v2M131 304v2M133 46v2M135 82v2M137 116v2M139 66v2M139 84v2M141 80v2M143 4v2M143 10v2M143 40v4M145 74v2M145 96v2M145 126v2M147 136v2M147 148v2M147 168v2M149 58v2M149 72v2M149 138v2M151 138v2M153 76v2M153 136v2M153 148v2M155 118v2M155 156v2M155 318v4M157 124v2M159 42v2M159 140v2M159 150v2M159 158v2M159 168v4M159 178v2M161 140v2M161 154v2M163 48v2M163 130v2M165 46v2M167 98v2M169 10v2M169 32v2M169 44v2M169 48v2M169 88v2M171 54v2M171 90v2M197 4v2M197 26v2M201 4v2M205 92v2M205 138v2M209 2v2M209 124v2M209 140v2M211 12v2M211 134v2M211 154v2M213 78v2M213 92v2M213 150v2M217 12v2M223 72v2M223 120v2M223 132v2M223 160v2M225 136v2M227 28v2M227 100v4M229 102v2M231 112v2M231 166v2M233 136v4M233 156v2M237 128v2M239 86v2M239 138v2M241 60v2M241 76v2M241 90v2M241 130v2M243 116v2M245 28v2M245 108v2M247 102v2M249 42v2M251 40v2M255 22v2M257 0v2M257 26v4M257 32v2M261 12v2M261 34v2M263 306v2M265 58v2M271 28v2M273 30v2M277 26v2M277 312v8M277 322v2M279 320v4M281 320v2M283 314v2M287 54v2M293 104v2M295 2v2M301 20v2M305 6v2M309 304v2M311 36v2M311 62v2M311 138v2M315 32v2M317 110v2M317 142v2M319 34v2M319 84v2M321 26v2M321 38v2M323 20v2M323 52v2M323 94v2M323 114v2M325 24v2M327 28v2M329 14v2M331 2v2M331 14v2M331 34v2M331 126v2M333 80v2M337 12v2M337 16v2M337 84v2M337 90v2M337 306v2M339 24v2M339 58v2M339 112v2M341 16v2M343 306v2M349 4v2M349 22v2M349 30v2M349 84v2M349 160v2M351 24v2M351 32v2M351 306v2M353 26v2M353 90v2M353 96v2M355 32v2M359 56v2M361 94v2M363 38v2M365 0v2M367 16v2M367 20v2M367 68v2M369 74v2M375 48v2M389 34v2M389 94v2M391 294v2M393 290v2M395 14v2M395 36v2M399 24v2M401 6v2M401 28v2M401 44v2M403 142v2M403 292v2M405 28v2M405 40v2M405 54v2M405 294v2M405 298v4M407 12v2M409 0v2M409 8v2M409 28v2M409 32v2M409 108v2M409 302v2M411 4v2M411 16v2M411 28v2M413 10v2M413 14v2M417 12v2M419 48v2M421 24v4M425 2v4M425 38v2M427 6v2M427 20v2M427 94v2M429 6v2M429 38v2M429 54v2M429 78v2M435 18v2M437 6v2M437 32v2M437 58v2M439 56v4M441 300v2M445 6v2M445 10v2M445 34v2M445 56v2M447 26v2M449 300v2M451 16v2M451 46v2M455 20v2M457 10v2M459 38v2M461 8v2M461 12v2M461 40v2M463 4v2M463 10v2M465 46v2M473 92v2M475 14v2M475 58v2M475 296v2M479 20v2M479 74v2M479 300v2M481 64v2M481 300v2M483 12v2M483 22v2M483 98v2"/><path stroke="#009fff" d="M1 60v2M1 140v2M3 76v2M3 114v2M3 138v2M3 296v2M5 38v2M5 132v2M7 50v2M7 106v2M7 140v2M9 298v2M11 48v2M13 22v2M13 134v2M15 0v2M15 64v2M15 68v2M15 72v2M17 48v2M17 300v2M19 0v2M19 30v2M19 64v4M21 10v2M21 80v2M21 126v2M23 62v2M25 22v2M27 110v2M29 104v2M31 0v2M31 84v2M31 114v2M33 18v2M33 50v2M33 126v2M35 4v2M35 28v2M35 40v6M35 72v2M35 88v2M37 10v2M37 22v2M37 58v2M39 10v2M39 58v2M39 74v2M39 90v2M39 298v2M41 44v2M41 48v2M41 96v2M41 136v2M43 20v2M43 48v2M43 96v2M45 28v2M45 112v2M45 300v2M47 50v2M47 102v2M47 150v2M49 58v2M49 78v2M49 100v2M51 298v2M53 36v2M53 68v4M55 32v2M55 296v2M57 2v2M59 58v2M61 40v2M61 60v2M61 92v2M61 120v2M61 300v2M63 8v6M63 80v2M63 90v2M65 34v4M65 42v2M65 48v2M65 72v2M65 102v2M67 50v2M69 12v2M69 58v2M71 20v4M71 42v2M71 46v2M73 40v2M73 46v2M73 52v2M73 68v2M73 76v2M73 298v2M75 24v2M75 76v2M75 132v2M75 146v2M77 32v2M81 80v2M81 294v2M83 36v2M83 44v2M83 60v2M83 130v2M101 104v2M101 132v2M101 296v2M105 50v2M105 132v2M105 146v2M109 32v2M109 78v2M109 296v2M115 38v2M115 76v2M115 88v2M115 160v2M115 324v4M117 108v2M117 130v6M117 154v2M119 74v2M119 86v2M119 92v2M119 138v2M121 68v2M123 58v2M123 78v4M125 324v2M127 70v2M127 74v2M127 92v2M129 36v2M129 62v2M129 142v2M135 84v6M139 0v2M139 20v2M139 80v2M139 120v2M139 124v2M139 136v2M139 316v4M141 310v4M141 322v2M143 12v2M143 34v2M143 138v2M145 34v2M145 94v2M145 134v2M145 140v2M145 322v2M147 68v4M147 150v2M147 166v2M149 128v2M149 148v2M153 146v2M155 128v2M155 140v2M155 150v2M157 148v2M159 160v2M159 172v2M161 126v2M161 144v2M163 4v2M163 106v2M163 120v2M163 152v2M165 86v2M167 126v2M169 90v2M171 34v2M199 38v2M199 58v2M201 122v2M203 72v2M203 80v2M205 4v2M205 78v2M207 98v2M211 98v2M211 128v2M213 72v2M213 100v2M213 154v2M215 16v2M217 8v2M221 24v2M221 304v2M223 20v2M223 98v2M223 146v2M223 154v2M225 16v2M225 90v2M229 22v2M229 94v2M231 2v2M231 16v4M231 70v2M231 98v2M231 132v2M233 72v2M235 84v2M235 100v2M237 98v2M237 126v2M239 130v2M239 148v2M243 12v2M243 18v2M243 144v2M245 0v2M245 26v2M245 50v2M245 306v2M247 128v2M247 156v2M247 306v2M251 50v2M253 16v2M253 36v2M255 10v4M257 4v2M257 12v2M259 18v2M261 32v2M265 30v2M267 104v2M267 140v2M267 148v2M267 304v2M269 156v2M271 26v2M273 12v2M273 58v2M277 8v2M277 58v2M279 312v2M279 318v2M281 318v2M283 10v2M283 312v2M283 318v6M287 16v2M289 10v2M289 14v2M289 24v2M289 30v2M293 4v2M293 36v2M295 8v2M295 112v2M303 14v2M305 24v2M305 306v2M307 24v2M307 66v2M307 72v2M311 32v2M317 112v2M319 80v2M321 12v2M321 28v2M323 98v2M323 120v2M325 48v2M329 38v2M333 12v2M333 78v2M333 84v2M333 306v2M337 0v2M337 24v2M337 34v2M337 114v2M339 66v2M345 304v2M349 64v2M349 94v2M349 116v2M351 70v2M353 34v2M353 306v2M355 6v2M355 24v2M355 66v2M357 62v2M361 304v2M363 8v2M363 32v2M367 26v2M367 50v4M367 72v2M367 144v2M369 6v2M371 4v4M371 302v2M373 2v2M373 26v2M373 302v2M375 4v2M375 8v2M375 74v4M379 0v2M379 12v2M379 42v2M389 38v2M389 42v2M389 82v2M391 282v2M395 22v2M397 38v2M399 36v2M399 290v4M403 4v2M403 18v2M403 80v2M403 290v2M403 302v2M405 16v2M405 44v2M405 58v2M405 296v2M407 34v2M407 58v2M411 22v4M417 0v2M417 130v2M417 300v2M419 58v2M419 76v2M421 36v2M425 0v2M425 30v2M425 300v2M427 22v2M433 26v2M435 0v2M437 56v2M441 56v4M443 0v2M445 18v2M445 28v2M445 118v2M453 28v2M453 86v2M455 48v2M461 6v2M461 16v2M465 52v2M467 298v2M469 46v2M473 32v2M473 88v2M473 108v2M475 26v2M477 72v2"/><path stroke="#00afff" d="M1 14v2M1 38v2M1 64v2M1 82v2M1 88v2M1 102v2M1 296v2M3 54v2M5 4v2M5 80v2M5 124v2M7 36v2M7 72v2M9 68v2M9 140v2M11 50v2M11 300v2M13 34v2M13 68v2M15 66v2M19 26v2M19 36v2M19 58v2M19 120v2M21 30v2M21 42v2M21 68v2M21 92v2M21 138v2M21 142v2M21 300v2M23 112v2M29 46v2M29 102v2M31 50v2M33 32v2M33 68v2M33 130v2M33 296v2M35 18v2M35 46v2M35 64v2M37 6v2M37 52v2M39 18v2M39 34v2M39 86v2M39 96v2M41 12v2M41 16v2M41 52v2M41 56v2M43 0v2M43 142v2M45 8v2M45 64v2M47 72v2M47 148v2M49 74v2M51 128v2M55 48v4M57 40v2M59 40v2M61 42v2M61 72v2M61 78v2M61 104v2M61 108v2M61 126v2M63 36v2M65 44v2M65 114v2M67 38v2M67 44v2M67 114v2M67 144v2M69 14v2M69 52v2M71 52v2M71 56v2M77 30v2M77 48v2M77 66v2M79 50v2M79 56v4M79 66v2M79 128v2M79 296v2M81 42v2M83 8v2M83 102v2M83 124v2M101 120v2M101 130v2M101 326v2M103 54v2M103 92v4M103 298v2M103 326v2M105 30v4M105 80v2M105 150v2M107 66v2M107 86v2M107 120v2M109 38v2M109 58v2M111 66v2M113 4v2M115 298v2M117 74v2M117 92v2M117 96v2M117 298v2M117 326v2M119 56v2M119 72v2M119 76v2M119 116v2M121 66v2M121 126v2M123 76v2M125 58v2M125 90v2M127 42v2M129 40v2M131 66v2M133 80v2M135 62v2M137 30v2M137 44v2M139 314v2M141 88v2M141 314v2M143 28v2M143 46v2M143 314v2M145 154v4M145 320v2M147 64v2M151 130v2M151 140v8M153 132v2M153 152v2M155 126v2M155 134v2M155 148v2M157 114v2M157 118v2M157 122v2M159 166v2M161 142v2M161 150v2M163 46v2M163 138v4M163 318v4M165 38v2M167 12v2M169 46v2M173 22v2M173 46v2M173 86v2M199 16v2M201 22v2M201 62v2M201 96v4M207 78v2M209 0v2M209 4v2M209 14v2M209 76v2M211 86v2M213 136v2M213 306v2M217 24v2M221 2v2M223 94v2M225 2v2M225 12v2M225 88v2M227 26v2M227 30v2M227 114v2M229 76v2M229 136v2M231 24v4M231 90v2M233 84v4M233 96v2M233 142v4M235 110v2M239 100v2M239 104v2M239 118v2M239 144v2M241 34v2M241 306v2M243 74v2M243 108v2M245 152v2M247 40v2M247 96v2M249 36v2M251 24v2M253 48v2M253 302v2M255 14v4M255 20v2M257 10v2M257 34v2M257 38v2M261 306v2M263 4v2M271 34v2M273 10v2M277 6v2M279 28v2M281 312v2M281 322v2M283 2v2M283 316v2M287 46v6M287 148v2M289 82v2M289 106v2M291 4v2M291 12v2M293 16v2M293 306v2M295 10v2M295 304v2M297 32v2M299 24v2M301 2v2M311 2v2M311 78v2M313 306v2M317 72v2M317 108v2M319 32v2M319 38v2M321 36v2M325 2v2M325 14v2M325 26v2M327 54v2M329 26v2M331 4v2M331 28v2M331 92v2M333 324v2M337 50v2M337 96v2M339 18v2M339 54v2M339 308v2M341 22v2M341 54v2M341 86v2M341 98v2M343 16v2M343 86v2M343 136v2M347 32v2M351 68v2M351 118v2M353 94v2M355 2v2M355 36v2M357 324v2M363 14v2M363 324v2M365 14v2M365 18v2M367 76v2M369 4v2M369 300v2M373 0v2M379 14v2M389 40v2M389 44v2M389 100v2M389 104v2M391 6v2M391 76v2M393 4v2M393 32v2M395 16v2M397 12v2M397 48v2M397 106v2M399 2v2M399 32v2M401 10v2M401 130v2M403 20v2M403 298v2M405 64v2M405 108v2M407 10v2M407 38v2M409 6v2M409 12v2M409 20v6M409 84v2M413 2v2M415 22v2M417 14v2M417 104v2M419 8v2M419 20v2M419 36v2M421 8v4M421 40v2M421 56v4M423 56v4M425 28v2M427 54v2M427 98v2M429 22v2M429 32v2M429 80v2M431 58v2M431 304v2M433 6v2M437 42v2M445 70v2M445 302v2M449 10v2M449 40v2M453 60v2M455 8v2M455 12v2M455 52v2M455 102v2M457 48v2M459 60v2M459 300v2M463 66v2M465 24v2M469 30v2M473 22v2M473 62v2M473 72v2M473 106v2M475 22v4M475 38v2M477 8v2M477 110v2M481 2v2M483 30v2M483 300v2"/><path stroke="#00bfff" d="M1 34v2M1 62v2M1 72v2M3 0v2M5 48v2M5 112v2M5 116v2M7 6v2M7 46v2M7 80v2M13 14v2M13 20v2M13 72v2M15 62v2M17 64v2M19 40v2M23 42v2M23 58v2M23 106v2M23 298v2M25 92v2M29 98v2M31 34v2M31 112v2M33 14v2M33 48v2M33 72v2M35 110v2M37 56v2M39 42v2M39 54v2M39 100v2M39 118v2M41 14v2M41 58v2M41 94v2M41 298v2M43 38v2M43 98v2M45 10v2M45 26v2M45 36v2M45 62v2M45 114v2M47 118v2M49 50v2M49 62v2M51 26v2M51 42v2M51 74v2M53 18v2M53 44v2M55 14v2M55 24v2M57 6v2M57 44v2M59 8v2M59 116v2M61 58v2M61 102v2M61 136v2M63 32v2M63 44v2M63 102v2M63 128v2M65 112v2M67 54v2M67 62v2M67 102v2M67 110v2M69 82v2M71 18v2M71 44v2M75 70v2M77 24v2M77 50v2M79 0v2M79 52v2M81 6v2M83 56v2M101 46v2M101 76v2M101 90v4M101 126v2M103 20v2M103 44v2M103 130v2M103 324v2M105 78v2M105 82v2M107 324v4M109 66v2M111 2v2M111 54v2M111 86v2M115 80v2M117 72v2M117 94v2M117 124v2M119 62v2M119 324v4M121 326v2M123 326v2M125 72v2M125 86v2M125 326v2M127 36v2M127 72v2M127 84v2M127 130v2M127 324v2M129 38v2M129 126v2M129 326v2M133 78v2M133 82v2M133 324v2M135 60v2M135 66v2M137 0v2M137 28v2M137 46v2M137 60v2M139 18v2M139 86v2M139 126v2M139 310v4M139 320v4M141 20v2M143 32v2M143 312v2M143 316v2M143 322v2M145 60v2M145 76v2M145 312v8M147 2v2M147 66v2M149 130v2M151 72v4M153 156v2M155 124v2M159 134v4M159 162v2M161 132v2M163 126v2M163 132v6M163 142v2M163 150v2M163 322v2M167 14v2M167 40v2M169 40v2M171 4v2M171 20v2M171 96v2M173 2v2M203 8v4M203 30v4M205 132v2M207 94v2M209 6v2M209 106v4M209 114v2M209 136v4M211 96v2M213 108v2M215 18v2M217 6v2M217 26v2M219 6v2M221 0v2M223 22v4M223 134v2M225 32v2M225 108v2M225 126v2M227 36v2M227 96v2M229 18v2M229 108v2M233 108v2M233 114v2M233 130v6M235 80v2M237 134v2M239 110v2M241 18v2M241 44v2M241 52v2M241 58v2M243 126v2M245 22v2M247 122v2M249 8v2M249 40v2M251 0v4M251 46v2M253 0v2M253 30v4M255 24v2M255 38v2M255 46v2M257 44v2M257 58v2M259 16v2M261 10v2M261 26v2M263 30v2M265 14v2M267 108v2M269 44v2M271 30v2M275 2v2M275 46v2M279 8v2M279 36v2M279 314v4M281 314v4M283 20v2M285 8v2M285 128v2M285 324v2M287 80v2M287 84v2M287 128v2M289 6v2M289 16v2M289 32v2M291 20v2M291 36v2M291 308v2M295 324v2M297 30v2M299 26v2M303 84v2M303 308v2M309 32v2M311 6v2M313 324v2M315 308v2M317 68v2M321 62v2M321 92v2M323 38v2M323 324v2M325 62v2M327 304v2M329 36v2M329 48v2M331 94v2M331 128v2M337 6v2M337 14v2M337 20v2M343 8v2M343 12v2M345 50v2M345 68v2M349 78v2M349 118v2M351 20v2M351 46v2M353 0v2M353 18v2M355 70v2M357 42v2M361 34v2M361 324v2M363 28v2M365 72v2M365 304v2M367 70v2M369 8v2M369 18v2M373 16v2M379 72v2M389 20v2M391 8v2M393 302v2M395 4v2M399 0v2M399 324v2M401 12v2M401 20v2M403 8v2M403 12v2M403 300v2M405 62v2M405 324v2M407 2v2M407 36v2M409 120v2M411 324v2M415 8v2M415 26v2M415 76v2M415 300v2M417 94v2M419 78v2M427 0v2M427 10v2M429 42v2M429 46v2M431 110v4M433 56v4M435 56v2M443 324v2M445 4v2M445 20v2M445 116v2M449 36v2M451 14v2M451 32v2M455 46v2M455 50v2M459 32v2M459 40v2M459 62v2M463 0v2M463 40v2M471 324v2M473 296v2M477 38v2M479 32v2M481 20v2M481 62v2"/><path stroke="#00cfff" d="M1 24v2M1 52v2M3 64v2M5 44v4M5 88v2M5 118v2M7 16v2M7 32v2M7 58v2M7 92v2M9 22v2M9 72v2M11 72v2M13 26v2M13 46v2M13 66v2M13 70v2M13 300v2M15 22v2M15 76v2M17 18v2M17 26v2M17 38v2M17 66v2M19 42v2M21 8v2M21 22v2M21 32v2M21 44v2M21 82v2M21 86v2M23 64v2M23 72v2M23 122v2M29 42v2M29 48v2M29 96v2M31 58v2M31 68v2M33 26v2M33 36v2M33 40v2M35 6v2M37 26v2M37 86v2M37 90v2M37 298v2M39 26v2M41 26v2M41 54v2M41 68v2M41 74v2M41 80v2M41 126v2M43 36v2M43 126v2M45 12v2M45 38v2M49 118v2M51 94v2M53 26v2M55 20v2M59 36v4M59 300v2M61 4v2M61 12v2M61 28v2M61 64v2M63 14v2M65 24v2M65 28v2M65 38v2M65 76v2M67 34v2M67 58v2M67 64v2M67 96v2M69 22v2M71 14v2M71 24v2M71 30v2M71 38v2M71 54v2M73 30v2M73 48v2M75 26v2M75 52v2M75 74v2M77 14v2M77 74v2M79 40v4M79 64v2M79 126v2M81 74v2M81 126v2M83 10v2M83 58v2M83 106v2M101 56v2M101 62v4M101 106v2M101 324v2M103 16v2M103 22v2M105 76v2M107 0v2M107 14v2M107 54v2M107 88v2M109 4v2M109 42v2M111 14v4M111 52v2M111 74v2M111 78v2M111 296v2M111 326v2M113 2v2M113 50v2M113 56v4M113 72v2M117 62v2M117 78v2M117 324v2M119 38v2M119 60v2M119 108v2M121 64v2M121 74v2M121 324v2M123 12v4M123 28v2M123 62v2M123 324v2M125 38v4M125 70v2M127 0v2M127 16v2M127 54v2M127 68v2M127 120v2M127 126v2M127 326v2M131 52v2M131 78v2M131 324v2M133 48v2M133 306v2M135 28v2M135 306v2M135 310v2M137 2v2M137 62v2M137 320v4M139 4v2M141 18v2M141 82v4M141 316v2M141 320v2M143 38v2M143 48v2M143 318v4M145 116v2M147 48v2M147 56v2M147 124v2M147 130v2M147 138v2M149 68v2M151 124v2M151 148v4M153 118v2M153 154v2M155 130v2M159 132v2M159 138v2M161 128v4M161 134v4M163 2v2M163 118v2M167 44v2M167 50v2M167 84v2M169 34v2M197 2v2M201 50v2M203 12v2M203 74v2M205 80v2M205 120v2M209 10v2M211 0v2M211 14v2M211 24v2M211 84v2M211 114v2M217 4v2M229 2v2M229 96v2M231 30v2M231 120v2M233 88v2M235 116v2M237 30v2M237 120v2M239 4v2M239 34v2M239 112v2M239 304v2M241 74v2M241 78v2M241 108v2M243 8v4M243 34v2M243 90v2M243 124v2M247 20v2M251 38v2M253 40v2M253 46v2M255 304v2M257 46v2M259 24v2M259 306v2M263 10v4M267 64v2M267 126v4M273 34v2M275 10v4M277 14v2M283 22v2M285 42v2M287 0v2M287 14v2M287 94v2M287 102v2M287 114v2M287 118v2M289 42v2M291 40v2M291 68v2M291 324v2M295 76v2M297 22v2M305 32v2M309 4v2M311 28v2M311 58v2M311 304v2M313 50v2M315 24v2M315 324v2M317 308v2M319 42v2M319 56v2M321 2v2M321 32v2M321 58v2M323 14v2M323 70v2M327 324v2M329 324v2M331 42v2M331 80v2M333 60v2M339 40v2M341 2v2M341 112v2M341 324v2M345 324v2M347 54v2M347 104v2M347 324v2M349 68v2M351 84v2M351 324v2M353 68v2M353 78v2M355 20v2M355 324v2M357 38v2M357 84v2M361 4v2M369 10v2M369 22v2M371 30v2M373 20v2M377 302v2M379 324v2M389 26v2M389 96v2M391 32v2M391 100v2M395 2v2M397 18v2M399 14v2M399 18v2M399 34v2M401 0v4M401 40v4M401 128v2M403 28v2M403 64v2M405 0v2M405 38v2M405 56v2M407 100v2M409 14v2M409 76v2M409 118v2M411 10v2M413 4v2M413 8v2M419 72v2M419 300v2M421 44v2M421 86v2M421 324v2M423 324v2M425 54v2M425 90v2M427 28v2M427 74v2M427 324v2M429 0v2M429 82v2M429 108v2M431 324v2M433 324v2M435 58v2M439 50v2M441 20v2M451 324v2M455 42v4M459 12v2M459 64v2M461 2v2M461 32v2M461 90v2M463 26v2M463 324v2M465 324v2M467 324v2M473 36v2M473 56v2M473 90v2M473 94v2M473 324v2M475 34v2M475 42v2M475 50v2M475 324v2M477 42v2M477 324v2M479 18v2M479 72v2M479 324v2M483 94v2"/><path stroke="#00dfff" d="M1 46v2M1 74v2M3 60v2M5 82v2M5 110v2M5 126v2M7 28v2M7 54v2M7 100v2M9 52v4M11 26v2M13 50v2M15 20v2M15 78v2M17 46v2M17 76v2M17 80v2M19 118v2M21 20v2M21 72v2M23 40v2M23 44v2M23 84v2M27 34v2M29 20v2M29 44v2M31 28v4M31 52v4M33 16v2M33 86v2M35 84v2M37 18v2M39 82v2M39 116v2M41 4v2M41 10v2M41 40v2M41 62v2M41 110v2M43 40v2M47 44v2M47 52v2M47 60v2M49 12v2M49 18v2M49 24v2M51 68v2M55 34v2M57 4v2M57 18v2M57 22v2M57 298v2M61 32v4M61 70v2M63 64v2M65 40v2M65 46v2M65 58v2M65 300v2M67 0v2M67 118v2M69 32v2M69 66v2M71 36v2M71 58v2M73 34v2M73 104v2M75 0v2M75 30v4M75 44v2M75 58v2M75 72v2M75 78v2M77 22v2M81 72v2M81 78v2M101 54v2M103 24v2M103 102v2M105 84v4M107 42v2M107 72v2M109 6v2M109 26v2M109 324v2M113 52v2M113 324v2M115 36v2M115 82v2M115 86v2M117 66v2M117 110v2M119 70v2M119 106v2M121 70v4M121 122v2M123 16v2M123 32v2M123 68v2M125 54v2M125 66v2M125 300v2M127 12v2M127 58v2M127 90v2M127 96v2M129 30v2M129 80v2M129 98v4M129 324v2M131 40v2M131 54v2M131 326v2M133 326v2M135 64v2M135 308v2M135 312v2M135 320v4M137 58v2M139 56v2M139 62v2M139 90v2M141 32v2M141 38v2M141 86v2M141 318v2M143 18v2M143 36v2M143 44v2M145 36v2M145 54v2M145 136v4M147 20v2M147 88v2M149 56v2M149 120v4M149 154v2M157 42v2M159 164v2M161 40v2M161 114v2M161 120v2M161 146v2M163 316v2M167 42v2M171 2v2M171 98v2M173 36v2M201 16v4M201 60v2M201 124v2M203 76v2M205 90v2M207 82v2M209 8v2M211 2v2M213 14v2M217 2v2M223 2v2M223 26v2M223 34v2M223 74v2M223 90v2M223 106v2M223 112v2M223 306v2M225 6v2M225 34v2M227 16v2M227 32v2M227 78v4M227 108v2M231 14v2M231 118v2M231 306v2M233 98v2M235 30v2M237 72v2M237 116v2M237 122v2M243 24v2M245 2v2M245 34v2M245 46v4M245 74v2M245 96v2M247 6v2M247 30v2M247 38v2M247 88v2M249 44v2M253 10v2M257 16v2M257 24v2M261 36v2M267 92v2M271 14v2M271 32v2M273 28v2M275 22v2M275 28v4M277 4v2M277 20v2M283 0v2M283 16v4M287 10v2M287 82v2M287 306v2M287 324v2M289 22v2M289 308v2M289 324v2M291 2v2M291 26v2M291 44v2M291 84v2M293 14v2M293 324v2M297 304v2M299 4v2M299 28v2M301 324v2M303 98v2M303 324v2M305 12v2M307 22v2M307 324v2M311 10v2M311 324v2M317 74v2M319 52v2M319 324v2M321 0v2M321 68v2M321 324v2M323 12v2M323 32v2M323 46v2M323 72v2M323 118v2M331 44v2M331 54v2M331 324v2M335 324v2M337 10v2M337 56v2M337 324v2M339 10v2M339 50v2M339 68v2M339 324v2M341 0v2M341 68v2M341 74v2M343 10v2M343 324v2M349 6v2M349 54v2M349 62v2M349 72v2M349 102v2M349 324v2M351 82v2M351 112v2M353 8v2M355 30v2M355 306v2M361 0v2M361 30v2M363 36v2M367 324v2M369 24v2M375 324v2M377 56v2M379 40v2M389 8v2M391 4v2M391 40v2M391 98v2M393 6v2M393 20v2M393 28v4M395 0v2M395 6v2M395 18v4M397 22v2M397 324v2M399 16v2M401 324v2M403 26v2M405 4v2M405 26v2M405 42v2M405 48v2M407 46v2M407 324v2M409 2v2M409 324v2M413 324v2M415 324v2M417 6v2M417 22v2M417 324v2M421 6v2M423 300v2M425 6v4M427 40v2M431 56v2M435 46v2M435 302v2M435 324v2M441 324v2M443 18v2M443 44v2M445 8v2M445 50v2M445 324v2M449 42v2M449 70v2M453 56v2M453 324v2M455 40v2M455 324v2M457 300v2M461 28v2M461 324v2M463 16v2M465 4v2M465 298v2M469 296v2M471 296v2M475 6v2M477 10v2M477 108v2M477 298v2M479 22v2M481 324v2M483 28v2M483 36v2M483 40v4M483 324v2"/><path stroke="#00efff" d="M1 36v2M1 50v2M1 70v2M3 14v2M5 28v2M5 50v4M7 4v2M7 74v4M7 102v2M9 32v2M9 70v2M11 20v2M11 38v2M11 42v2M11 68v2M13 38v2M13 42v2M15 48v2M19 32v2M19 54v2M21 6v2M21 40v2M21 46v2M23 18v2M23 52v2M23 66v2M25 20v2M25 296v2M27 30v2M27 94v2M29 0v2M31 24v2M31 46v2M31 56v2M31 108v2M33 28v2M35 70v2M37 8v2M39 30v2M39 44v2M39 60v2M41 76v2M45 30v2M47 14v6M49 60v2M51 8v2M51 24v2M53 86v2M53 298v2M55 46v2M55 52v2M57 20v2M57 48v2M57 62v2M59 26v2M59 44v2M61 8v2M61 98v2M63 2v2M63 302v2M65 64v2M65 106v2M67 22v2M67 40v2M67 60v2M67 92v4M71 60v2M75 34v2M75 42v2M75 80v2M75 94v2M77 38v2M77 44v2M77 54v2M77 62v2M77 72v2M77 298v2M81 8v2M81 40v2M81 76v2M83 6v2M83 80v2M103 58v2M105 42v2M105 62v4M105 72v2M105 324v4M107 4v2M107 44v2M107 74v2M107 298v2M109 54v2M109 326v2M111 4v2M111 324v2M113 68v2M113 298v2M113 326v2M115 40v2M117 54v2M117 90v2M119 18v2M119 68v2M119 298v2M121 10v2M121 46v2M121 50v2M123 18v2M123 24v2M125 14v2M125 46v2M125 68v2M125 74v4M127 8v2M127 64v4M127 76v2M127 302v2M137 26v2M137 312v4M137 318v2M139 52v2M139 68v2M141 12v2M143 30v2M145 120v2M147 34v2M147 72v2M147 120v2M149 74v2M149 126v2M151 70v2M153 120v2M155 132v2M157 120v2M159 116v4M159 130v2M161 148v2M161 300v4M163 32v2M163 302v4M163 314v2M169 42v2M169 114v2M171 18v2M171 22v2M173 20v2M173 112v2M203 2v2M203 78v2M207 92v2M209 104v2M211 28v2M211 36v2M211 112v2M213 8v2M213 12v2M213 30v2M213 102v2M221 8v2M221 32v2M223 6v2M223 18v2M223 58v2M223 86v2M225 20v2M227 6v2M227 72v2M229 16v2M229 32v2M233 80v2M235 4v2M235 20v4M235 28v2M237 70v2M237 302v2M239 2v2M243 88v2M245 84v2M247 36v2M249 10v4M251 10v2M251 58v2M251 304v2M255 18v2M257 2v2M257 306v2M259 20v4M267 8v2M267 24v4M271 24v2M275 8v2M275 26v2M277 28v2M285 28v2M287 44v2M287 52v2M287 86v2M291 14v2M291 46v2M291 104v2M295 14v2M295 32v2M297 16v2M299 102v2M301 14v2M301 308v2M305 0v2M305 20v2M305 68v2M305 74v2M305 324v2M307 50v2M307 90v2M309 80v2M309 324v2M321 14v2M321 48v2M321 82v2M323 16v2M323 64v2M323 96v2M325 30v2M325 38v2M325 56v2M325 64v2M325 76v2M325 304v2M331 0v2M331 32v2M331 60v2M333 24v2M335 8v2M335 306v2M339 6v2M341 24v6M341 108v2M343 14v2M345 12v4M347 6v2M347 38v2M347 304v2M349 18v2M349 42v4M349 86v2M349 100v2M349 306v2M353 14v2M353 66v2M355 68v2M357 304v2M359 324v2M361 2v2M363 40v2M363 98v2M363 102v2M365 324v2M367 42v2M369 70v2M369 94v2M369 324v2M371 26v2M371 324v2M373 324v2M375 78v2M377 20v2M377 52v2M377 324v2M389 6v2M389 84v4M391 324v2M393 18v2M393 324v2M395 10v2M395 42v2M395 324v2M397 20v2M399 4v2M401 100v2M401 304v2M403 324v2M405 36v2M405 304v2M407 4v2M409 26v2M411 14v2M415 10v2M419 34v2M419 54v2M419 324v2M423 78v2M425 324v2M427 24v2M427 42v2M427 60v2M429 44v2M429 50v2M431 8v2M431 16v2M433 30v2M435 14v2M437 324v2M439 324v2M447 324v2M449 324v2M451 48v2M453 30v2M455 16v2M457 324v2M461 14v2M463 298v2M469 324v2M473 16v2M475 44v2M475 78v2M477 32v2M479 8v4M481 42v2"/><path stroke="#00ffff" d="M1 6v2M1 40v2M3 22v2M3 34v4M5 18v2M5 26v2M7 10v2M11 18v2M13 32v2M15 14v2M15 50v2M15 60v2M17 20v2M19 34v2M19 56v2M19 80v2M23 48v2M23 56v2M25 106v2M31 26v2M31 38v2M31 44v2M33 20v2M39 48v2M39 52v2M41 22v2M45 88v2M49 10v2M49 26v2M49 44v2M49 48v2M51 32v2M55 10v2M57 0v2M59 42v2M61 2v2M61 96v2M61 100v2M63 16v2M67 52v2M67 298v2M69 34v2M69 50v2M71 8v2M71 16v2M71 298v2M75 38v2M75 50v2M77 52v2M77 78v2M79 44v4M83 296v2M105 0v2M105 48v2M105 66v4M107 20v2M107 46v2M107 60v2M107 76v2M107 320v2M109 64v2M111 76v2M113 54v2M113 70v2M115 62v2M115 84v2M117 82v2M119 16v2M119 28v2M121 56v2M123 10v2M123 30v2M125 12v2M125 60v2M127 56v2M127 82v2M129 34v2M129 50v2M129 54v6M129 82v2M129 88v2M129 304v2M131 46v2M131 56v2M133 38v2M133 310v2M135 26v2M135 318v2M137 308v4M137 316v2M141 10v2M141 24v4M143 50v4M145 56v2M145 106v2M147 46v2M149 76v2M149 136v2M153 116v2M157 44v2M161 46v2M161 314v2M163 40v2M163 306v2M167 18v2M167 94v2M173 30v2M173 44v2M201 20v2M209 24v2M209 98v2M211 88v2M211 100v2M213 6v2M213 24v2M213 48v2M215 34v2M215 306v2M217 0v2M219 0v2M219 12v6M219 34v2M221 56v2M223 84v2M225 10v2M225 56v2M225 100v2M225 306v2M227 24v2M227 60v2M229 80v2M229 90v2M231 28v2M231 74v2M231 88v2M233 100v2M233 304v2M235 6v2M235 62v2M237 8v2M239 102v2M241 94v2M241 102v2M241 106v2M243 86v2M243 308v2M245 10v2M251 18v2M253 12v2M255 8v2M261 14v2M263 34v2M267 0v2M267 6v2M271 16v2M275 24v2M279 18v2M281 12v6M285 18v2M285 50v2M285 80v2M287 68v2M291 102v2M293 72v2M297 24v2M297 324v2M299 54v2M299 324v2M301 16v4M305 16v2M311 44v2M317 324v2M319 14v2M319 58v2M321 34v2M321 56v2M321 304v2M323 8v2M323 304v2M331 30v2M333 76v2M337 46v2M341 18v2M341 36v2M341 46v2M341 70v2M343 20v2M347 50v4M351 28v2M351 60v2M353 324v2M359 304v2M361 32v2M361 76v2M363 86v2M375 302v2M389 78v2M389 324v2M391 38v2M391 302v2M397 0v2M397 16v2M397 304v2M399 12v2M399 304v2M405 22v2M405 90v2M407 6v2M407 304v2M415 18v2M415 98v2M417 78v2M419 84v2M429 30v2M429 324v2M433 28v2M433 40v2M433 304v2M437 20v2M437 24v2M437 302v2M441 16v2M443 302v2M449 8v2M451 52v2M451 302v2M453 70v2M455 10v2M455 302v2M457 14v2M459 324v2M461 10v2M461 62v2M461 70v2M461 300v2M465 50v2M469 32v2M481 22v4M481 76v2"/><path stroke="#10ffef" d="M1 26v2M1 68v2M5 6v4M5 12v2M5 20v2M5 298v2M7 34v2M7 40v2M7 56v2M7 298v2M9 24v2M9 88v2M11 16v2M13 64v2M17 78v2M19 60v2M21 52v2M23 36v2M23 50v2M23 70v2M23 74v2M27 0v2M27 20v4M31 2v2M31 66v2M33 30v2M35 8v2M35 14v2M35 74v2M35 82v2M37 64v2M39 50v2M39 68v2M41 66v2M43 10v2M43 24v2M43 84v2M43 300v2M47 42v2M47 48v2M49 22v2M49 76v2M51 10v2M51 20v2M51 40v2M51 56v2M57 24v2M61 10v2M61 20v2M61 26v2M61 44v2M61 56v2M63 30v2M65 22v2M65 54v2M67 2v2M67 24v2M67 74v2M73 0v2M73 54v2M73 66v2M75 12v2M75 54v4M75 64v2M77 0v2M79 2v2M81 4v2M81 50v2M81 66v2M83 12v2M101 42v4M101 58v4M101 86v2M103 30v2M105 54v4M107 12v2M107 40v2M107 48v2M107 58v2M107 322v2M109 14v2M113 48v2M115 50v2M115 320v4M117 44v2M117 60v2M119 40v2M121 298v2M123 4v2M125 24v2M125 34v4M125 44v2M125 322v2M127 2v2M127 48v2M129 64v4M129 72v2M131 32v2M131 312v6M133 44v2M133 312v2M133 316v4M135 314v2M137 24v2M139 46v4M139 54v2M143 16v2M145 32v2M145 108v2M145 124v2M147 18v2M147 50v2M147 90v2M149 66v2M149 132v2M153 74v2M153 122v6M157 46v2M157 112v2M161 304v2M161 310v4M161 316v4M163 16v2M163 122v2M163 300v2M163 308v2M163 312v2M165 44v2M167 16v2M169 36v2M169 84v2M171 14v4M173 18v2M173 50v2M205 82v2M209 72v2M217 306v2M219 26v2M219 306v2M221 22v2M223 88v2M223 92v2M225 8v2M225 22v2M231 46v2M233 2v2M235 46v2M235 82v2M235 302v2M237 6v2M237 24v2M239 74v2M243 0v2M243 6v2M243 22v2M247 22v4M251 4v2M253 20v2M263 308v2M265 6v2M265 42v2M267 68v2M273 18v4M273 26v2M275 20v2M275 48v2M277 2v2M279 2v2M279 62v2M283 28v2M285 22v2M289 80v2M291 76v4M295 6v2M299 306v2M307 0v2M307 12v2M317 14v4M317 24v2M319 40v2M323 26v2M323 56v2M323 88v2M325 324v2M329 6v2M329 16v2M331 308v2M333 14v2M333 62v2M337 58v2M339 20v2M339 52v2M339 76v2M339 80v2M341 78v2M345 32v2M347 8v2M349 0v2M349 24v2M349 28v2M353 38v2M355 96v2M361 92v2M363 10v4M363 52v2M365 4v2M365 22v2M367 14v2M367 38v2M371 34v2M375 0v2M375 26v2M375 30v2M375 34v2M377 14v2M377 60v2M389 74v2M389 302v2M391 10v2M391 24v2M391 34v2M393 2v2M393 16v2M397 2v2M397 10v2M403 32v2M403 88v2M409 4v2M411 2v2M411 300v2M413 300v2M419 24v2M419 68v2M419 82v2M421 300v2M423 22v2M427 302v2M429 24v2M429 28v2M431 84v2M435 42v2M439 20v2M443 24v2M447 6v2M453 0v2M453 58v2M453 302v2M455 18v2M455 22v2M461 60v2M461 64v2M463 54v2M465 56v2M471 14v2M473 28v2M475 72v2M477 24v2M477 40v2M483 26v2M483 38v2"/><path stroke="#20ffdf" d="M5 10v2M5 14v4M5 24v2M5 30v4M5 42v2M5 58v2M7 48v2M9 36v2M9 46v2M11 22v2M11 40v2M11 70v2M15 300v2M19 12v2M19 20v2M21 12v2M21 54v6M21 66v2M23 68v2M27 38v2M27 296v2M29 64v2M29 296v2M31 70v2M31 296v2M33 38v2M35 16v2M37 30v2M37 54v2M39 4v2M39 76v2M41 24v2M41 30v2M41 36v2M41 42v2M41 60v2M43 2v2M43 22v2M43 76v2M45 48v2M45 58v2M47 58v2M47 66v2M47 300v2M49 20v2M49 42v2M51 0v2M51 4v4M51 22v2M51 62v2M51 66v2M53 22v2M57 26v2M57 42v2M59 32v2M61 16v2M61 38v2M61 52v2M61 62v2M63 56v2M63 74v2M65 20v2M65 62v2M67 30v2M67 36v2M69 20v2M69 298v2M71 26v4M73 38v2M75 28v2M75 46v2M75 60v2M75 300v2M77 42v2M79 34v2M79 62v2M81 24v2M81 44v2M81 70v2M83 30v2M83 52v2M101 72v4M103 46v2M103 62v2M103 320v2M105 58v4M105 70v2M105 300v2M107 68v2M109 12v2M109 34v2M109 62v2M109 298v2M111 18v2M113 38v2M113 320v2M115 28v2M117 22v2M117 64v2M121 38v2M121 44v2M121 62v2M121 320v2M123 34v2M123 64v4M123 298v2M125 0v2M129 48v2M129 52v2M129 308v8M131 0v2M131 8v2M131 18v2M131 62v2M131 310v2M131 318v2M133 314v2M135 52v2M135 58v2M135 316v2M137 16v4M137 70v2M139 6v2M139 38v2M139 50v2M139 58v2M141 22v2M141 64v2M145 58v2M145 86v2M145 104v2M147 0v2M147 36v2M147 142v2M149 124v2M149 134v2M149 150v2M151 120v2M153 114v2M153 128v4M155 78v2M157 80v2M159 46v2M159 128v2M161 92v2M161 124v2M161 306v4M161 320v4M163 34v2M163 100v2M163 310v2M167 20v2M169 12v2M171 6v2M171 32v2M199 86v2M205 2v2M207 90v2M209 12v2M209 22v2M211 6v2M211 16v2M211 30v2M211 74v2M213 10v2M217 22v2M217 34v2M223 32v2M225 0v2M227 22v2M227 34v2M227 56v2M227 68v2M229 30v2M235 2v2M235 24v2M235 32v2M237 36v2M239 22v2M243 4v2M243 20v2M243 26v4M245 8v2M245 12v2M249 24v2M251 16v2M257 22v2M263 6v4M263 14v2M265 12v2M265 28v2M265 32v2M265 306v2M267 2v2M267 44v2M267 76v2M271 36v2M273 4v4M275 0v2M279 16v2M285 68v2M285 306v2M287 2v6M287 26v2M287 72v2M287 78v2M289 4v2M289 20v2M293 38v2M297 14v2M301 8v2M305 62v2M307 44v2M309 12v2M309 60v2M311 40v2M315 22v2M317 38v2M319 304v2M323 28v2M323 40v2M329 24v2M329 310v2M331 26v2M339 26v2M341 62v2M341 310v2M345 56v2M349 12v2M349 46v2M349 70v2M353 58v2M355 14v2M357 40v2M363 4v2M363 26v2M363 60v2M363 306v2M365 16v2M365 70v2M367 302v2M369 14v2M369 60v2M373 28v2M375 36v2M377 16v2M379 304v2M389 4v2M389 32v2M389 76v2M391 16v2M391 30v2M393 14v2M393 22v2M395 26v2M395 76v4M399 6v6M403 44v2M405 14v2M405 30v2M409 10v2M411 12v2M413 52v2M419 18v2M419 44v4M429 304v2M437 34v2M439 302v2M441 302v2M443 4v2M447 302v2M449 302v2M453 8v4M461 68v2M461 72v2M465 0v2M465 76v2M473 4v2M473 30v2M473 64v2M475 52v2M477 22v2M479 34v2M481 12v2M483 66v2"/><path stroke="#30ffcf" d="M1 32v2M3 62v2M5 22v2M5 36v2M5 40v2M5 54v2M7 2v2M7 64v2M9 30v2M9 48v4M13 28v2M13 36v2M13 52v2M15 52v2M15 74v2M17 28v2M19 14v2M19 302v2M21 60v2M23 4v2M23 8v2M25 6v2M25 30v2M31 36v2M31 60v2M35 10v2M35 62v2M35 68v2M35 298v2M39 46v2M39 300v2M41 18v2M41 28v2M41 32v2M45 22v2M45 46v2M45 52v4M47 20v2M47 46v2M47 64v2M49 2v2M49 16v2M49 38v4M49 46v2M49 300v2M51 28v2M51 44v2M51 64v2M55 298v2M61 22v2M63 18v2M63 42v2M63 46v2M65 10v2M67 32v2M69 0v2M69 30v2M69 38v2M69 60v4M71 0v2M73 300v2M75 36v2M77 12v2M77 18v2M77 64v2M79 28v2M83 70v2M101 298v2M103 32v2M103 48v2M103 52v2M103 322v2M105 44v2M107 64v2M109 24v2M109 44v2M109 60v2M111 320v2M113 16v4M113 322v2M115 48v2M115 52v2M117 46v2M117 56v2M117 68v4M117 84v2M117 300v2M117 320v2M119 10v2M119 30v2M119 54v2M121 0v2M121 32v2M121 48v2M121 322v2M123 20v2M123 38v2M125 2v2M125 32v2M125 42v2M125 320v2M127 50v2M127 62v2M127 308v4M127 316v2M127 322v2M129 70v2M129 316v4M131 34v2M131 42v2M131 70v2M131 306v2M133 36v2M133 66v2M133 322v2M135 68v2M139 22v2M141 14v2M141 48v2M141 76v2M143 14v2M145 84v2M145 102v2M149 54v2M151 122v2M153 112v2M155 102v2M155 116v2M157 40v2M157 78v2M161 88v4M163 6v2M163 18v2M163 124v2M171 0v2M173 32v2M173 54v2M197 88v2M201 64v2M203 6v2M213 4v2M213 22v2M213 50v2M219 18v2M221 54v2M221 306v2M223 8v2M225 18v2M225 68v2M229 0v2M229 56v2M233 54v2M237 2v2M241 32v2M243 2v2M247 10v2M249 306v2M251 12v2M253 304v2M255 2v2M255 36v2M259 14v2M267 62v2M267 306v2M275 44v2M277 16v2M279 14v2M283 14v2M283 44v2M287 34v2M291 62v2M293 2v2M293 8v2M299 14v2M307 26v2M307 306v2M311 4v2M311 52v2M315 28v2M319 28v2M325 4v2M325 46v2M327 38v2M327 42v2M337 8v2M337 36v2M339 38v2M339 42v2M341 44v2M343 34v2M343 40v2M343 308v2M345 20v2M351 62v2M351 308v2M353 2v2M353 28v2M353 308v2M361 306v2M367 10v2M367 48v2M369 16v2M371 60v2M379 10v2M391 22v2M391 26v2M393 12v2M395 304v2M397 4v2M399 26v2M401 48v2M401 64v2M403 6v2M403 304v2M405 24v2M407 56v2M409 304v2M413 6v2M417 16v2M417 24v2M419 50v4M427 38v2M429 14v2M437 12v2M445 24v2M447 24v2M449 0v2M451 34v2M463 68v2M473 42v4M475 0v2M477 26v2M477 44v2M479 36v2M481 50v2M481 302v2M483 0v2M483 18v2"/><path stroke="#40ffbf" d="M1 22v2M1 298v2M3 2v2M3 32v2M3 42v2M7 52v2M11 0v2M11 24v2M11 302v2M13 44v2M15 24v2M17 302v2M21 28v2M21 48v2M21 62v2M23 54v2M27 26v4M29 22v2M29 50v2M33 4v2M37 2v4M39 56v2M41 34v2M41 38v2M43 32v2M45 4v4M45 302v2M47 0v2M49 14v2M53 20v2M59 302v2M61 302v2M63 20v2M63 28v2M63 38v4M65 56v2M67 8v2M67 12v2M67 56v2M69 2v2M69 10v2M69 40v2M69 48v2M73 64v2M75 48v2M77 2v2M77 40v2M79 12v2M81 22v2M81 296v2M83 20v2M83 32v2M83 54v2M101 320v2M103 14v2M103 26v2M103 34v2M103 60v2M103 300v2M105 10v2M105 22v2M105 34v8M107 10v2M107 62v2M109 16v2M109 36v2M109 320v4M111 50v2M111 56v2M111 64v2M113 34v2M115 64v2M115 74v2M117 26v2M117 86v4M117 322v2M119 44v2M119 322v2M121 36v2M125 62v4M125 304v2M127 306v2M127 312v4M127 318v4M129 20v2M129 76v2M129 320v2M131 58v2M131 308v2M131 320v4M133 320v2M135 50v2M137 4v2M137 14v2M137 42v2M141 36v2M141 62v2M143 24v2M145 82v2M145 110v2M145 114v2M147 4v2M147 26v2M147 44v2M147 54v2M149 118v2M149 152v2M151 118v2M155 76v2M159 112v4M159 120v2M161 84v2M161 94v2M161 104v2M163 30v2M163 50v2M165 40v2M167 22v2M171 84v2M197 0v2M197 70v2M201 70v2M211 92v2M215 66v2M221 18v2M221 34v2M225 24v2M227 18v2M229 14v2M233 10v2M233 62v2M235 26v2M237 0v2M237 16v2M241 42v2M245 308v2M247 26v4M247 308v2M249 38v2M251 8v2M251 14v2M251 22v2M253 18v2M255 4v4M255 26v2M257 20v2M259 34v2M261 24v2M261 38v2M261 308v2M263 20v2M265 8v2M265 20v2M269 40v2M271 18v2M275 32v2M277 0v2M281 64v2M283 30v2M283 66v2M285 14v2M285 40v2M305 308v2M309 22v2M311 60v2M313 66v2M313 322v2M317 50v2M319 36v2M319 54v2M323 66v2M325 18v2M325 28v2M329 12v2M331 22v2M333 10v2M333 308v2M339 56v2M341 56v2M343 6v2M343 36v2M345 306v2M349 32v2M353 20v2M365 20v2M369 40v2M373 304v2M379 4v2M389 0v2M389 18v2M391 2v2M391 36v2M393 26v2M395 12v2M397 50v2M403 14v2M403 46v2M407 14v2M409 18v2M411 0v2M419 56v2M421 14v2M421 38v2M427 18v2M429 40v2M439 18v2M445 32v2M447 0v2M451 36v2M459 302v2M463 22v2M463 52v2M465 2v2M465 14v2M467 300v2M473 0v2M475 48v2M475 54v2M475 298v2M479 28v2M479 302v2"/><path stroke="#50ffaf" d="M3 12v2M3 30v2M3 38v2M3 298v2M7 12v4M7 24v2M9 2v2M9 26v4M13 56v4M15 16v2M15 40v2M15 54v2M17 36v2M21 18v2M21 26v2M21 50v2M21 302v2M25 16v2M27 24v2M29 4v2M31 62v2M33 12v2M33 298v2M35 36v2M39 12v2M39 38v2M41 2v2M41 20v2M47 10v4M47 70v2M51 2v2M51 34v2M51 300v2M53 24v2M61 6v2M65 4v2M65 26v2M69 42v2M73 28v2M75 10v2M79 298v2M81 30v2M83 0v2M83 4v2M83 18v2M83 28v2M101 0v2M101 322v2M103 28v2M105 322v2M109 2v2M111 6v2M111 58v2M111 322v2M113 60v2M115 42v2M115 300v2M119 42v2M119 46v2M119 320v2M121 30v2M121 58v4M123 22v2M123 40v2M123 320v4M125 4v2M125 306v6M127 4v2M127 24v2M127 32v4M129 4v2M129 322v2M141 16v2M141 40v2M143 0v2M145 2v2M145 112v2M147 74v2M147 106v2M147 140v2M149 96v2M153 108v4M159 110v2M161 48v2M161 86v2M161 122v2M163 108v2M165 30v2M165 84v2M167 36v2M171 8v2M199 70v2M211 18v2M213 26v2M213 308v2M215 14v2M215 58v2M217 28v2M217 66v2M219 20v2M221 58v2M223 12v2M229 4v2M233 8v2M235 8v2M235 18v2M243 52v2M245 4v2M247 8v2M249 20v2M251 20v2M259 8v2M259 32v2M259 44v2M263 16v4M263 22v2M269 32v2M271 22v2M275 14v2M279 10v2M281 6v2M283 24v2M285 24v2M293 0v2M293 18v2M293 32v2M293 308v2M295 306v2M303 16v2M313 56v2M313 308v2M317 20v2M319 2v2M321 24v2M325 10v2M331 12v2M333 322v2M335 14v2M337 44v2M337 308v2M339 310v2M341 12v2M345 34v2M353 32v2M361 322v2M369 302v2M371 304v2M375 40v2M389 2v2M389 10v2M389 16v2M389 30v2M391 18v4M391 28v2M393 0v2M393 8v2M403 22v2M405 50v2M411 26v2M417 302v2M419 0v2M419 22v2M419 26v2M421 22v2M423 18v2M425 12v2M425 36v2M425 56v2M425 302v2M433 32v2M445 304v2M455 14v2M471 322v2M473 298v2M475 10v2M475 20v2M479 0v2M479 6v2M479 24v2"/><path stroke="#60ff9f" d="M3 24v2M7 18v2M9 20v2M9 300v2M9 316v2M11 2v2M11 304v2M13 30v2M13 54v2M15 12v2M15 46v2M17 30v6M17 316v6M21 4v2M21 24v2M21 38v2M21 64v2M23 300v2M27 312v2M31 64v2M35 2v2M37 20v2M37 28v2M37 300v2M39 16v2M39 28v2M41 0v2M43 34v2M45 24v2M49 28v2M49 36v2M51 16v4M55 12v2M57 300v2M61 18v2M67 10v2M69 24v2M69 28v2M69 36v2M73 18v2M73 36v2M75 22v2M75 62v2M77 8v2M79 26v2M81 20v2M81 32v2M83 2v2M83 14v2M83 22v2M101 66v2M103 2v4M105 12v2M105 46v2M105 320v2M109 52v2M111 42v2M111 48v2M111 62v2M113 0v2M115 60v2M117 38v2M117 52v2M119 14v2M119 26v2M119 48v2M121 8v2M121 12v2M121 28v2M121 34v2M123 36v2M123 306v2M125 302v2M127 18v2M127 22v2M127 28v4M129 2v2M129 28v2M129 42v2M131 6v2M131 28v2M131 44v2M135 2v2M135 30v2M137 20v2M137 48v4M139 10v4M139 36v2M141 2v2M141 8v2M141 42v2M141 74v2M145 40v2M145 88v2M145 122v2M147 22v2M147 42v2M147 52v2M147 104v2M147 112v2M147 118v2M149 94v2M153 72v2M157 82v2M157 104v2M159 48v2M163 36v4M165 42v2M167 24v2M169 2v2M173 4v2M173 24v2M173 34v2M201 326v2M203 90v2M211 4v2M211 62v2M213 28v2M215 8v2M215 32v2M219 24v2M221 4v2M223 10v2M223 14v4M223 60v2M223 326v2M225 30v2M229 48v2M231 4v2M231 62v2M235 34v2M235 70v2M237 32v2M239 306v2M241 308v2M249 14v2M255 0v2M259 58v2M259 308v2M261 8v2M261 16v2M261 58v2M265 10v2M265 36v4M267 4v2M271 20v2M271 58v2M273 8v2M273 14v2M273 24v2M275 16v4M277 18v2M277 30v2M279 60v2M281 18v2M281 34v2M283 12v2M283 26v2M285 322v2M289 68v2M291 0v2M291 10v2M291 30v2M291 310v2M295 322v2M297 12v2M297 320v2M303 310v2M307 322v2M309 306v2M311 16v2M311 24v2M313 20v2M315 18v2M315 34v2M315 56v2M315 322v2M319 12v2M321 16v2M323 22v2M327 306v2M331 8v2M333 4v2M347 26v2M353 16v2M355 322v2M357 22v2M363 322v2M365 12v2M375 24v2M375 322v2M377 304v2M379 20v2M389 28v2M391 0v2M393 10v2M393 304v2M395 8v2M397 6v2M401 322v2M403 10v2M409 322v2M411 322v2M413 18v2M415 2v2M415 302v2M421 322v2M431 306v2M433 4v2M433 322v2M443 8v2M443 322v2M457 18v2M465 322v2M467 322v2M469 0v2M475 322v2M479 4v2M479 14v2M479 30v2M483 302v2"/><path stroke="#70ff8f" d="M1 306v4M3 304v6M5 56v2M7 22v2M7 310v4M9 314v2M9 318v4M11 314v6M13 60v4M13 302v2M15 18v2M15 32v2M15 38v2M15 58v2M15 306v2M19 24v2M19 318v4M21 314v8M23 304v4M25 308v4M27 36v2M27 304v4M27 318v4M29 312v4M31 310v2M35 12v2M39 14v2M41 300v2M43 4v2M47 2v2M47 56v2M49 0v2M51 12v2M57 8v2M65 16v2M67 4v2M73 20v2M73 56v2M73 62v2M75 2v2M77 6v2M77 10v2M79 18v2M83 16v2M83 24v2M83 320v2M101 52v2M101 70v2M103 42v2M103 50v2M109 0v2M109 8v2M109 22v2M109 46v2M111 44v2M111 60v2M113 66v2M115 34v2M115 68v2M117 36v2M117 42v2M117 58v2M119 24v2M121 2v2M121 300v2M123 42v2M123 300v6M123 308v2M125 48v2M125 312v2M125 318v2M127 6v2M127 26v2M127 304v2M129 6v2M129 26v2M129 74v2M131 10v2M131 26v2M131 30v2M131 38v2M133 10v2M133 40v2M133 308v2M135 14v2M135 36v2M137 22v2M137 32v2M137 52v2M137 56v2M139 8v2M141 28v2M141 70v2M145 0v2M145 30v2M145 38v2M145 80v2M147 16v2M147 28v2M147 86v2M147 108v4M147 126v2M149 52v2M151 98v2M155 100v2M155 112v2M157 102v2M159 102v4M159 122v2M159 126v2M161 102v2M161 106v2M161 112v2M163 20v2M165 8v2M171 12v2M171 30v2M173 28v2M207 326v2M213 16v2M213 326v2M219 66v2M221 20v2M221 50v4M221 326v2M223 28v2M225 60v2M227 20v2M227 326v2M231 12v2M231 308v2M237 4v2M237 14v2M237 18v6M241 2v2M241 22v2M245 14v2M249 22v2M249 52v2M249 326v2M255 306v2M257 18v2M257 326v2M259 26v2M261 18v2M263 28v2M265 0v2M265 4v2M265 34v2M269 10v2M273 36v4M279 38v2M281 10v2M285 48v2M289 322v2M291 322v2M297 322v2M301 322v2M309 2v2M309 6v4M309 322v2M311 306v2M313 64v2M313 320v2M315 62v2M315 310v2M323 10v2M323 322v2M329 322v2M331 322v2M335 322v2M337 2v2M337 322v2M339 0v2M339 322v2M341 322v2M347 322v2M351 4v2M351 322v2M361 6v2M365 2v2M365 306v2M379 322v2M397 8v2M405 2v2M405 322v2M407 322v2M413 322v2M427 322v2M429 60v2M431 322v2M435 304v2M435 322v2M437 322v2M441 322v2M445 322v2M453 322v2M457 322v2M463 322v2M469 298v2M481 14v2"/><path stroke="#80ff80" d="M1 300v2M1 310v4M1 320v2M3 4v4M3 10v2M3 26v4M3 40v2M3 52v2M3 300v4M7 306v4M7 314v2M9 18v2M9 306v2M9 312v2M11 306v2M11 312v2M11 320v2M13 314v2M13 320v2M15 304v2M15 308v2M15 320v2M17 314v2M19 306v4M19 314v4M21 14v2M21 304v2M23 302v2M23 308v2M25 304v4M27 308v4M27 314v2M29 298v4M29 306v6M31 20v2M31 300v4M31 306v4M31 312v2M33 314v2M47 34v2M47 40v2M49 4v2M49 8v2M51 30v2M63 22v2M63 304v2M65 302v2M69 4v2M77 300v2M81 2v2M81 68v2M103 0v2M105 6v4M105 28v2M107 318v2M109 50v2M111 298v2M113 14v2M113 300v4M115 46v2M115 54v2M117 28v4M117 48v2M119 20v2M119 300v2M121 302v2M121 306v4M123 310v2M125 26v2M125 30v2M125 314v4M129 0v2M131 60v2M133 24v2M133 50v2M133 64v2M135 12v2M135 34v2M135 56v2M139 40v2M139 60v2M139 78v2M141 4v4M141 46v2M141 50v2M141 54v4M141 60v2M141 66v2M145 22v2M145 98v2M149 30v2M149 40v2M149 104v2M153 98v2M153 106v2M155 114v2M157 84v2M163 14v2M163 116v2M169 8v2M171 10v2M197 326v2M211 326v2M215 20v2M217 326v2M219 22v2M219 58v2M219 326v2M223 48v2M229 24v2M229 326v2M231 326v2M233 4v4M235 0v2M237 10v2M237 326v2M241 30v2M245 6v2M247 326v2M249 18v2M259 0v2M259 12v2M259 38v2M259 46v2M261 326v2M263 42v2M265 326v2M269 34v2M269 326v2M271 12v2M273 22v2M273 40v2M275 50v2M275 56v2M279 0v2M281 8v2M287 322v2M293 322v2M295 320v2M299 322v2M305 322v2M307 320v2M311 322v2M315 68v2M315 320v2M317 310v2M319 322v2M327 322v2M333 320v2M343 322v2M345 322v2M349 308v2M349 322v2M353 322v2M355 308v2M357 322v2M359 322v2M371 322v2M373 322v2M375 320v2M379 2v2M389 12v2M391 322v2M393 24v2M403 0v2M419 302v2M419 322v2M423 322v2M429 322v2M437 320v2M439 322v2M451 322v2M457 320v2M461 322v2M465 300v2M467 320v2M471 298v2M471 320v2M473 322v2M477 322v2M479 322v2"/><path stroke="#8fff70" d="M1 16v2M1 44v2M1 302v4M1 314v6M3 44v2M3 310v2M5 300v2M5 304v10M5 320v2M7 304v2M7 316v4M9 304v2M9 308v4M13 308v6M13 316v4M15 56v2M15 314v6M17 304v4M19 22v2M19 304v2M19 310v4M21 16v2M21 306v2M21 312v2M23 6v2M23 20v2M23 24v2M25 312v10M27 298v2M27 302v2M27 316v2M29 302v4M29 316v6M31 22v2M31 298v2M31 304v2M31 314v2M33 308v6M33 316v2M37 302v2M41 320v2M45 320v2M47 30v4M49 30v2M51 36v4M53 300v2M53 318v2M57 302v2M59 318v2M69 300v2M69 318v2M71 300v2M73 2v2M73 22v2M75 14v2M77 4v2M79 30v2M79 308v4M81 10v2M81 26v2M81 38v2M81 326v2M83 298v2M83 318v2M101 2v2M101 300v2M107 50v4M107 300v2M109 300v2M109 304v2M109 308v2M111 46v2M113 32v2M113 304v2M113 310v2M113 318v2M115 26v2M115 44v2M115 66v2M115 318v2M117 32v2M117 302v2M117 314v2M119 6v2M119 52v2M119 308v4M121 304v2M121 310v2M121 316v4M123 44v2M125 6v2M125 16v2M125 22v2M129 18v2M129 24v2M129 46v2M129 306v2M131 24v2M133 26v2M133 42v2M135 38v2M135 44v2M135 54v2M139 16v2M141 58v2M145 24v2M145 92v2M147 38v4M147 76v2M147 102v2M147 114v2M147 128v2M149 98v2M149 102v2M149 116v2M151 96v2M151 104v2M151 116v2M153 96v2M155 104v2M157 90v2M159 40v2M163 112v4M167 10v2M169 26v2M173 16v2M173 26v2M199 326v2M203 4v2M203 326v2M205 326v2M209 326v2M211 20v4M211 60v2M213 90v2M215 326v2M223 68v2M225 36v2M227 14v2M229 12v2M229 28v2M229 70v2M233 70v2M233 326v2M237 304v2M239 0v2M239 326v2M241 326v2M245 16v2M245 326v2M251 6v2M253 326v2M255 28v2M255 58v2M259 10v2M259 326v2M261 44v2M263 26v2M263 326v2M267 326v2M271 326v2M275 34v2M275 38v2M279 12v2M281 0v2M281 32v2M283 36v2M285 46v2M285 320v2M287 308v2M289 310v2M289 320v2M291 320v2M297 306v2M299 320v2M301 310v2M301 320v2M303 322v2M309 320v2M311 320v2M321 322v2M325 306v2M329 320v2M335 320v2M337 320v2M347 306v2M347 320v2M355 320v2M367 322v2M373 320v2M375 304v2M377 320v4M379 320v2M389 322v2M391 14v2M401 306v2M405 306v2M415 322v2M417 322v2M421 320v2M423 302v2M425 322v2M429 320v2M431 320v2M435 320v2M439 320v2M443 320v2M445 320v2M447 322v2M449 322v2M455 322v2M457 302v2M459 322v2M463 300v2M463 320v2M465 320v2M469 322v2M475 320v2M477 300v2M481 322v2M483 322v2"/><path stroke="#9fff60" d="M1 28v2M5 302v2M5 314v2M5 326v2M7 20v2M7 300v4M7 320v2M9 302v2M11 308v4M13 304v4M15 42v2M15 302v2M15 310v4M17 308v6M21 34v2M23 310v2M23 314v8M23 324v4M25 298v6M25 324v4M27 300v2M31 316v2M31 320v2M31 324v4M33 300v4M33 306v2M35 300v2M37 304v2M37 318v2M39 302v2M41 318v2M43 8v2M45 304v2M45 318v2M47 8v2M47 54v2M47 68v2M47 320v2M51 302v4M51 318v2M53 320v2M53 326v2M57 304v2M59 304v2M61 304v2M61 320v2M63 26v2M67 300v2M69 8v2M69 16v2M69 44v2M69 302v4M69 320v2M73 302v2M73 326v2M75 302v2M79 32v2M79 302v6M79 312v2M79 318v4M81 18v2M81 34v2M81 318v4M83 26v2M83 306v2M101 302v4M101 310v10M103 310v4M105 20v2M105 302v2M105 310v4M107 38v2M107 304v4M107 312v6M109 10v2M109 18v2M109 302v2M109 306v2M109 310v4M111 12v2M111 20v2M111 30v2M111 40v2M111 318v2M113 26v2M113 306v4M113 312v6M115 30v2M115 70v2M115 314v4M117 304v2M117 312v2M117 316v4M119 302v6M119 312v6M121 312v4M123 312v2M127 20v2M129 22v2M131 20v2M133 8v2M133 34v2M135 0v2M137 54v2M139 24v2M139 70v2M141 30v2M141 44v2M141 52v2M141 72v2M145 20v2M149 78v4M149 110v6M151 102v2M151 114v2M153 88v2M153 104v2M155 80v2M155 110v2M157 106v2M159 100v2M159 106v2M159 124v2M163 26v4M163 110v2M165 28v2M169 22v2M215 12v2M215 308v2M219 10v2M219 308v2M221 6v2M223 308v2M225 26v2M225 308v2M225 326v2M227 48v2M229 10v2M233 20v2M233 306v2M235 14v2M235 304v2M239 44v2M239 52v2M247 54v2M251 306v2M255 34v2M257 308v2M261 20v2M263 40v2M265 2v2M269 12v2M273 16v2M275 40v4M275 52v2M287 320v2M293 320v2M305 320v2M317 322v2M319 320v2M321 306v2M323 306v2M323 320v2M325 322v2M331 320v2M335 308v2M339 320v2M341 320v2M343 320v2M353 320v2M357 306v2M359 306v2M365 322v2M367 320v2M369 322v2M371 320v2M389 304v2M397 306v2M403 322v2M407 306v2M411 320v2M417 320v2M425 58v2M427 304v2M427 320v2M433 320v2M437 304v2M443 304v2M451 320v2M453 320v2M457 308v2M473 320v2M481 320v2"/><path stroke="#afff50" d="M1 30v2M1 42v2M3 312v10M3 326v2M5 316v4M5 324v2M13 322v4M15 26v2M17 322v4M19 10v2M21 308v4M23 34v2M23 312v2M27 18v2M29 326v2M31 318v2M33 304v2M33 318v2M35 302v2M35 306v10M37 320v2M39 304v2M39 308v4M39 320v2M43 6v2M43 302v2M43 322v4M45 308v2M45 326v2M47 302v2M47 318v2M49 302v4M51 320v2M51 326v2M53 314v4M53 322v4M55 300v2M55 304v2M55 318v4M57 312v2M59 30v2M59 320v2M61 318v2M63 0v2M63 318v2M65 304v2M65 318v4M67 6v2M67 318v2M69 310v4M71 302v4M71 320v2M73 58v2M73 304v2M77 302v4M77 318v8M79 16v2M79 300v2M79 314v4M79 322v2M79 326v2M81 14v4M81 28v2M81 46v4M81 298v2M81 316v2M83 304v2M83 308v2M83 316v2M83 322v2M101 4v2M101 306v4M103 36v2M103 302v2M103 306v4M105 304v2M105 308v2M105 314v4M107 302v2M107 308v4M109 20v2M109 48v2M109 314v2M111 24v2M111 32v2M111 306v4M113 20v2M113 46v2M113 64v2M115 4v4M115 302v6M117 50v2M117 310v2M119 22v2M119 36v2M119 50v2M119 318v2M121 4v4M123 314v2M133 12v2M135 42v2M137 6v2M137 38v4M141 0v2M143 20v2M145 4v2M145 12v2M145 100v2M147 14v2M147 24v2M147 32v2M147 116v2M149 20v4M149 38v2M151 100v2M151 106v2M153 102v2M155 98v2M157 86v4M157 92v2M157 96v2M157 110v2M159 84v2M159 98v2M161 108v4M165 20v4M165 36v2M169 52v2M171 24v2M173 84v2M209 90v2M215 10v2M215 30v2M217 14v2M219 8v2M221 68v2M223 30v2M231 8v4M233 12v2M233 18v2M235 12v2M235 16v2M235 326v2M237 62v2M243 310v2M243 326v2M249 16v2M251 326v2M255 30v4M265 22v2M265 308v2M271 6v2M271 40v2M275 36v2M289 58v2M289 62v2M303 320v2M317 56v2M317 320v2M321 320v2M325 320v2M327 320v2M341 312v2M349 320v2M351 320v2M357 320v2M389 14v2M391 12v2M391 304v2M399 306v2M413 302v2M413 320v2M415 320v2M419 320v2M421 302v2M423 320v2M425 320v2M433 306v2M441 320v2M447 304v2M447 320v2M449 320v2M455 304v2M457 306v2M457 310v4M459 320v2M461 302v2M461 320v2M469 320v2M477 320v2M479 320v2M483 320v2"/><path stroke="#bfff40" d="M3 324v2M5 322v2M9 6v2M9 322v2M11 326v2M13 326v2M15 30v2M15 322v4M17 326v2M19 326v2M21 322v6M23 22v2M23 322v2M25 322v2M31 18v2M31 322v2M35 304v2M35 316v6M37 316v2M37 322v6M39 306v2M39 312v4M41 302v2M41 322v2M43 320v2M45 310v2M47 4v2M47 304v2M47 308v2M49 32v2M49 312v4M51 308v6M51 324v2M53 302v2M53 310v4M55 302v2M55 314v4M55 324v4M57 308v4M57 314v2M57 318v4M59 28v2M59 316v2M61 322v4M63 320v2M67 20v2M67 302v4M67 308v2M67 320v2M69 6v2M69 26v2M69 46v2M69 308v2M69 314v4M69 322v4M71 2v2M71 6v2M71 318v2M71 322v2M73 318v4M75 304v2M75 312v2M75 320v2M77 326v2M79 324v2M81 302v8M81 314v2M83 300v4M83 310v2M101 48v2M103 304v2M103 314v2M103 318v2M105 4v2M105 306v2M105 318v2M107 22v2M109 316v4M111 22v2M111 28v2M111 304v2M111 310v8M113 62v2M115 16v2M115 72v2M115 308v6M117 0v2M117 12v2M117 40v2M117 306v4M121 40v2M123 50v2M123 316v4M131 16v2M133 60v2M135 24v2M135 46v2M137 8v2M137 12v2M139 14v2M139 32v4M145 28v2M145 78v2M147 10v4M147 92v2M149 100v2M151 78v2M153 100v2M155 84v2M155 92v2M159 86v2M159 108v2M161 100v2M163 98v2M165 10v2M165 24v2M167 28v2M169 0v2M209 82v2M211 64v2M213 2v2M215 28v2M217 308v2M221 308v2M233 46v2M235 10v2M239 66v2M241 16v2M253 306v2M255 326v2M259 36v2M261 22v2M263 24v2M263 310v2M269 30v2M271 38v2M277 36v2M281 28v2M283 42v2M291 66v2M299 308v2M307 308v2M319 306v2M331 310v2M343 310v2M345 320v2M361 308v2M369 320v2M403 306v2M411 302v2M429 306v2M451 304v2M457 314v2M457 318v2M459 304v2M461 310v4M467 318v2M469 306v4"/><path stroke="#cfff30" d="M1 322v2M1 326v2M3 8v2M3 46v4M3 322v2M7 326v2M9 324v2M11 4v2M11 322v4M15 34v4M15 326v2M19 322v4M27 322v2M27 326v2M31 4v2M33 10v2M33 320v4M35 324v4M37 306v6M37 314v2M39 2v2M39 318v2M41 304v2M41 324v2M43 304v2M43 318v2M45 306v2M47 22v2M47 28v2M47 36v2M47 310v2M47 324v2M49 6v2M49 34v2M49 306v6M49 316v6M49 324v2M51 306v2M51 322v2M53 304v2M53 308v2M55 306v8M55 322v2M57 306v2M57 324v2M61 312v4M63 24v2M63 306v2M63 314v2M63 322v4M67 306v2M67 316v2M69 306v2M69 326v2M71 306v6M73 16v2M73 60v2M73 314v4M75 310v2M75 314v2M75 318v2M79 14v2M81 0v2M81 12v2M81 36v2M81 300v2M81 310v4M83 312v4M83 324v2M101 40v2M103 6v2M105 2v2M111 26v2M111 302v2M113 6v2M115 8v2M117 34v2M121 42v2M125 10v2M125 52v2M131 22v2M131 36v2M133 68v2M135 4v2M135 16v2M135 40v2M135 48v2M139 44v2M141 68v2M143 22v2M145 18v2M145 26v2M145 90v2M149 32v2M149 50v2M151 112v2M155 86v2M155 94v2M155 108v2M157 94v2M157 98v2M215 26v2M217 20v2M225 48v2M233 16v2M235 54v2M239 68v2M241 24v2M245 310v2M249 58v2M265 24v2M267 308v2M269 8v2M271 8v2M273 2v2M277 32v4M281 30v2M283 34v2M285 308v2M291 64v2M295 308v2M329 312v2M353 310v2M363 308v2M367 304v2M379 306v2M395 306v2M401 320v2M407 320v2M441 304v2M453 304v2M457 316v2M459 310v8M461 308v2M463 318v2M465 318v2M467 302v2M469 300v2M469 304v2M469 310v2M469 316v4M471 304v8M471 318v2M473 300v2M473 304v4M473 316v4M475 316v4M477 302v6M477 316v2M479 304v2M481 304v2M481 318v2M483 310v2"/><path stroke="#dfff20" d="M1 324v2M7 324v2M9 326v2M13 0v2M27 324v2M35 322v2M37 312v2M39 316v2M41 310v2M43 308v8M45 312v6M47 6v2M47 306v2M47 326v2M49 322v2M49 326v2M51 314v4M57 316v2M57 326v2M59 306v4M59 314v2M61 306v2M61 310v2M61 316v2M61 326v2M63 308v6M63 316v2M65 316v2M65 322v2M67 310v2M69 18v2M71 312v6M73 4v2M73 312v2M75 20v2M77 306v6M77 316v2M79 20v2M79 24v2M101 30v4M101 68v2M103 316v2M107 36v2M111 34v2M111 300v2M113 12v2M113 40v2M115 2v2M115 32v2M117 10v2M125 18v2M129 44v2M133 62v2M135 10v2M135 32v2M147 98v4M149 28v2M149 42v2M151 108v2M153 78v2M153 86v2M153 90v2M159 96v2M161 96v2M163 22v2M163 84v2M165 18v2M165 26v2M165 32v2M167 26v2M169 4v2M201 86v2M213 20v2M215 324v2M217 30v2M223 324v2M231 6v2M233 14v2M233 28v2M233 32v2M237 12v2M237 34v2M239 6v2M239 12v2M241 28v2M243 44v2M249 308v2M259 310v2M261 0v2M263 36v2M265 26v2M269 38v2M275 54v2M277 38v2M281 4v2M281 38v2M283 32v2M289 60v2M297 318v2M303 312v2M313 316v4M315 318v2M319 62v2M337 314v6M345 308v2M351 310v2M357 308v8M359 320v2M361 320v2M363 320v2M369 304v2M371 306v2M375 308v4M379 318v2M399 322v2M405 320v2M409 306v2M409 320v2M415 304v2M417 304v2M439 304v2M449 304v2M457 304v2M459 306v2M459 318v2M461 304v4M461 314v2M463 302v2M463 308v4M465 302v8M465 316v2M467 310v2M467 316v2M469 302v2M469 312v4M471 312v2M473 302v2M473 308v8M475 300v2M475 310v6M477 308v2M477 314v2M477 318v2M479 306v2M481 306v2M481 316v2M483 304v6M483 312v8"/><path stroke="#efff10" d="M1 4v2M3 50v2M7 322v2M15 44v2M21 36v2M41 308v2M41 312v2M41 316v2M41 326v2M43 306v2M43 316v2M47 24v2M47 38v2M47 312v2M47 316v2M53 306v2M59 310v4M61 308v2M65 306v10M67 14v2M67 312v4M73 14v2M73 306v6M75 316v2M77 312v4M101 6v2M105 14v2M107 6v2M107 26v2M111 38v2M115 56v2M117 2v2M117 14v2M121 26v2M125 20v2M129 8v2M129 12v2M133 22v2M133 58v2M137 36v2M137 78v2M139 30v2M145 14v2M147 6v2M149 92v2M149 108v2M151 94v2M151 110v2M153 80v2M155 82v2M155 96v2M157 100v2M163 24v2M165 6v2M165 12v2M167 6v4M171 28v2M213 66v2M215 24v2M219 324v2M225 28v2M227 8v2M231 324v2M233 22v2M233 30v2M239 10v2M241 26v2M247 310v2M259 30v2M261 6v2M261 310v2M261 324v2M265 324v2M269 14v2M269 58v2M281 20v4M285 310v2M287 310v4M289 318v2M291 312v4M293 310v2M293 318v2M295 318v2M297 316v2M299 312v2M301 312v2M303 314v2M307 310v4M307 318v2M309 310v4M311 312v8M313 310v2M313 314v2M315 316v2M319 308v2M319 316v2M331 314v2M333 310v2M333 316v4M337 310v4M339 312v4M341 314v4M343 312v2M345 310v2M347 314v4M349 310v2M353 316v4M355 314v2M357 316v2M367 312v4M373 306v2M373 318v2M375 306v2M375 312v2M375 318v2M377 318v2M379 316v2M389 320v2M393 306v2M393 322v2M425 304v2M459 308v2M461 316v2M463 304v4M463 316v2M465 310v2M467 304v6M467 312v2M471 302v2M471 314v4M475 304v6M477 310v2M479 308v6M479 318v2M481 308v2"/><path stroke="#ffff00" d="M1 20v2M11 14v2M21 2v2M23 26v2M27 16v2M29 18v2M41 306v2M41 314v2M47 26v2M47 314v2M51 14v2M73 12v2M75 306v4M107 24v2M107 34v2M111 36v2M113 28v2M115 58v2M119 8v2M121 20v2M123 8v2M123 46v2M125 28v2M129 14v2M131 2v4M133 14v2M133 32v2M135 8v2M135 70v2M137 10v2M147 96v2M149 106v2M151 84v2M151 92v2M157 108v2M163 12v2M163 92v2M167 30v2M213 310v2M215 22v2M217 32v2M223 0v2M229 60v2M233 324v2M237 324v2M239 308v2M239 324v2M241 310v2M243 324v2M245 18v4M245 324v2M247 56v2M249 324v2M257 324v2M259 2v2M259 6v2M259 324v2M267 324v2M269 2v2M269 28v2M269 36v2M271 10v2M281 26v2M281 36v2M285 312v2M285 318v2M287 318v2M291 316v4M293 316v2M295 310v2M297 308v8M299 314v2M299 318v2M303 316v2M305 310v2M305 316v2M307 314v4M309 308v2M309 318v2M311 54v2M311 308v4M313 312v2M315 314v2M319 310v6M319 318v2M327 308v2M331 312v2M331 316v2M333 314v2M335 312v8M339 316v4M341 318v2M343 314v6M345 312v4M347 308v6M347 318v2M349 312v4M353 312v4M355 310v4M355 316v4M357 318v2M367 316v2M371 308v2M371 318v2M373 308v4M373 316v2M375 314v4M377 306v2M377 316v2M379 312v4M391 320v2M395 322v2M397 322v2M415 308v4M421 306v4M421 318v2M425 316v2M431 308v2M431 316v4M435 306v2M441 310v2M443 308v4M447 308v6M451 310v4M461 318v2M463 312v4M465 312v4M467 314v2M471 300v2M477 312v2M479 314v4M481 310v6"/><path stroke="#ffef00" d="M39 0v2M73 26v2M75 8v2M101 22v2M101 50v2M103 12v2M107 8v2M111 8v2M115 0v2M117 20v2M119 32v2M125 8v2M129 16v2M131 12v2M133 0v2M133 70v2M137 34v2M145 16v2M147 8v2M149 24v2M151 86v2M151 90v2M155 90v2M155 106v2M159 88v2M163 94v4M165 2v2M165 14v2M201 88v2M213 324v2M221 324v2M225 324v2M229 8v2M239 64v2M247 324v2M251 324v2M253 324v2M255 308v2M259 28v2M263 324v2M269 4v4M269 26v2M281 2v2M285 314v4M287 314v4M289 312v2M289 316v2M293 312v4M295 312v2M295 316v2M299 310v2M299 316v2M301 314v6M303 318v2M305 314v2M305 318v2M309 314v4M315 312v2M317 312v2M317 318v2M321 308v2M321 318v2M331 318v2M333 312v2M335 310v2M345 316v2M349 316v2M351 312v2M365 308v2M367 310v2M367 318v2M369 314v6M373 314v2M377 308v8M379 310v2M413 308v4M415 306v2M415 312v6M417 318v2M421 304v2M425 308v2M425 318v2M435 308v2M435 318v2M437 318v2M439 318v2M441 308v2M443 312v8M445 306v2M447 306v2M447 314v2M449 314v2M455 320v2M475 302v2"/><path stroke="#ffdf00" d="M9 16v2M15 28v2M31 16v2M71 4v2M73 24v2M75 18v2M101 14v2M101 38v2M105 24v2M107 28v2M121 18v2M135 6v2M139 26v2M139 42v2M149 34v4M159 94v2M163 90v2M165 0v2M165 4v2M165 34v2M167 34v2M169 24v2M213 0v2M213 18v2M217 324v2M229 6v2M229 26v2M233 34v2M235 324v2M241 324v2M253 58v2M255 324v2M263 58v2M281 24v2M283 40v2M289 314v2M295 314v2M305 312v2M317 316v2M321 310v2M321 316v2M329 316v4M345 318v2M349 318v2M365 320v2M367 308v2M369 312v2M371 310v2M371 316v2M373 312v2M379 308v2M403 320v2M411 314v4M415 318v2M417 306v2M417 310v8M419 304v10M421 310v2M421 316v2M423 306v6M423 316v2M425 306v2M425 310v6M427 312v2M429 310v2M431 314v2M433 310v6M435 310v2M435 316v2M437 306v8M439 306v4M439 316v2M441 306v2M441 312v2M443 306v2M445 314v6M447 316v4M449 316v2M451 308v2M451 318v2"/><path stroke="#ffcf00" d="M31 14v2M67 16v2M79 22v2M101 20v2M101 34v2M113 42v2M121 14v4M125 50v2M133 52v2M145 6v2M145 10v2M147 30v2M149 86v2M151 80v4M151 88v2M153 84v2M153 94v2M155 88v2M159 82v2M159 90v2M161 98v2M163 86v2M169 6v2M233 26v2M241 4v2M269 0v2M269 24v2M317 314v2M321 312v4M325 308v6M329 314v2M351 314v6M367 306v2M369 306v2M369 310v2M371 312v4M411 304v2M411 312v2M411 318v2M413 304v4M413 312v2M417 308v2M419 314v6M421 314v2M423 304v2M423 312v4M423 318v2M427 306v2M427 310v2M427 314v6M429 308v2M429 312v8M431 312v2M433 308v2M433 316v4M435 312v4M437 314v4M439 310v2M439 314v2M441 314v2M445 310v4M449 312v2M451 306v2M451 314v4M453 306v2M453 316v4"/><path stroke="#ffbf00" d="M75 16v2M101 28v2M101 36v2M103 40v2M113 24v2M113 30v2M113 44v2M115 18v2M117 8v2M121 22v2M123 48v2M133 28v2M149 82v2M153 82v2M159 92v2M163 88v2M171 26v2M203 82v8M205 84v6M207 84v6M209 84v6M211 90v2M261 2v2M273 0v2M273 44v2M323 310v2M325 314v4M369 308v2M411 306v6M413 314v6M421 312v2M427 308v2M431 310v2M439 312v2M441 316v2M445 308v2M449 306v6M449 318v2M453 308v2"/><path stroke="#ffaf00" d="M67 18v2M101 16v2M103 38v2M105 16v2M107 32v2M111 10v2M117 6v2M129 10v2M133 2v2M135 18v2M139 28v2M147 84v2M147 94v2M149 26v2M163 10v2M165 16v2M173 6v2M239 14v2M239 20v2M269 16v2M269 20v4M315 64v4M317 62v6M319 64v4M321 64v4M323 308v2M323 312v2M323 318v2M325 318v2M327 314v2M441 318v2M453 314v2"/><path stroke="#ff9f00" d="M1 18v2M65 2v2M73 10v2M75 4v2M101 8v2M101 24v4M105 18v2M115 14v2M117 4v2M117 16v2M123 6v2M133 6v2M133 16v2M163 8v2M173 14v2M217 18v2M233 24v2M233 36v2M323 314v4M327 316v4M453 310v4"/><path stroke="#ff8f00" d="M23 32v2M29 324v2M39 324v2M59 326v2M73 6v2M103 8v2M121 24v2M131 14v2M133 20v2M133 30v2M135 22v2M149 84v2M149 88v2M153 92v2M159 80v2M167 32v2M167 52v2M227 12v2M239 16v2M243 322v2M253 312v2M257 310v4M261 4v2M269 18v2M271 4v2M327 310v4M389 314v2"/><path stroke="#ff8000" d="M21 0v2M33 326v2M45 322v2M71 324v2M75 322v2M105 26v2M107 30v2M113 22v2M117 18v2M149 44v2M149 48v2M167 0v2M217 16v2M233 320v4M237 318v2M239 8v2M241 14v2M241 312v2M253 308v4M253 314v6M259 4v2M259 316v2M261 322v2M263 312v8M389 312v2M389 316v2"/><path stroke="#ff7000" d="M59 322v2M63 326v2M75 6v2M113 10v2M133 56v2M145 8v2M147 80v2M149 90v2M167 2v4M215 318v6M219 316v2M231 310v2M231 320v4M233 308v2M233 318v2M237 320v2M239 320v4M241 314v2M241 320v2M243 320v2M245 312v6M247 312v8M251 318v4M253 320v2M257 314v2M259 312v4M259 322v2M261 320v2M263 320v2M359 318v2M361 310v4M363 312v2M403 310v2M409 314v6"/><path stroke="#ff6000" d="M9 14v2M11 6v2M23 28v2M39 326v2M83 326v2M103 10v2M133 54v2M135 20v2M147 78v2M173 10v2M215 316v2M223 310v4M223 322v2M225 310v2M225 320v2M227 10v2M233 310v2M233 314v4M235 310v4M237 306v2M237 316v2M237 322v2M239 18v2M239 312v4M239 318v2M241 8v2M241 316v4M243 318v2M245 322v2M247 320v2M249 310v12M251 308v4M251 322v2M255 310v4M259 318v4M261 318v2M361 318v2M363 314v2M365 316v2M389 306v2M389 318v2M391 310v2M401 308v2M403 308v2M403 312v2M405 318v2M407 310v4M407 318v2M409 310v4M455 306v8"/><path stroke="#ff5000" d="M65 326v2M75 326v2M101 12v2M101 18v2M115 10v2M133 18v2M173 8v2M215 314v2M217 314v4M219 314v2M219 318v6M221 310v8M223 314v4M225 312v2M225 318v2M225 322v2M231 312v8M233 312v2M235 306v4M235 314v6M237 308v8M239 310v2M239 316v2M241 322v2M243 312v6M245 318v4M249 322v2M251 312v2M251 316v2M253 322v2M255 320v4M257 316v8M261 316v2M263 322v2M265 310v6M265 320v4M267 320v4M359 308v2M359 316v2M361 314v4M363 310v2M363 316v4M365 312v4M389 308v4M391 306v4M391 312v2M403 314v2M405 308v4M405 316v2M407 308v2M407 314v4M409 308v2M455 314v6"/><path stroke="#ff4000" d="M57 322v2M65 0v2M67 324v2M81 324v2M115 24v2M119 34v2M133 4v2M173 12v2M213 312v8M215 310v4M217 312v2M217 318v2M221 318v2M223 318v4M225 314v4M235 320v4M241 6v2M247 322v2M251 314v2M255 314v2M255 318v2M261 312v4M265 316v4M359 310v2M365 310v2M365 318v2M391 314v2M401 310v10M403 316v2M405 312v4"/><path stroke="#ff3000" d="M1 2v2M23 30v2M33 324v2M67 322v2M73 8v2M73 322v2M101 10v2M149 46v2M213 320v2M217 310v2M219 312v2M255 316v2M267 310v6M267 318v2M359 312v4M391 316v4"/><path stroke="#ff2000" d="M43 326v2M47 322v2M59 324v2M65 324v2M71 326v2M113 8v2M147 82v2M213 322v2M217 320v4M219 310v2M221 320v4M241 10v2M267 316v2M399 310v4M403 318v2"/><path stroke="#ff1000" d="M9 8v6M11 8v6M13 8v6M45 324v2M241 12v2"/><path stroke="#ff0000" d="M39 322v2M73 324v2"/><path stroke="#ef0000" d="M29 322v2M67 326v2M75 324v2M397 312v4M399 308v2M399 314v2"/><path stroke="#df0000" d="M197 72v16M199 72v14M201 72v14M393 308v6M393 318v4M395 308v6M395 318v4M397 310v2M397 316v2M397 320v2M399 316v6"/><path stroke="#cf0000" d="M1 0v2M81 322v2M115 12v2M227 302v2M269 314v2M393 314v4M395 316v2M397 308v2M397 318v2"/><path stroke="#bf0000" d="M115 20v2M227 304v4M227 320v6M229 316v4M269 316v2M395 314v2"/><path stroke="#af0000" d="M199 304v2M211 320v2M227 308v2M227 312v4M229 306v6M229 320v2M229 324v2M269 304v4M271 304v4M271 310v8M313 52v4M315 52v4M317 52v4M427 56v4M429 56v4"/><path stroke="#9f0000" d="M197 322v2M199 302v2M199 306v2M211 318v2M211 322v2M227 310v2M227 316v4M229 304v2M229 312v4M229 322v2M269 312v2M269 318v2M269 322v4M271 308v2M271 322v4"/><path stroke="#8f0000" d="M197 302v8M197 320v2M197 324v2M199 300v2M199 308v2M201 304v2M205 302v4M205 318v4M207 324v2M209 304v4M209 322v4M211 316v2M211 324v2M269 302v2M269 308v2M269 320v2M271 2v2M271 318v4"/><path stroke="#800000" d="M13 2v6M15 2v10M17 2v10M19 2v8M23 10v6M25 8v8M27 8v8M29 6v12M31 6v8M33 6v4M115 22v2M131 72v6M133 72v6M135 72v6M137 72v6M139 72v6M149 0v20M151 0v70M153 0v72M155 0v76M157 0v40M157 48v30M159 0v40M159 50v30M161 0v40M161 50v34M163 52v32M165 54v30M167 54v30M169 54v30M171 56v28M173 56v28M197 310v10M199 310v16M201 302v2M201 306v20M203 302v24M205 306v12M205 322v4M207 300v24M209 300v4M209 308v14M211 302v14M213 60v6M215 60v6M217 60v6M219 60v6M221 60v8M223 50v8M223 62v6M225 50v6M225 62v6M227 50v6M227 62v6M229 50v6M229 62v8M231 48v8M231 64v6M233 48v6M233 64v6M235 48v6M235 64v6M237 46v8M237 64v6M239 46v6M241 46v6M243 46v6M249 54v4M251 42v4M251 52v6M253 42v4M253 50v8M255 40v6M255 50v8M257 40v4M257 48v10M259 40v4M259 48v10M261 40v4M261 46v12M263 44v14M265 44v14M267 46v12M269 46v12M269 310v2M271 0v2M271 46v12M273 46v12M277 40v16M279 40v20M281 40v24M283 46v20M285 52v16M287 58v10M289 64v4"/></g><rect x="85" y="0" width="15" height="327" fill="#eaebee"/><rect x="175" y="0" width="21" height="327" fill="#eaebee"/><rect x="381" y="0" width="7" height="327" fill="#eaebee"/></svg>
<svg class="cb" width="29" height="326"><rect x="0" y="321" width="29" height="5" fill="#ededf1"/><rect x="0" y="315.90" width="29" height="5.60" fill="#00009f"/><rect x="0" y="310.81" width="29" height="5.60" fill="#0000af"/><rect x="0" y="305.71" width="29" height="5.60" fill="#0000bf"/><rect x="0" y="300.62" width="29" height="5.60" fill="#0000cf"/><rect x="0" y="295.52" width="29" height="5.60" fill="#0000df"/><rect x="0" y="290.43" width="29" height="5.60" fill="#0000ef"/><rect x="0" y="285.33" width="29" height="5.60" fill="#0000ff"/><rect x="0" y="280.24" width="29" height="5.60" fill="#0010ff"/><rect x="0" y="275.14" width="29" height="5.60" fill="#0020ff"/><rect x="0" y="270.05" width="29" height="5.60" fill="#0030ff"/><rect x="0" y="264.95" width="29" height="5.60" fill="#0040ff"/><rect x="0" y="259.86" width="29" height="5.60" fill="#0050ff"/><rect x="0" y="254.76" width="29" height="5.60" fill="#0060ff"/><rect x="0" y="249.67" width="29" height="5.60" fill="#0070ff"/><rect x="0" y="244.57" width="29" height="5.60" fill="#0080ff"/><rect x="0" y="239.48" width="29" height="5.60" fill="#008fff"/><rect x="0" y="234.38" width="29" height="5.60" fill="#009fff"/><rect x="0" y="229.29" width="29" height="5.60" fill="#00afff"/><rect x="0" y="224.19" width="29" height="5.60" fill="#00bfff"/><rect x="0" y="219.10" width="29" height="5.60" fill="#00cfff"/><rect x="0" y="214.00" width="29" height="5.60" fill="#00dfff"/><rect x="0" y="208.90" width="29" height="5.60" fill="#00efff"/><rect x="0" y="203.81" width="29" height="5.60" fill="#00ffff"/><rect x="0" y="198.71" width="29" height="5.60" fill="#10ffef"/><rect x="0" y="193.62" width="29" height="5.60" fill="#20ffdf"/><rect x="0" y="188.52" width="29" height="5.60" fill="#30ffcf"/><rect x="0" y="183.43" width="29" height="5.60" fill="#40ffbf"/><rect x="0" y="178.33" width="29" height="5.60" fill="#50ffaf"/><rect x="0" y="173.24" width="29" height="5.60" fill="#60ff9f"/><rect x="0" y="168.14" width="29" height="5.60" fill="#70ff8f"/><rect x="0" y="163.05" width="29" height="5.60" fill="#80ff80"/><rect x="0" y="157.95" width="29" height="5.60" fill="#8fff70"/><rect x="0" y="152.86" width="29" height="5.60" fill="#9fff60"/><rect x="0" y="147.76" width="29" height="5.60" fill="#afff50"/><rect x="0" y="142.67" width="29" height="5.60" fill="#bfff40"/><rect x="0" y="137.57" width="29" height="5.60" fill="#cfff30"/><rect x="0" y="132.48" width="29" height="5.60" fill="#dfff20"/><rect x="0" y="127.38" width="29" height="5.60" fill="#efff10"/><rect x="0" y="122.29" width="29" height="5.60" fill="#ffff00"/><rect x="0" y="117.19" width="29" height="5.60" fill="#ffef00"/><rect x="0" y="112.10" width="29" height="5.60" fill="#ffdf00"/><rect x="0" y="107.00" width="29" height="5.60" fill="#ffcf00"/><rect x="0" y="101.90" width="29" height="5.60" fill="#ffbf00"/><rect x="0" y="96.81" width="29" height="5.60" fill="#ffaf00"/><rect x="0" y="91.71" width="29" height="5.60" fill="#ff9f00"/><rect x="0" y="86.62" width="29" height="5.60" fill="#ff8f00"/><rect x="0" y="81.52" width="29" height="5.60" fill="#ff8000"/><rect x="0" y="76.43" width="29" height="5.60" fill="#ff7000"/><rect x="0" y="71.33" width="29" height="5.60" fill="#ff6000"/><rect x="0" y="66.24" width="29" height="5.60" fill="#ff5000"/><rect x="0" y="61.14" width="29" height="5.60" fill="#ff4000"/><rect x="0" y="56.05" width="29" height="5.60" fill="#ff3000"/><rect x="0" y="50.95" width="29" height="5.60" fill="#ff2000"/><rect x="0" y="45.86" width="29" height="5.60" fill="#ff1000"/><rect x="0" y="40.76" width="29" height="5.60" fill="#ff0000"/><rect x="0" y="35.67" width="29" height="5.60" fill="#ef0000"/><rect x="0" y="30.57" width="29" height="5.60" fill="#df0000"/><rect x="0" y="25.48" width="29" height="5.60" fill="#cf0000"/><rect x="0" y="20.38" width="29" height="5.60" fill="#bf0000"/><rect x="0" y="15.29" width="29" height="5.60" fill="#af0000"/><rect x="0" y="10.19" width="29" height="5.60" fill="#9f0000"/><rect x="0" y="5.10" width="29" height="5.60" fill="#8f0000"/><rect x="0" y="0.00" width="29" height="5.60" fill="#800000"/><path d="M1 79.2h3M24 79.2h4" stroke="#000" stroke-width="1"/><path d="M1 160.1h3M24 160.1h4" stroke="#000" stroke-width="1"/><path d="M1 240.9h3M24 240.9h4" stroke="#000" stroke-width="1"/><rect x="0.5" y="0.5" width="28" height="325" fill="none" stroke="#000" stroke-width="1"/></svg>
<svg class="page" width="700" height="420" viewBox="0 0 700 420">
<line x1="90.5" y1="40" x2="90.5" y2="367" stroke="#000" stroke-width="1"/>
<line x1="90" y1="40.5" x2="574" y2="40.5" stroke="#000" stroke-width="1"/>
<g font-size="22">
<text transform="translate(3.9,24.4) scale(1.1055,1)">2008-02-25 ,CCNY-Lidar, aerosol extinction (km</text>
<text font-size="14" transform="translate(517.6,14.6) scale(1.1,1)">-</text>
<text font-size="14" transform="translate(524.5,14.6) scale(1.1,1)">1</text>
<text transform="translate(534.5,24.4) scale(1.09,1)">) at 355-nm</text>
</g>
<g font-size="22" text-anchor="end">
<text transform="translate(87.3,74.6) scale(1.1,1)">6</text>
<text transform="translate(87.3,128.2) scale(1.1,1)">5</text>
<text transform="translate(87.3,181.7) scale(1.1,1)">4</text>
<text transform="translate(87.3,235.3) scale(1.1,1)">3</text>
<text transform="translate(87.3,288.9) scale(1.1,1)">2</text>
<text transform="translate(87.3,342.5) scale(1.1,1)">1</text>
</g>
<g font-size="22" text-anchor="middle">
<text transform="translate(148.2,388.7) scale(1.1,1)">11</text>
<text transform="translate(219.4,388.7) scale(1.1,1)">11.5</text>
<text transform="translate(290.6,388.7) scale(1.1,1)">12</text>
<text transform="translate(361.8,388.7) scale(1.1,1)">12.5</text>
<text transform="translate(433,388.7) scale(1.1,1)">13</text>
<text transform="translate(504.2,388.7) scale(1.1,1)">13.5</text>
</g>
<text font-size="22" transform="translate(239.9,412.4) scale(1.093,1)">Local time (hour)</text>
<text font-size="21.5" text-anchor="middle" transform="translate(61.3,204.8) rotate(-90)">Altitude (km)</text>
<g font-size="22">
<text transform="translate(632,49.3) scale(1.1,1)">0.2</text>
<text transform="translate(632,128.8) scale(1.1,1)">0.15</text>
<text transform="translate(632,209.7) scale(1.1,1)">0.1</text>
<text transform="translate(632,290.5) scale(1.1,1)">0.05</text>
<text transform="translate(632,370.7) scale(1.1,1)">0</text>
</g>
</svg>
</body></html>
